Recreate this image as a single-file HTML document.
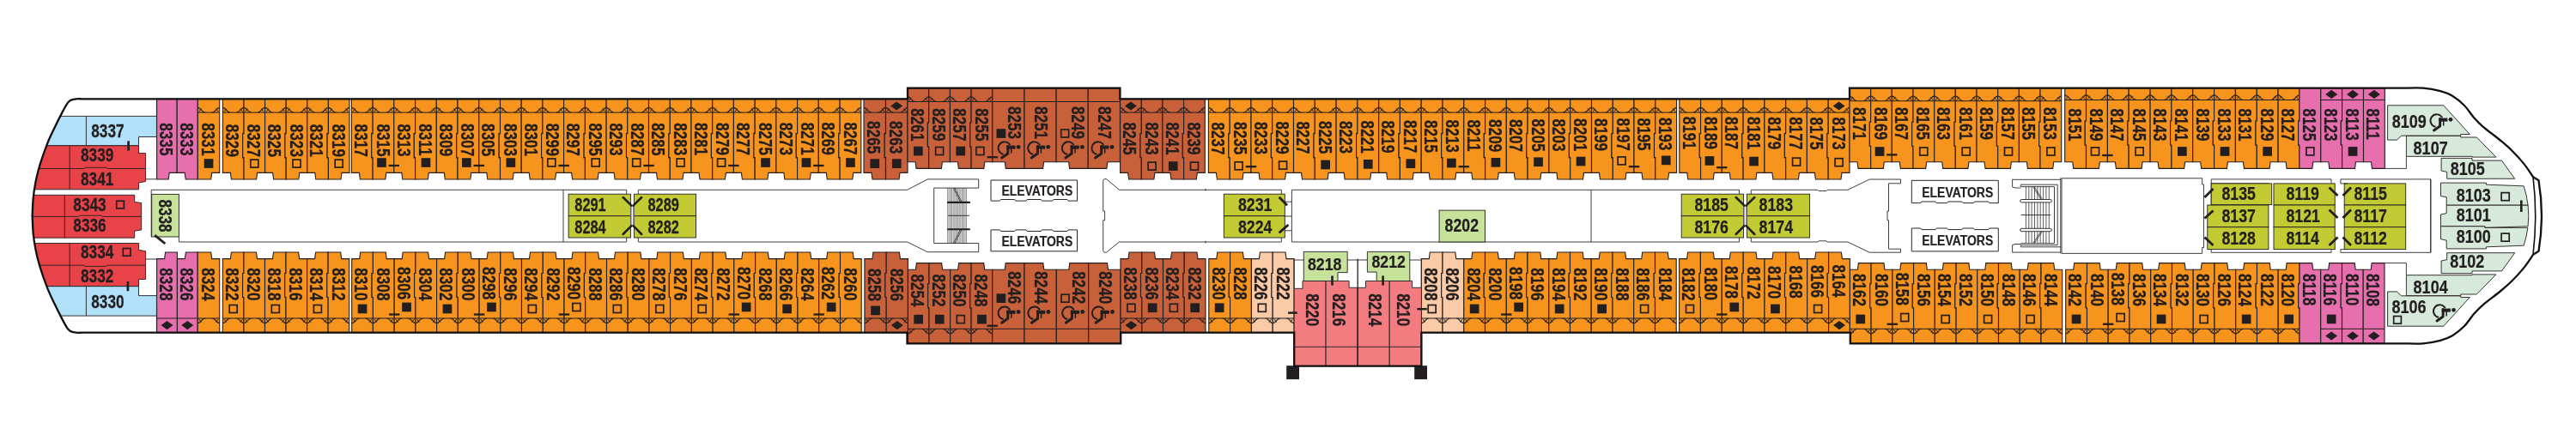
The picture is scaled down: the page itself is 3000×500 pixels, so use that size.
<!DOCTYPE html>
<html><head><meta charset="utf-8"><title>Deck 8</title>
<style>
html,body{margin:0;padding:0;background:#fff;}
svg{display:block;will-change:transform;}
text{font-family:"Liberation Sans",sans-serif;font-weight:bold;fill:#231f20;stroke:#231f20;stroke-width:0.25px;}
</style></head><body>
<svg width="3000" height="500" viewBox="0 0 3000 500">
<rect width="3000" height="500" fill="#fff"/>
<path d="M37.6 251.5 C37.8 248.2 38 238.6 38.6 232 C39.2 225.4 40.2 218.7 41.5 212 C42.8 205.3 44.2 199.5 46.5 192 C48.8 184.5 52.4 174.3 55.2 167.1 C58.1 159.9 60.8 154.6 63.6 148.7 C66.4 142.8 69.5 136.7 72 131.9 C74.5 127.1 76.9 122.6 78.7 120.1 C80.5 117.5 81.1 117.4 82.8 116.6 C84.5 115.8 86.5 115.5 88.7 115.3 C90.9 115.1 93.5 115.3 96 115.3 C98.5 115.3 102.7 115.3 104 115.3 L1057 115.3 L1057 102.7 L1304.4 102.7 L1304.4 115.3 L2154 115.3 L2154 102.7 L2800 102.7 C2803.7 102.7 2815 102.1 2822 102.7 C2829 103.3 2836.3 104.7 2842 106.2 C2847.7 107.7 2851.3 109 2856 111.8 C2860.7 114.6 2865.8 118.8 2870 123 C2874.2 127.2 2877.3 132.8 2881 137 C2884.7 141.2 2887.1 143.7 2892.2 148.1 C2897.3 152.5 2906.2 158.8 2911.8 163.5 C2917.4 168.2 2921.2 171.3 2925.8 176 C2930.5 180.7 2935.7 186.4 2939.7 191.4 C2943.7 196.4 2948.3 203.7 2950 206.2 L2956.5 210.2 C2961 237 2961 266 2956.5 292.8 L2950 296.8 C2948.3 299.3 2943.7 306.6 2939.7 311.6 C2935.7 316.6 2930.5 322.4 2925.8 327 C2921.2 331.6 2917.4 334.9 2911.8 339.5 C2906.2 344.1 2897.3 350.5 2892.2 354.9 C2887.1 359.3 2884.7 361.8 2881 366 C2877.3 370.2 2874.2 375.8 2870 380 C2865.8 384.2 2860.7 388.4 2856 391.2 C2851.3 394 2847.7 395.3 2842 396.8 C2836.3 398.3 2829 399.7 2822 400.3 C2815 400.9 2803.7 400.3 2800 400.3 L2154.9 400.3 L2154.9 387.7 L1655.4 387.7 L1655.4 426.6 L1507.2 426.6 L1507.2 387.7 L1305.2 387.7 L1305.2 400.3 L1056.5 400.3 L1056.5 387.7 L104 387.7 C102.7 387.7 98.5 387.7 96 387.7 C93.5 387.7 90.9 387.9 88.7 387.7 C86.5 387.5 84.5 387.2 82.8 386.4 C81.1 385.6 80.5 385.4 78.7 382.9 C76.9 380.3 74.5 375.9 72 371.1 C69.5 366.3 66.4 360.2 63.6 354.3 C60.8 348.4 58.1 343.1 55.2 335.9 C52.4 328.7 48.8 318.5 46.5 311 C44.2 303.5 42.8 297.7 41.5 291 C40.2 284.3 39.2 277.6 38.6 271 C38 264.4 37.8 254.8 37.6 251.5 Z" fill="#fff" stroke="none"/>
<path d="M182.6 115.3 L206.2 115.3 L206.2 201.4 L197.2 201.4 L196.2 209 L182.6 209Z" fill="#e86fae" stroke="#231f20" stroke-width="1.1" stroke-linejoin="miter" />
<path d="M206.2 115.3 L230.3 115.3 L230.3 209 L216.2 209 L215.2 201.4 L206.2 201.4Z" fill="#e86fae" stroke="#231f20" stroke-width="1.1" stroke-linejoin="miter" />
<path d="M230.3 115.3 L255.7 115.3 L255.7 201.4 L246.7 201.4 L245.7 209 L230.3 209Z" fill="#f7941d" stroke="#231f20" stroke-width="1.1" stroke-linejoin="miter" />
<path d="M230.3 131.1 L255.7 131.1" fill="none" stroke="#231f20" stroke-width="1.0" />
<path d="M239.1 131.1 C235.7 131.1 234.5 125.2 230.3 125.2 M237.1 131.1 L230.9 125.6 M234.6 126.5 L231.7 130.4 M246.9 131.1 C250.3 131.1 251.5 125.2 255.7 125.2 M248.9 131.1 L255.1 125.6 M251.4 126.5 L254.3 130.4" fill="none" stroke="#231f20" stroke-width="0.9"/>
<path d="M169.6 208.8 L182.6 208.8" fill="none" stroke="#231f20" stroke-width="0.9" />
<path d="M259.4 115.3 L284 115.3 L284 155.6 L282.7 155.6 L282.7 183.6 L284 183.6 L284 209 L269.4 209 L268.4 201.4 L259.4 201.4Z" fill="#f7941d" stroke="#231f20" stroke-width="1.1" stroke-linejoin="miter" />
<path d="M259.4 131.1 L284 131.1" fill="none" stroke="#231f20" stroke-width="1.0" />
<path d="M284 115.3 L308.6 115.3 L308.6 201.4 L299.6 201.4 L298.6 209 L284 209 L284 183.6 L282.7 183.6 L282.7 155.6 L284 155.6Z" fill="#f7941d" stroke="#231f20" stroke-width="1.1" stroke-linejoin="miter" />
<path d="M284 131.1 L308.6 131.1" fill="none" stroke="#231f20" stroke-width="1.0" />
<path d="M308.6 115.3 L333.2 115.3 L333.2 155.6 L331.9 155.6 L331.9 183.6 L333.2 183.6 L333.2 209 L318.6 209 L317.6 201.4 L308.6 201.4Z" fill="#f7941d" stroke="#231f20" stroke-width="1.1" stroke-linejoin="miter" />
<path d="M308.6 131.1 L333.2 131.1" fill="none" stroke="#231f20" stroke-width="1.0" />
<path d="M333.2 115.3 L357.8 115.3 L357.8 201.4 L348.8 201.4 L347.8 209 L333.2 209 L333.2 183.6 L331.9 183.6 L331.9 155.6 L333.2 155.6Z" fill="#f7941d" stroke="#231f20" stroke-width="1.1" stroke-linejoin="miter" />
<path d="M333.2 131.1 L357.8 131.1" fill="none" stroke="#231f20" stroke-width="1.0" />
<path d="M357.8 115.3 L382.4 115.3 L382.4 155.6 L381.1 155.6 L381.1 183.6 L382.4 183.6 L382.4 209 L367.8 209 L366.8 201.4 L357.8 201.4Z" fill="#f7941d" stroke="#231f20" stroke-width="1.1" stroke-linejoin="miter" />
<path d="M357.8 131.1 L382.4 131.1" fill="none" stroke="#231f20" stroke-width="1.0" />
<path d="M382.4 115.3 L407 115.3 L407 201.4 L398 201.4 L397 209 L382.4 209 L382.4 183.6 L381.1 183.6 L381.1 155.6 L382.4 155.6Z" fill="#f7941d" stroke="#231f20" stroke-width="1.1" stroke-linejoin="miter" />
<path d="M382.4 131.1 L407 131.1" fill="none" stroke="#231f20" stroke-width="1.0" />
<path d="M268.2 131.1 C264.8 131.1 263.6 125.2 259.4 125.2 M266.2 131.1 L260 125.6 M263.7 126.5 L260.8 130.4 M275.2 131.1 C278.6 131.1 279.8 125.2 284 125.2 M277.2 131.1 L283.4 125.6 M279.7 126.5 L282.6 130.4 M292.8 131.1 C289.4 131.1 288.2 125.2 284 125.2 M290.8 131.1 L284.6 125.6 M288.3 126.5 L285.4 130.4 M299.8 131.1 C303.2 131.1 304.4 125.2 308.6 125.2 M301.8 131.1 L308 125.6 M304.3 126.5 L307.2 130.4 M317.4 131.1 C314 131.1 312.8 125.2 308.6 125.2 M315.4 131.1 L309.2 125.6 M312.9 126.5 L310 130.4 M324.4 131.1 C327.8 131.1 329 125.2 333.2 125.2 M326.4 131.1 L332.6 125.6 M328.9 126.5 L331.8 130.4 M342 131.1 C338.6 131.1 337.4 125.2 333.2 125.2 M340 131.1 L333.8 125.6 M337.5 126.5 L334.6 130.4 M349 131.1 C352.4 131.1 353.6 125.2 357.8 125.2 M351 131.1 L357.2 125.6 M353.5 126.5 L356.4 130.4 M366.6 131.1 C363.2 131.1 362 125.2 357.8 125.2 M364.6 131.1 L358.4 125.6 M362.1 126.5 L359.2 130.4 M373.6 131.1 C377 131.1 378.2 125.2 382.4 125.2 M375.6 131.1 L381.8 125.6 M378.1 126.5 L381 130.4 M391.2 131.1 C387.8 131.1 386.6 125.2 382.4 125.2 M389.2 131.1 L383 125.6 M386.7 126.5 L383.8 130.4 M398.2 131.1 C401.6 131.1 402.8 125.2 407 125.2 M400.2 131.1 L406.4 125.6 M402.7 126.5 L405.6 130.4" fill="none" stroke="#231f20" stroke-width="0.9"/>
<path d="M409.4 115.3 L434.1 115.3 L434.1 155.6 L432.8 155.6 L432.8 183.6 L434.1 183.6 L434.1 209 L419.4 209 L418.4 201.4 L409.4 201.4Z" fill="#f7941d" stroke="#231f20" stroke-width="1.1" stroke-linejoin="miter" />
<path d="M409.4 131.1 L434.1 131.1" fill="none" stroke="#231f20" stroke-width="1.0" />
<path d="M434.1 115.3 L458.8 115.3 L458.8 201.4 L449.8 201.4 L448.8 209 L434.1 209 L434.1 183.6 L432.8 183.6 L432.8 155.6 L434.1 155.6Z" fill="#f7941d" stroke="#231f20" stroke-width="1.1" stroke-linejoin="miter" />
<path d="M434.1 131.1 L458.8 131.1" fill="none" stroke="#231f20" stroke-width="1.0" />
<path d="M458.8 115.3 L483.6 115.3 L483.6 155.6 L482.3 155.6 L482.3 183.6 L483.6 183.6 L483.6 209 L468.8 209 L467.8 201.4 L458.8 201.4Z" fill="#f7941d" stroke="#231f20" stroke-width="1.1" stroke-linejoin="miter" />
<path d="M458.8 131.1 L483.6 131.1" fill="none" stroke="#231f20" stroke-width="1.0" />
<path d="M483.6 115.3 L508.3 115.3 L508.3 201.4 L499.3 201.4 L498.3 209 L483.6 209 L483.6 183.6 L482.3 183.6 L482.3 155.6 L483.6 155.6Z" fill="#f7941d" stroke="#231f20" stroke-width="1.1" stroke-linejoin="miter" />
<path d="M483.6 131.1 L508.3 131.1" fill="none" stroke="#231f20" stroke-width="1.0" />
<path d="M508.3 115.3 L533 115.3 L533 155.6 L531.7 155.6 L531.7 183.6 L533 183.6 L533 209 L518.3 209 L517.3 201.4 L508.3 201.4Z" fill="#f7941d" stroke="#231f20" stroke-width="1.1" stroke-linejoin="miter" />
<path d="M508.3 131.1 L533 131.1" fill="none" stroke="#231f20" stroke-width="1.0" />
<path d="M533 115.3 L557.8 115.3 L557.8 201.4 L548.8 201.4 L547.8 209 L533 209 L533 183.6 L531.7 183.6 L531.7 155.6 L533 155.6Z" fill="#f7941d" stroke="#231f20" stroke-width="1.1" stroke-linejoin="miter" />
<path d="M533 131.1 L557.8 131.1" fill="none" stroke="#231f20" stroke-width="1.0" />
<path d="M557.8 115.3 L582.5 115.3 L582.5 155.6 L581.2 155.6 L581.2 183.6 L582.5 183.6 L582.5 209 L567.8 209 L566.8 201.4 L557.8 201.4Z" fill="#f7941d" stroke="#231f20" stroke-width="1.1" stroke-linejoin="miter" />
<path d="M557.8 131.1 L582.5 131.1" fill="none" stroke="#231f20" stroke-width="1.0" />
<path d="M582.5 115.3 L607.2 115.3 L607.2 201.4 L598.2 201.4 L597.2 209 L582.5 209 L582.5 183.6 L581.2 183.6 L581.2 155.6 L582.5 155.6Z" fill="#f7941d" stroke="#231f20" stroke-width="1.1" stroke-linejoin="miter" />
<path d="M582.5 131.1 L607.2 131.1" fill="none" stroke="#231f20" stroke-width="1.0" />
<path d="M607.2 115.3 L631.9 115.3 L631.9 155.6 L630.6 155.6 L630.6 183.6 L631.9 183.6 L631.9 209 L617.2 209 L616.2 201.4 L607.2 201.4Z" fill="#f7941d" stroke="#231f20" stroke-width="1.1" stroke-linejoin="miter" />
<path d="M607.2 131.1 L631.9 131.1" fill="none" stroke="#231f20" stroke-width="1.0" />
<path d="M631.9 115.3 L656.6 115.3 L656.6 201.4 L647.6 201.4 L646.6 209 L631.9 209 L631.9 183.6 L630.6 183.6 L630.6 155.6 L631.9 155.6Z" fill="#f7941d" stroke="#231f20" stroke-width="1.1" stroke-linejoin="miter" />
<path d="M631.9 131.1 L656.6 131.1" fill="none" stroke="#231f20" stroke-width="1.0" />
<path d="M656.6 115.3 L681.4 115.3 L681.4 155.6 L680.1 155.6 L680.1 183.6 L681.4 183.6 L681.4 209 L666.6 209 L665.6 201.4 L656.6 201.4Z" fill="#f7941d" stroke="#231f20" stroke-width="1.1" stroke-linejoin="miter" />
<path d="M656.6 131.1 L681.4 131.1" fill="none" stroke="#231f20" stroke-width="1.0" />
<path d="M681.4 115.3 L706.1 115.3 L706.1 201.4 L697.1 201.4 L696.1 209 L681.4 209 L681.4 183.6 L680.1 183.6 L680.1 155.6 L681.4 155.6Z" fill="#f7941d" stroke="#231f20" stroke-width="1.1" stroke-linejoin="miter" />
<path d="M681.4 131.1 L706.1 131.1" fill="none" stroke="#231f20" stroke-width="1.0" />
<path d="M706.1 115.3 L730.8 115.3 L730.8 155.6 L729.5 155.6 L729.5 183.6 L730.8 183.6 L730.8 209 L716.1 209 L715.1 201.4 L706.1 201.4Z" fill="#f7941d" stroke="#231f20" stroke-width="1.1" stroke-linejoin="miter" />
<path d="M706.1 131.1 L730.8 131.1" fill="none" stroke="#231f20" stroke-width="1.0" />
<path d="M730.8 115.3 L755.5 115.3 L755.5 201.4 L746.5 201.4 L745.5 209 L730.8 209 L730.8 183.6 L729.5 183.6 L729.5 155.6 L730.8 155.6Z" fill="#f7941d" stroke="#231f20" stroke-width="1.1" stroke-linejoin="miter" />
<path d="M730.8 131.1 L755.5 131.1" fill="none" stroke="#231f20" stroke-width="1.0" />
<path d="M755.5 115.3 L780.3 115.3 L780.3 155.6 L779 155.6 L779 183.6 L780.3 183.6 L780.3 209 L765.5 209 L764.5 201.4 L755.5 201.4Z" fill="#f7941d" stroke="#231f20" stroke-width="1.1" stroke-linejoin="miter" />
<path d="M755.5 131.1 L780.3 131.1" fill="none" stroke="#231f20" stroke-width="1.0" />
<path d="M780.3 115.3 L805 115.3 L805 201.4 L796 201.4 L795 209 L780.3 209 L780.3 183.6 L779 183.6 L779 155.6 L780.3 155.6Z" fill="#f7941d" stroke="#231f20" stroke-width="1.1" stroke-linejoin="miter" />
<path d="M780.3 131.1 L805 131.1" fill="none" stroke="#231f20" stroke-width="1.0" />
<path d="M805 115.3 L829.7 115.3 L829.7 155.6 L828.4 155.6 L828.4 183.6 L829.7 183.6 L829.7 209 L815 209 L814 201.4 L805 201.4Z" fill="#f7941d" stroke="#231f20" stroke-width="1.1" stroke-linejoin="miter" />
<path d="M805 131.1 L829.7 131.1" fill="none" stroke="#231f20" stroke-width="1.0" />
<path d="M829.7 115.3 L854.4 115.3 L854.4 201.4 L845.4 201.4 L844.4 209 L829.7 209 L829.7 183.6 L828.4 183.6 L828.4 155.6 L829.7 155.6Z" fill="#f7941d" stroke="#231f20" stroke-width="1.1" stroke-linejoin="miter" />
<path d="M829.7 131.1 L854.4 131.1" fill="none" stroke="#231f20" stroke-width="1.0" />
<path d="M854.4 115.3 L879.2 115.3 L879.2 155.6 L877.9 155.6 L877.9 183.6 L879.2 183.6 L879.2 209 L864.4 209 L863.4 201.4 L854.4 201.4Z" fill="#f7941d" stroke="#231f20" stroke-width="1.1" stroke-linejoin="miter" />
<path d="M854.4 131.1 L879.2 131.1" fill="none" stroke="#231f20" stroke-width="1.0" />
<path d="M879.2 115.3 L903.9 115.3 L903.9 201.4 L894.9 201.4 L893.9 209 L879.2 209 L879.2 183.6 L877.9 183.6 L877.9 155.6 L879.2 155.6Z" fill="#f7941d" stroke="#231f20" stroke-width="1.1" stroke-linejoin="miter" />
<path d="M879.2 131.1 L903.9 131.1" fill="none" stroke="#231f20" stroke-width="1.0" />
<path d="M903.9 115.3 L928.6 115.3 L928.6 155.6 L927.3 155.6 L927.3 183.6 L928.6 183.6 L928.6 209 L913.9 209 L912.9 201.4 L903.9 201.4Z" fill="#f7941d" stroke="#231f20" stroke-width="1.1" stroke-linejoin="miter" />
<path d="M903.9 131.1 L928.6 131.1" fill="none" stroke="#231f20" stroke-width="1.0" />
<path d="M928.6 115.3 L953.3 115.3 L953.3 201.4 L944.3 201.4 L943.3 209 L928.6 209 L928.6 183.6 L927.3 183.6 L927.3 155.6 L928.6 155.6Z" fill="#f7941d" stroke="#231f20" stroke-width="1.1" stroke-linejoin="miter" />
<path d="M928.6 131.1 L953.3 131.1" fill="none" stroke="#231f20" stroke-width="1.0" />
<path d="M953.3 115.3 L978.1 115.3 L978.1 155.6 L976.8 155.6 L976.8 183.6 L978.1 183.6 L978.1 209 L963.3 209 L962.3 201.4 L953.3 201.4Z" fill="#f7941d" stroke="#231f20" stroke-width="1.1" stroke-linejoin="miter" />
<path d="M953.3 131.1 L978.1 131.1" fill="none" stroke="#231f20" stroke-width="1.0" />
<path d="M978.1 115.3 L1002.8 115.3 L1002.8 201.4 L993.8 201.4 L992.8 209 L978.1 209 L978.1 183.6 L976.8 183.6 L976.8 155.6 L978.1 155.6Z" fill="#f7941d" stroke="#231f20" stroke-width="1.1" stroke-linejoin="miter" />
<path d="M978.1 131.1 L1002.8 131.1" fill="none" stroke="#231f20" stroke-width="1.0" />
<path d="M418.2 131.1 C414.8 131.1 413.6 125.2 409.4 125.2 M416.2 131.1 L410 125.6 M413.7 126.5 L410.8 130.4 M425.3 131.1 C428.7 131.1 429.9 125.2 434.1 125.2 M427.3 131.1 L433.5 125.6 M429.8 126.5 L432.7 130.4 M442.9 131.1 C439.5 131.1 438.3 125.2 434.1 125.2 M440.9 131.1 L434.7 125.6 M438.4 126.5 L435.5 130.4 M450 131.1 C453.4 131.1 454.6 125.2 458.8 125.2 M452 131.1 L458.2 125.6 M454.5 126.5 L457.4 130.4 M467.6 131.1 C464.2 131.1 463 125.2 458.8 125.2 M465.6 131.1 L459.4 125.6 M463.1 126.5 L460.2 130.4 M474.8 131.1 C478.2 131.1 479.4 125.2 483.6 125.2 M476.8 131.1 L483 125.6 M479.3 126.5 L482.2 130.4 M492.4 131.1 C489 131.1 487.8 125.2 483.6 125.2 M490.4 131.1 L484.2 125.6 M487.9 126.5 L485 130.4 M499.5 131.1 C502.9 131.1 504.1 125.2 508.3 125.2 M501.5 131.1 L507.7 125.6 M504 126.5 L506.9 130.4 M517.1 131.1 C513.7 131.1 512.5 125.2 508.3 125.2 M515.1 131.1 L508.9 125.6 M512.6 126.5 L509.7 130.4 M524.2 131.1 C527.6 131.1 528.8 125.2 533 125.2 M526.2 131.1 L532.4 125.6 M528.7 126.5 L531.6 130.4 M541.8 131.1 C538.4 131.1 537.2 125.2 533 125.2 M539.8 131.1 L533.6 125.6 M537.3 126.5 L534.4 130.4 M549 131.1 C552.4 131.1 553.5 125.2 557.8 125.2 M551 131.1 L557.1 125.6 M553.5 126.5 L556.4 130.4 M566.5 131.1 C563.1 131.1 562 125.2 557.8 125.2 M564.5 131.1 L558.4 125.6 M562 126.5 L559.1 130.4 M573.7 131.1 C577.1 131.1 578.3 125.2 582.5 125.2 M575.7 131.1 L581.9 125.6 M578.2 126.5 L581.1 130.4 M591.3 131.1 C587.9 131.1 586.7 125.2 582.5 125.2 M589.3 131.1 L583.1 125.6 M586.8 126.5 L583.9 130.4 M598.4 131.1 C601.8 131.1 603 125.2 607.2 125.2 M600.4 131.1 L606.6 125.6 M602.9 126.5 L605.8 130.4 M616 131.1 C612.6 131.1 611.4 125.2 607.2 125.2 M614 131.1 L607.8 125.6 M611.5 126.5 L608.6 130.4 M623.1 131.1 C626.5 131.1 627.7 125.2 631.9 125.2 M625.1 131.1 L631.3 125.6 M627.6 126.5 L630.5 130.4 M640.7 131.1 C637.3 131.1 636.1 125.2 631.9 125.2 M638.7 131.1 L632.5 125.6 M636.2 126.5 L633.3 130.4 M647.9 131.1 C651.2 131.1 652.4 125.2 656.6 125.2 M649.9 131.1 L656 125.6 M652.4 126.5 L655.2 130.4 M665.4 131.1 C662 131.1 660.9 125.2 656.6 125.2 M663.4 131.1 L657.2 125.6 M660.9 126.5 L658 130.4 M672.6 131.1 C676 131.1 677.2 125.2 681.4 125.2 M674.6 131.1 L680.8 125.6 M677.1 126.5 L680 130.4 M690.2 131.1 C686.8 131.1 685.6 125.2 681.4 125.2 M688.2 131.1 L682 125.6 M685.7 126.5 L682.8 130.4 M697.3 131.1 C700.7 131.1 701.9 125.2 706.1 125.2 M699.3 131.1 L705.5 125.6 M701.8 126.5 L704.7 130.4 M714.9 131.1 C711.5 131.1 710.3 125.2 706.1 125.2 M712.9 131.1 L706.7 125.6 M710.4 126.5 L707.5 130.4 M722 131.1 C725.4 131.1 726.6 125.2 730.8 125.2 M724 131.1 L730.2 125.6 M726.5 126.5 L729.4 130.4 M739.6 131.1 C736.2 131.1 735 125.2 730.8 125.2 M737.6 131.1 L731.4 125.6 M735.1 126.5 L732.2 130.4 M746.8 131.1 C750.1 131.1 751.3 125.2 755.5 125.2 M748.8 131.1 L754.9 125.6 M751.2 126.5 L754.1 130.4 M764.3 131.1 C760.9 131.1 759.8 125.2 755.5 125.2 M762.3 131.1 L756.1 125.6 M759.8 126.5 L756.9 130.4 M771.5 131.1 C774.9 131.1 776.1 125.2 780.3 125.2 M773.5 131.1 L779.7 125.6 M776 126.5 L778.9 130.4 M789.1 131.1 C785.7 131.1 784.5 125.2 780.3 125.2 M787.1 131.1 L780.9 125.6 M784.6 126.5 L781.7 130.4 M796.2 131.1 C799.6 131.1 800.8 125.2 805 125.2 M798.2 131.1 L804.4 125.6 M800.7 126.5 L803.6 130.4 M813.8 131.1 C810.4 131.1 809.2 125.2 805 125.2 M811.8 131.1 L805.6 125.6 M809.3 126.5 L806.4 130.4 M820.9 131.1 C824.3 131.1 825.5 125.2 829.7 125.2 M822.9 131.1 L829.1 125.6 M825.4 126.5 L828.3 130.4 M838.5 131.1 C835.1 131.1 833.9 125.2 829.7 125.2 M836.5 131.1 L830.3 125.6 M834 126.5 L831.1 130.4 M845.6 131.1 C849 131.1 850.2 125.2 854.4 125.2 M847.6 131.1 L853.8 125.6 M850.1 126.5 L853 130.4 M863.2 131.1 C859.8 131.1 858.6 125.2 854.4 125.2 M861.2 131.1 L855 125.6 M858.7 126.5 L855.8 130.4 M870.4 131.1 C873.8 131.1 875 125.2 879.2 125.2 M872.4 131.1 L878.6 125.6 M874.9 126.5 L877.8 130.4 M888 131.1 C884.6 131.1 883.4 125.2 879.2 125.2 M886 131.1 L879.8 125.6 M883.5 126.5 L880.6 130.4 M895.1 131.1 C898.5 131.1 899.7 125.2 903.9 125.2 M897.1 131.1 L903.3 125.6 M899.6 126.5 L902.5 130.4 M912.7 131.1 C909.3 131.1 908.1 125.2 903.9 125.2 M910.7 131.1 L904.5 125.6 M908.2 126.5 L905.3 130.4 M919.8 131.1 C923.2 131.1 924.4 125.2 928.6 125.2 M921.8 131.1 L928 125.6 M924.3 126.5 L927.2 130.4 M937.4 131.1 C934 131.1 932.8 125.2 928.6 125.2 M935.4 131.1 L929.2 125.6 M932.9 126.5 L930 130.4 M944.5 131.1 C947.9 131.1 949.1 125.2 953.3 125.2 M946.5 131.1 L952.7 125.6 M949 126.5 L951.9 130.4 M962.1 131.1 C958.7 131.1 957.5 125.2 953.3 125.2 M960.1 131.1 L953.9 125.6 M957.6 126.5 L954.7 130.4 M969.3 131.1 C972.7 131.1 973.9 125.2 978.1 125.2 M971.3 131.1 L977.5 125.6 M973.8 126.5 L976.7 130.4 M986.9 131.1 C983.5 131.1 982.3 125.2 978.1 125.2 M984.9 131.1 L978.7 125.6 M982.4 126.5 L979.5 130.4 M994 131.1 C997.4 131.1 998.6 125.2 1002.8 125.2 M996 131.1 L1002.2 125.6 M998.5 126.5 L1001.4 130.4" fill="none" stroke="#231f20" stroke-width="0.9"/>
<path d="M1006 115.3 L1031.5 115.3 L1031.5 155.6 L1030.2 155.6 L1030.2 183.6 L1031.5 183.6 L1031.5 209 L1016 209 L1015 201.4 L1006 201.4Z" fill="#c8603a" stroke="#231f20" stroke-width="1.1" stroke-linejoin="miter" />
<path d="M1006 131.1 L1031.5 131.1" fill="none" stroke="#231f20" stroke-width="1.0" />
<path d="M1031.5 115.3 L1057 115.3 L1057 201.4 L1048 201.4 L1047 209 L1031.5 209 L1031.5 183.6 L1030.2 183.6 L1030.2 155.6 L1031.5 155.6Z" fill="#c8603a" stroke="#231f20" stroke-width="1.1" stroke-linejoin="miter" />
<path d="M1031.5 131.1 L1057 131.1" fill="none" stroke="#231f20" stroke-width="1.0" />
<path d="M1014.8 131.1 C1011.4 131.1 1010.2 125.2 1006 125.2 M1012.8 131.1 L1006.6 125.6 M1010.3 126.5 L1007.4 130.4 M1022.7 131.1 C1026.1 131.1 1027.3 125.2 1031.5 125.2 M1024.7 131.1 L1030.9 125.6 M1027.2 126.5 L1030.1 130.4 M1040.3 131.1 C1036.9 131.1 1035.7 125.2 1031.5 125.2 M1038.3 131.1 L1032.1 125.6 M1035.8 126.5 L1032.9 130.4 M1048.2 131.1 C1051.6 131.1 1052.8 125.2 1057 125.2 M1050.2 131.1 L1056.4 125.6 M1052.7 126.5 L1055.6 130.4" fill="none" stroke="#231f20" stroke-width="0.9"/>
<path d="M1057 102.7 L1081.7 102.7 L1081.7 143 L1080.4 143 L1080.4 171 L1081.7 171 L1081.7 196.4 L1067 196.4 L1066 188.8 L1057 188.8Z" fill="#c8603a" stroke="#231f20" stroke-width="1.1" stroke-linejoin="miter" />
<path d="M1057 118.5 L1081.7 118.5" fill="none" stroke="#231f20" stroke-width="1.0" />
<path d="M1081.7 102.7 L1106.4 102.7 L1106.4 188.8 L1097.4 188.8 L1096.4 196.4 L1081.7 196.4 L1081.7 171 L1080.4 171 L1080.4 143 L1081.7 143Z" fill="#c8603a" stroke="#231f20" stroke-width="1.1" stroke-linejoin="miter" />
<path d="M1081.7 118.5 L1106.4 118.5" fill="none" stroke="#231f20" stroke-width="1.0" />
<path d="M1106.4 102.7 L1131.1 102.7 L1131.1 143 L1129.8 143 L1129.8 171 L1131.1 171 L1131.1 196.4 L1116.4 196.4 L1115.4 188.8 L1106.4 188.8Z" fill="#c8603a" stroke="#231f20" stroke-width="1.1" stroke-linejoin="miter" />
<path d="M1106.4 118.5 L1131.1 118.5" fill="none" stroke="#231f20" stroke-width="1.0" />
<path d="M1131.1 102.7 L1155.8 102.7 L1155.8 188.8 L1146.8 188.8 L1145.8 196.4 L1131.1 196.4 L1131.1 171 L1129.8 171 L1129.8 143 L1131.1 143Z" fill="#c8603a" stroke="#231f20" stroke-width="1.1" stroke-linejoin="miter" />
<path d="M1131.1 118.5 L1155.8 118.5" fill="none" stroke="#231f20" stroke-width="1.0" />
<path d="M1065.8 118.5 C1062.4 118.5 1061.2 112.6 1057 112.6 M1063.8 118.5 L1057.6 113 M1061.3 113.9 L1058.4 117.8 M1072.9 118.5 C1076.3 118.5 1077.5 112.6 1081.7 112.6 M1074.9 118.5 L1081.1 113 M1077.4 113.9 L1080.3 117.8 M1090.5 118.5 C1087.1 118.5 1085.9 112.6 1081.7 112.6 M1088.5 118.5 L1082.3 113 M1086 113.9 L1083.1 117.8 M1097.6 118.5 C1101 118.5 1102.2 112.6 1106.4 112.6 M1099.6 118.5 L1105.8 113 M1102.1 113.9 L1105 117.8 M1115.2 118.5 C1111.8 118.5 1110.6 112.6 1106.4 112.6 M1113.2 118.5 L1107 113 M1110.7 113.9 L1107.8 117.8 M1122.3 118.5 C1125.7 118.5 1126.9 112.6 1131.1 112.6 M1124.3 118.5 L1130.5 113 M1126.8 113.9 L1129.7 117.8 M1139.9 118.5 C1136.5 118.5 1135.3 112.6 1131.1 112.6 M1137.9 118.5 L1131.7 113 M1135.4 113.9 L1132.5 117.8 M1147 118.5 C1150.4 118.5 1151.6 112.6 1155.8 112.6 M1149 118.5 L1155.2 113 M1151.5 113.9 L1154.4 117.8" fill="none" stroke="#231f20" stroke-width="0.9"/>
<path d="M1155.8 102.7 L1193 102.7 L1193 196.4 L1171.3 196.4 L1170.3 188.8 L1155.8 188.8Z" fill="#c8603a" stroke="#231f20" stroke-width="1.1" stroke-linejoin="miter" />
<path d="M1155.8 118.5 L1193 118.5" fill="none" stroke="#231f20" stroke-width="1.0" />
<path d="M1193 102.7 L1230.1 102.7 L1230.1 188.8 L1215.6 188.8 L1214.6 196.4 L1193 196.4Z" fill="#c8603a" stroke="#231f20" stroke-width="1.1" stroke-linejoin="miter" />
<path d="M1193 118.5 L1230.1 118.5" fill="none" stroke="#231f20" stroke-width="1.0" />
<path d="M1230.1 102.7 L1267.2 102.7 L1267.2 196.4 L1245.6 196.4 L1244.6 188.8 L1230.1 188.8Z" fill="#c8603a" stroke="#231f20" stroke-width="1.1" stroke-linejoin="miter" />
<path d="M1230.1 118.5 L1267.2 118.5" fill="none" stroke="#231f20" stroke-width="1.0" />
<path d="M1267.2 102.7 L1304.4 102.7 L1304.4 188.8 L1289.9 188.8 L1288.9 196.4 L1267.2 196.4Z" fill="#c8603a" stroke="#231f20" stroke-width="1.1" stroke-linejoin="miter" />
<path d="M1267.2 118.5 L1304.4 118.5" fill="none" stroke="#231f20" stroke-width="1.0" />
<path d="M1304.6 115.3 L1329.3 115.3 L1329.3 155.6 L1328 155.6 L1328 183.6 L1329.3 183.6 L1329.3 209 L1314.6 209 L1313.6 201.4 L1304.6 201.4Z" fill="#c8603a" stroke="#231f20" stroke-width="1.1" stroke-linejoin="miter" />
<path d="M1304.6 131.1 L1329.3 131.1" fill="none" stroke="#231f20" stroke-width="1.0" />
<path d="M1329.3 115.3 L1353.9 115.3 L1353.9 201.4 L1344.9 201.4 L1343.9 209 L1329.3 209 L1329.3 183.6 L1328 183.6 L1328 155.6 L1329.3 155.6Z" fill="#c8603a" stroke="#231f20" stroke-width="1.1" stroke-linejoin="miter" />
<path d="M1329.3 131.1 L1353.9 131.1" fill="none" stroke="#231f20" stroke-width="1.0" />
<path d="M1353.9 115.3 L1378.6 115.3 L1378.6 155.6 L1377.3 155.6 L1377.3 183.6 L1378.6 183.6 L1378.6 209 L1363.9 209 L1362.9 201.4 L1353.9 201.4Z" fill="#c8603a" stroke="#231f20" stroke-width="1.1" stroke-linejoin="miter" />
<path d="M1353.9 131.1 L1378.6 131.1" fill="none" stroke="#231f20" stroke-width="1.0" />
<path d="M1378.6 115.3 L1403.3 115.3 L1403.3 201.4 L1394.3 201.4 L1393.3 209 L1378.6 209 L1378.6 183.6 L1377.3 183.6 L1377.3 155.6 L1378.6 155.6Z" fill="#c8603a" stroke="#231f20" stroke-width="1.1" stroke-linejoin="miter" />
<path d="M1378.6 131.1 L1403.3 131.1" fill="none" stroke="#231f20" stroke-width="1.0" />
<path d="M1313.4 131.1 C1310 131.1 1308.8 125.2 1304.6 125.2 M1311.4 131.1 L1305.2 125.6 M1308.9 126.5 L1306 130.4 M1320.5 131.1 C1323.9 131.1 1325.1 125.2 1329.3 125.2 M1322.5 131.1 L1328.7 125.6 M1325 126.5 L1327.9 130.4 M1338.1 131.1 C1334.7 131.1 1333.5 125.2 1329.3 125.2 M1336.1 131.1 L1329.9 125.6 M1333.6 126.5 L1330.7 130.4 M1345.1 131.1 C1348.5 131.1 1349.7 125.2 1353.9 125.2 M1347.1 131.1 L1353.3 125.6 M1349.6 126.5 L1352.5 130.4 M1362.7 131.1 C1359.3 131.1 1358.1 125.2 1353.9 125.2 M1360.7 131.1 L1354.5 125.6 M1358.2 126.5 L1355.3 130.4 M1369.8 131.1 C1373.2 131.1 1374.4 125.2 1378.6 125.2 M1371.8 131.1 L1378 125.6 M1374.3 126.5 L1377.2 130.4 M1387.4 131.1 C1384 131.1 1382.8 125.2 1378.6 125.2 M1385.4 131.1 L1379.2 125.6 M1382.9 126.5 L1380 130.4 M1394.5 131.1 C1397.9 131.1 1399.1 125.2 1403.3 125.2 M1396.5 131.1 L1402.7 125.6 M1399 126.5 L1401.9 130.4" fill="none" stroke="#231f20" stroke-width="0.9"/>
<path d="M1407.4 115.3 L1432.2 115.3 L1432.2 155.6 L1430.9 155.6 L1430.9 183.6 L1432.2 183.6 L1432.2 209 L1417.4 209 L1416.4 201.4 L1407.4 201.4Z" fill="#f7941d" stroke="#231f20" stroke-width="1.1" stroke-linejoin="miter" />
<path d="M1407.4 131.1 L1432.2 131.1" fill="none" stroke="#231f20" stroke-width="1.0" />
<path d="M1432.2 115.3 L1457 115.3 L1457 201.4 L1448 201.4 L1447 209 L1432.2 209 L1432.2 183.6 L1430.9 183.6 L1430.9 155.6 L1432.2 155.6Z" fill="#f7941d" stroke="#231f20" stroke-width="1.1" stroke-linejoin="miter" />
<path d="M1432.2 131.1 L1457 131.1" fill="none" stroke="#231f20" stroke-width="1.0" />
<path d="M1457 115.3 L1481.7 115.3 L1481.7 155.6 L1480.4 155.6 L1480.4 183.6 L1481.7 183.6 L1481.7 209 L1467 209 L1466 201.4 L1457 201.4Z" fill="#f7941d" stroke="#231f20" stroke-width="1.1" stroke-linejoin="miter" />
<path d="M1457 131.1 L1481.7 131.1" fill="none" stroke="#231f20" stroke-width="1.0" />
<path d="M1481.7 115.3 L1506.5 115.3 L1506.5 201.4 L1497.5 201.4 L1496.5 209 L1481.7 209 L1481.7 183.6 L1480.4 183.6 L1480.4 155.6 L1481.7 155.6Z" fill="#f7941d" stroke="#231f20" stroke-width="1.1" stroke-linejoin="miter" />
<path d="M1481.7 131.1 L1506.5 131.1" fill="none" stroke="#231f20" stroke-width="1.0" />
<path d="M1506.5 115.3 L1531.3 115.3 L1531.3 155.6 L1530 155.6 L1530 183.6 L1531.3 183.6 L1531.3 209 L1516.5 209 L1515.5 201.4 L1506.5 201.4Z" fill="#f7941d" stroke="#231f20" stroke-width="1.1" stroke-linejoin="miter" />
<path d="M1506.5 131.1 L1531.3 131.1" fill="none" stroke="#231f20" stroke-width="1.0" />
<path d="M1531.3 115.3 L1556.1 115.3 L1556.1 201.4 L1547.1 201.4 L1546.1 209 L1531.3 209 L1531.3 183.6 L1530 183.6 L1530 155.6 L1531.3 155.6Z" fill="#f7941d" stroke="#231f20" stroke-width="1.1" stroke-linejoin="miter" />
<path d="M1531.3 131.1 L1556.1 131.1" fill="none" stroke="#231f20" stroke-width="1.0" />
<path d="M1556.1 115.3 L1580.9 115.3 L1580.9 155.6 L1579.6 155.6 L1579.6 183.6 L1580.9 183.6 L1580.9 209 L1566.1 209 L1565.1 201.4 L1556.1 201.4Z" fill="#f7941d" stroke="#231f20" stroke-width="1.1" stroke-linejoin="miter" />
<path d="M1556.1 131.1 L1580.9 131.1" fill="none" stroke="#231f20" stroke-width="1.0" />
<path d="M1580.9 115.3 L1605.7 115.3 L1605.7 201.4 L1596.7 201.4 L1595.7 209 L1580.9 209 L1580.9 183.6 L1579.6 183.6 L1579.6 155.6 L1580.9 155.6Z" fill="#f7941d" stroke="#231f20" stroke-width="1.1" stroke-linejoin="miter" />
<path d="M1580.9 131.1 L1605.7 131.1" fill="none" stroke="#231f20" stroke-width="1.0" />
<path d="M1605.7 115.3 L1630.4 115.3 L1630.4 155.6 L1629.1 155.6 L1629.1 183.6 L1630.4 183.6 L1630.4 209 L1615.7 209 L1614.7 201.4 L1605.7 201.4Z" fill="#f7941d" stroke="#231f20" stroke-width="1.1" stroke-linejoin="miter" />
<path d="M1605.7 131.1 L1630.4 131.1" fill="none" stroke="#231f20" stroke-width="1.0" />
<path d="M1630.4 115.3 L1655.2 115.3 L1655.2 201.4 L1646.2 201.4 L1645.2 209 L1630.4 209 L1630.4 183.6 L1629.1 183.6 L1629.1 155.6 L1630.4 155.6Z" fill="#f7941d" stroke="#231f20" stroke-width="1.1" stroke-linejoin="miter" />
<path d="M1630.4 131.1 L1655.2 131.1" fill="none" stroke="#231f20" stroke-width="1.0" />
<path d="M1655.2 115.3 L1680 115.3 L1680 155.6 L1678.7 155.6 L1678.7 183.6 L1680 183.6 L1680 209 L1665.2 209 L1664.2 201.4 L1655.2 201.4Z" fill="#f7941d" stroke="#231f20" stroke-width="1.1" stroke-linejoin="miter" />
<path d="M1655.2 131.1 L1680 131.1" fill="none" stroke="#231f20" stroke-width="1.0" />
<path d="M1680 115.3 L1704.8 115.3 L1704.8 201.4 L1695.8 201.4 L1694.8 209 L1680 209 L1680 183.6 L1678.7 183.6 L1678.7 155.6 L1680 155.6Z" fill="#f7941d" stroke="#231f20" stroke-width="1.1" stroke-linejoin="miter" />
<path d="M1680 131.1 L1704.8 131.1" fill="none" stroke="#231f20" stroke-width="1.0" />
<path d="M1704.8 115.3 L1729.6 115.3 L1729.6 155.6 L1728.3 155.6 L1728.3 183.6 L1729.6 183.6 L1729.6 209 L1714.8 209 L1713.8 201.4 L1704.8 201.4Z" fill="#f7941d" stroke="#231f20" stroke-width="1.1" stroke-linejoin="miter" />
<path d="M1704.8 131.1 L1729.6 131.1" fill="none" stroke="#231f20" stroke-width="1.0" />
<path d="M1729.6 115.3 L1754.3 115.3 L1754.3 201.4 L1745.3 201.4 L1744.3 209 L1729.6 209 L1729.6 183.6 L1728.3 183.6 L1728.3 155.6 L1729.6 155.6Z" fill="#f7941d" stroke="#231f20" stroke-width="1.1" stroke-linejoin="miter" />
<path d="M1729.6 131.1 L1754.3 131.1" fill="none" stroke="#231f20" stroke-width="1.0" />
<path d="M1754.3 115.3 L1779.1 115.3 L1779.1 155.6 L1777.8 155.6 L1777.8 183.6 L1779.1 183.6 L1779.1 209 L1764.3 209 L1763.3 201.4 L1754.3 201.4Z" fill="#f7941d" stroke="#231f20" stroke-width="1.1" stroke-linejoin="miter" />
<path d="M1754.3 131.1 L1779.1 131.1" fill="none" stroke="#231f20" stroke-width="1.0" />
<path d="M1779.1 115.3 L1803.9 115.3 L1803.9 201.4 L1794.9 201.4 L1793.9 209 L1779.1 209 L1779.1 183.6 L1777.8 183.6 L1777.8 155.6 L1779.1 155.6Z" fill="#f7941d" stroke="#231f20" stroke-width="1.1" stroke-linejoin="miter" />
<path d="M1779.1 131.1 L1803.9 131.1" fill="none" stroke="#231f20" stroke-width="1.0" />
<path d="M1803.9 115.3 L1828.7 115.3 L1828.7 155.6 L1827.4 155.6 L1827.4 183.6 L1828.7 183.6 L1828.7 209 L1813.9 209 L1812.9 201.4 L1803.9 201.4Z" fill="#f7941d" stroke="#231f20" stroke-width="1.1" stroke-linejoin="miter" />
<path d="M1803.9 131.1 L1828.7 131.1" fill="none" stroke="#231f20" stroke-width="1.0" />
<path d="M1828.7 115.3 L1853.5 115.3 L1853.5 201.4 L1844.5 201.4 L1843.5 209 L1828.7 209 L1828.7 183.6 L1827.4 183.6 L1827.4 155.6 L1828.7 155.6Z" fill="#f7941d" stroke="#231f20" stroke-width="1.1" stroke-linejoin="miter" />
<path d="M1828.7 131.1 L1853.5 131.1" fill="none" stroke="#231f20" stroke-width="1.0" />
<path d="M1853.5 115.3 L1878.3 115.3 L1878.3 155.6 L1877 155.6 L1877 183.6 L1878.3 183.6 L1878.3 209 L1863.5 209 L1862.5 201.4 L1853.5 201.4Z" fill="#f7941d" stroke="#231f20" stroke-width="1.1" stroke-linejoin="miter" />
<path d="M1853.5 131.1 L1878.3 131.1" fill="none" stroke="#231f20" stroke-width="1.0" />
<path d="M1878.3 115.3 L1903 115.3 L1903 201.4 L1894 201.4 L1893 209 L1878.3 209 L1878.3 183.6 L1877 183.6 L1877 155.6 L1878.3 155.6Z" fill="#f7941d" stroke="#231f20" stroke-width="1.1" stroke-linejoin="miter" />
<path d="M1878.3 131.1 L1903 131.1" fill="none" stroke="#231f20" stroke-width="1.0" />
<path d="M1903 115.3 L1927.8 115.3 L1927.8 155.6 L1926.5 155.6 L1926.5 183.6 L1927.8 183.6 L1927.8 209 L1913 209 L1912 201.4 L1903 201.4Z" fill="#f7941d" stroke="#231f20" stroke-width="1.1" stroke-linejoin="miter" />
<path d="M1903 131.1 L1927.8 131.1" fill="none" stroke="#231f20" stroke-width="1.0" />
<path d="M1927.8 115.3 L1952.6 115.3 L1952.6 201.4 L1943.6 201.4 L1942.6 209 L1927.8 209 L1927.8 183.6 L1926.5 183.6 L1926.5 155.6 L1927.8 155.6Z" fill="#f7941d" stroke="#231f20" stroke-width="1.1" stroke-linejoin="miter" />
<path d="M1927.8 131.1 L1952.6 131.1" fill="none" stroke="#231f20" stroke-width="1.0" />
<path d="M1416.2 131.1 C1412.8 131.1 1411.6 125.2 1407.4 125.2 M1414.2 131.1 L1408 125.6 M1411.7 126.5 L1408.8 130.4 M1423.4 131.1 C1426.8 131.1 1428 125.2 1432.2 125.2 M1425.4 131.1 L1431.6 125.6 M1427.9 126.5 L1430.8 130.4 M1441 131.1 C1437.6 131.1 1436.4 125.2 1432.2 125.2 M1439 131.1 L1432.8 125.6 M1436.5 126.5 L1433.6 130.4 M1448.2 131.1 C1451.6 131.1 1452.8 125.2 1457 125.2 M1450.2 131.1 L1456.4 125.6 M1452.7 126.5 L1455.6 130.4 M1465.8 131.1 C1462.4 131.1 1461.2 125.2 1457 125.2 M1463.8 131.1 L1457.6 125.6 M1461.3 126.5 L1458.4 130.4 M1472.9 131.1 C1476.3 131.1 1477.5 125.2 1481.7 125.2 M1474.9 131.1 L1481.1 125.6 M1477.4 126.5 L1480.3 130.4 M1490.5 131.1 C1487.1 131.1 1485.9 125.2 1481.7 125.2 M1488.5 131.1 L1482.3 125.6 M1486 126.5 L1483.1 130.4 M1497.7 131.1 C1501.1 131.1 1502.3 125.2 1506.5 125.2 M1499.7 131.1 L1505.9 125.6 M1502.2 126.5 L1505.1 130.4 M1515.3 131.1 C1511.9 131.1 1510.7 125.2 1506.5 125.2 M1513.3 131.1 L1507.1 125.6 M1510.8 126.5 L1507.9 130.4 M1522.5 131.1 C1525.9 131.1 1527.1 125.2 1531.3 125.2 M1524.5 131.1 L1530.7 125.6 M1527 126.5 L1529.9 130.4 M1540.1 131.1 C1536.7 131.1 1535.5 125.2 1531.3 125.2 M1538.1 131.1 L1531.9 125.6 M1535.6 126.5 L1532.7 130.4 M1547.3 131.1 C1550.7 131.1 1551.9 125.2 1556.1 125.2 M1549.3 131.1 L1555.5 125.6 M1551.8 126.5 L1554.7 130.4 M1564.9 131.1 C1561.5 131.1 1560.3 125.2 1556.1 125.2 M1562.9 131.1 L1556.7 125.6 M1560.4 126.5 L1557.5 130.4 M1572.1 131.1 C1575.5 131.1 1576.7 125.2 1580.9 125.2 M1574.1 131.1 L1580.3 125.6 M1576.6 126.5 L1579.5 130.4 M1589.7 131.1 C1586.3 131.1 1585.1 125.2 1580.9 125.2 M1587.7 131.1 L1581.5 125.6 M1585.2 126.5 L1582.3 130.4 M1596.9 131.1 C1600.3 131.1 1601.5 125.2 1605.7 125.2 M1598.9 131.1 L1605.1 125.6 M1601.4 126.5 L1604.3 130.4 M1614.5 131.1 C1611.1 131.1 1609.9 125.2 1605.7 125.2 M1612.5 131.1 L1606.3 125.6 M1610 126.5 L1607.1 130.4 M1621.6 131.1 C1625 131.1 1626.2 125.2 1630.4 125.2 M1623.6 131.1 L1629.8 125.6 M1626.1 126.5 L1629 130.4 M1639.2 131.1 C1635.8 131.1 1634.6 125.2 1630.4 125.2 M1637.2 131.1 L1631 125.6 M1634.7 126.5 L1631.8 130.4 M1646.4 131.1 C1649.8 131.1 1651 125.2 1655.2 125.2 M1648.4 131.1 L1654.6 125.6 M1650.9 126.5 L1653.8 130.4 M1664 131.1 C1660.6 131.1 1659.4 125.2 1655.2 125.2 M1662 131.1 L1655.8 125.6 M1659.5 126.5 L1656.6 130.4 M1671.2 131.1 C1674.6 131.1 1675.8 125.2 1680 125.2 M1673.2 131.1 L1679.4 125.6 M1675.7 126.5 L1678.6 130.4 M1688.8 131.1 C1685.4 131.1 1684.2 125.2 1680 125.2 M1686.8 131.1 L1680.6 125.6 M1684.3 126.5 L1681.4 130.4 M1696 131.1 C1699.4 131.1 1700.6 125.2 1704.8 125.2 M1698 131.1 L1704.2 125.6 M1700.5 126.5 L1703.4 130.4 M1713.6 131.1 C1710.2 131.1 1709 125.2 1704.8 125.2 M1711.6 131.1 L1705.4 125.6 M1709.1 126.5 L1706.2 130.4 M1720.8 131.1 C1724.2 131.1 1725.4 125.2 1729.6 125.2 M1722.8 131.1 L1729 125.6 M1725.3 126.5 L1728.2 130.4 M1738.4 131.1 C1735 131.1 1733.8 125.2 1729.6 125.2 M1736.4 131.1 L1730.2 125.6 M1733.9 126.5 L1731 130.4 M1745.5 131.1 C1748.9 131.1 1750.1 125.2 1754.3 125.2 M1747.5 131.1 L1753.7 125.6 M1750 126.5 L1752.9 130.4 M1763.1 131.1 C1759.7 131.1 1758.5 125.2 1754.3 125.2 M1761.1 131.1 L1754.9 125.6 M1758.6 126.5 L1755.7 130.4 M1770.3 131.1 C1773.7 131.1 1774.9 125.2 1779.1 125.2 M1772.3 131.1 L1778.5 125.6 M1774.8 126.5 L1777.7 130.4 M1787.9 131.1 C1784.5 131.1 1783.3 125.2 1779.1 125.2 M1785.9 131.1 L1779.7 125.6 M1783.4 126.5 L1780.5 130.4 M1795.1 131.1 C1798.5 131.1 1799.7 125.2 1803.9 125.2 M1797.1 131.1 L1803.3 125.6 M1799.6 126.5 L1802.5 130.4 M1812.7 131.1 C1809.3 131.1 1808.1 125.2 1803.9 125.2 M1810.7 131.1 L1804.5 125.6 M1808.2 126.5 L1805.3 130.4 M1819.9 131.1 C1823.3 131.1 1824.5 125.2 1828.7 125.2 M1821.9 131.1 L1828.1 125.6 M1824.4 126.5 L1827.3 130.4 M1837.5 131.1 C1834.1 131.1 1832.9 125.2 1828.7 125.2 M1835.5 131.1 L1829.3 125.6 M1833 126.5 L1830.1 130.4 M1844.7 131.1 C1848.1 131.1 1849.3 125.2 1853.5 125.2 M1846.7 131.1 L1852.9 125.6 M1849.2 126.5 L1852.1 130.4 M1862.3 131.1 C1858.9 131.1 1857.7 125.2 1853.5 125.2 M1860.3 131.1 L1854.1 125.6 M1857.8 126.5 L1854.9 130.4 M1869.5 131.1 C1872.9 131.1 1874.1 125.2 1878.3 125.2 M1871.5 131.1 L1877.7 125.6 M1874 126.5 L1876.9 130.4 M1887.1 131.1 C1883.7 131.1 1882.5 125.2 1878.3 125.2 M1885.1 131.1 L1878.9 125.6 M1882.6 126.5 L1879.7 130.4 M1894.2 131.1 C1897.6 131.1 1898.8 125.2 1903 125.2 M1896.2 131.1 L1902.4 125.6 M1898.7 126.5 L1901.6 130.4 M1911.8 131.1 C1908.4 131.1 1907.2 125.2 1903 125.2 M1909.8 131.1 L1903.6 125.6 M1907.3 126.5 L1904.4 130.4 M1919 131.1 C1922.4 131.1 1923.6 125.2 1927.8 125.2 M1921 131.1 L1927.2 125.6 M1923.5 126.5 L1926.4 130.4 M1936.6 131.1 C1933.2 131.1 1932 125.2 1927.8 125.2 M1934.6 131.1 L1928.4 125.6 M1932.1 126.5 L1929.2 130.4 M1943.8 131.1 C1947.2 131.1 1948.4 125.2 1952.6 125.2 M1945.8 131.1 L1952 125.6 M1948.3 126.5 L1951.2 130.4" fill="none" stroke="#231f20" stroke-width="0.9"/>
<path d="M1955.8 115.3 L1980.6 115.3 L1980.6 155.6 L1979.3 155.6 L1979.3 183.6 L1980.6 183.6 L1980.6 209 L1965.8 209 L1964.8 201.4 L1955.8 201.4Z" fill="#f7941d" stroke="#231f20" stroke-width="1.1" stroke-linejoin="miter" />
<path d="M1955.8 131.1 L1980.6 131.1" fill="none" stroke="#231f20" stroke-width="1.0" />
<path d="M1980.6 115.3 L2005.3 115.3 L2005.3 201.4 L1996.3 201.4 L1995.3 209 L1980.6 209 L1980.6 183.6 L1979.3 183.6 L1979.3 155.6 L1980.6 155.6Z" fill="#f7941d" stroke="#231f20" stroke-width="1.1" stroke-linejoin="miter" />
<path d="M1980.6 131.1 L2005.3 131.1" fill="none" stroke="#231f20" stroke-width="1.0" />
<path d="M2005.3 115.3 L2030.1 115.3 L2030.1 155.6 L2028.8 155.6 L2028.8 183.6 L2030.1 183.6 L2030.1 209 L2015.3 209 L2014.3 201.4 L2005.3 201.4Z" fill="#f7941d" stroke="#231f20" stroke-width="1.1" stroke-linejoin="miter" />
<path d="M2005.3 131.1 L2030.1 131.1" fill="none" stroke="#231f20" stroke-width="1.0" />
<path d="M2030.1 115.3 L2054.9 115.3 L2054.9 201.4 L2045.9 201.4 L2044.9 209 L2030.1 209 L2030.1 183.6 L2028.8 183.6 L2028.8 155.6 L2030.1 155.6Z" fill="#f7941d" stroke="#231f20" stroke-width="1.1" stroke-linejoin="miter" />
<path d="M2030.1 131.1 L2054.9 131.1" fill="none" stroke="#231f20" stroke-width="1.0" />
<path d="M2054.9 115.3 L2079.7 115.3 L2079.7 155.6 L2078.4 155.6 L2078.4 183.6 L2079.7 183.6 L2079.7 209 L2064.9 209 L2063.9 201.4 L2054.9 201.4Z" fill="#f7941d" stroke="#231f20" stroke-width="1.1" stroke-linejoin="miter" />
<path d="M2054.9 131.1 L2079.7 131.1" fill="none" stroke="#231f20" stroke-width="1.0" />
<path d="M2079.7 115.3 L2104.4 115.3 L2104.4 201.4 L2095.4 201.4 L2094.4 209 L2079.7 209 L2079.7 183.6 L2078.4 183.6 L2078.4 155.6 L2079.7 155.6Z" fill="#f7941d" stroke="#231f20" stroke-width="1.1" stroke-linejoin="miter" />
<path d="M2079.7 131.1 L2104.4 131.1" fill="none" stroke="#231f20" stroke-width="1.0" />
<path d="M2104.4 115.3 L2129.2 115.3 L2129.2 155.6 L2127.9 155.6 L2127.9 183.6 L2129.2 183.6 L2129.2 209 L2114.4 209 L2113.4 201.4 L2104.4 201.4Z" fill="#f7941d" stroke="#231f20" stroke-width="1.1" stroke-linejoin="miter" />
<path d="M2104.4 131.1 L2129.2 131.1" fill="none" stroke="#231f20" stroke-width="1.0" />
<path d="M2129.2 115.3 L2154 115.3 L2154 201.4 L2145 201.4 L2144 209 L2129.2 209 L2129.2 183.6 L2127.9 183.6 L2127.9 155.6 L2129.2 155.6Z" fill="#f7941d" stroke="#231f20" stroke-width="1.1" stroke-linejoin="miter" />
<path d="M2129.2 131.1 L2154 131.1" fill="none" stroke="#231f20" stroke-width="1.0" />
<path d="M1964.6 131.1 C1961.2 131.1 1960 125.2 1955.8 125.2 M1962.6 131.1 L1956.4 125.6 M1960.1 126.5 L1957.2 130.4 M1971.8 131.1 C1975.2 131.1 1976.4 125.2 1980.6 125.2 M1973.8 131.1 L1980 125.6 M1976.3 126.5 L1979.2 130.4 M1989.4 131.1 C1986 131.1 1984.8 125.2 1980.6 125.2 M1987.4 131.1 L1981.2 125.6 M1984.9 126.5 L1982 130.4 M1996.5 131.1 C1999.9 131.1 2001.1 125.2 2005.3 125.2 M1998.5 131.1 L2004.8 125.6 M2001 126.5 L2003.9 130.4 M2014.1 131.1 C2010.8 131.1 2009.5 125.2 2005.3 125.2 M2012.1 131.1 L2005.9 125.6 M2009.6 126.5 L2006.8 130.4 M2021.3 131.1 C2024.7 131.1 2025.9 125.2 2030.1 125.2 M2023.3 131.1 L2029.5 125.6 M2025.8 126.5 L2028.7 130.4 M2038.9 131.1 C2035.5 131.1 2034.3 125.2 2030.1 125.2 M2036.9 131.1 L2030.7 125.6 M2034.4 126.5 L2031.5 130.4 M2046.1 131.1 C2049.5 131.1 2050.7 125.2 2054.9 125.2 M2048.1 131.1 L2054.3 125.6 M2050.6 126.5 L2053.5 130.4 M2063.7 131.1 C2060.3 131.1 2059.1 125.2 2054.9 125.2 M2061.7 131.1 L2055.5 125.6 M2059.2 126.5 L2056.3 130.4 M2070.9 131.1 C2074.3 131.1 2075.5 125.2 2079.7 125.2 M2072.9 131.1 L2079.1 125.6 M2075.4 126.5 L2078.3 130.4 M2088.5 131.1 C2085.1 131.1 2083.9 125.2 2079.7 125.2 M2086.5 131.1 L2080.3 125.6 M2084 126.5 L2081.1 130.4 M2095.6 131.1 C2099 131.1 2100.2 125.2 2104.4 125.2 M2097.6 131.1 L2103.8 125.6 M2100.1 126.5 L2103 130.4 M2113.2 131.1 C2109.8 131.1 2108.6 125.2 2104.4 125.2 M2111.2 131.1 L2105 125.6 M2108.8 126.5 L2105.8 130.4 M2120.4 131.1 C2123.8 131.1 2125 125.2 2129.2 125.2 M2122.4 131.1 L2128.6 125.6 M2124.9 126.5 L2127.8 130.4 M2138 131.1 C2134.6 131.1 2133.4 125.2 2129.2 125.2 M2136 131.1 L2129.8 125.6 M2133.5 126.5 L2130.6 130.4 M2145.2 131.1 C2148.6 131.1 2149.8 125.2 2154 125.2 M2147.2 131.1 L2153.4 125.6 M2149.7 126.5 L2152.6 130.4" fill="none" stroke="#231f20" stroke-width="0.9"/>
<path d="M2154 102.7 L2178.7 102.7 L2178.7 142.2 L2177.4 142.2 L2177.4 170.2 L2178.7 170.2 L2178.7 196.4 L2164 196.4 L2163 188.8 L2154 188.8Z" fill="#f7941d" stroke="#231f20" stroke-width="1.1" stroke-linejoin="miter" />
<path d="M2154 117.7 L2178.7 117.7" fill="none" stroke="#231f20" stroke-width="1.0" />
<path d="M2178.7 102.7 L2203.3 102.7 L2203.3 188.8 L2194.3 188.8 L2193.3 196.4 L2178.7 196.4 L2178.7 170.2 L2177.4 170.2 L2177.4 142.2 L2178.7 142.2Z" fill="#f7941d" stroke="#231f20" stroke-width="1.1" stroke-linejoin="miter" />
<path d="M2178.7 117.7 L2203.3 117.7" fill="none" stroke="#231f20" stroke-width="1.0" />
<path d="M2203.3 102.7 L2228 102.7 L2228 142.2 L2226.7 142.2 L2226.7 170.2 L2228 170.2 L2228 196.4 L2213.3 196.4 L2212.3 188.8 L2203.3 188.8Z" fill="#f7941d" stroke="#231f20" stroke-width="1.1" stroke-linejoin="miter" />
<path d="M2203.3 117.7 L2228 117.7" fill="none" stroke="#231f20" stroke-width="1.0" />
<path d="M2228 102.7 L2252.7 102.7 L2252.7 188.8 L2243.7 188.8 L2242.7 196.4 L2228 196.4 L2228 170.2 L2226.7 170.2 L2226.7 142.2 L2228 142.2Z" fill="#f7941d" stroke="#231f20" stroke-width="1.1" stroke-linejoin="miter" />
<path d="M2228 117.7 L2252.7 117.7" fill="none" stroke="#231f20" stroke-width="1.0" />
<path d="M2252.7 102.7 L2277.3 102.7 L2277.3 142.2 L2276 142.2 L2276 170.2 L2277.3 170.2 L2277.3 196.4 L2262.7 196.4 L2261.7 188.8 L2252.7 188.8Z" fill="#f7941d" stroke="#231f20" stroke-width="1.1" stroke-linejoin="miter" />
<path d="M2252.7 117.7 L2277.3 117.7" fill="none" stroke="#231f20" stroke-width="1.0" />
<path d="M2277.3 102.7 L2302 102.7 L2302 188.8 L2293 188.8 L2292 196.4 L2277.3 196.4 L2277.3 170.2 L2276 170.2 L2276 142.2 L2277.3 142.2Z" fill="#f7941d" stroke="#231f20" stroke-width="1.1" stroke-linejoin="miter" />
<path d="M2277.3 117.7 L2302 117.7" fill="none" stroke="#231f20" stroke-width="1.0" />
<path d="M2302 102.7 L2326.7 102.7 L2326.7 142.2 L2325.4 142.2 L2325.4 170.2 L2326.7 170.2 L2326.7 196.4 L2312 196.4 L2311 188.8 L2302 188.8Z" fill="#f7941d" stroke="#231f20" stroke-width="1.1" stroke-linejoin="miter" />
<path d="M2302 117.7 L2326.7 117.7" fill="none" stroke="#231f20" stroke-width="1.0" />
<path d="M2326.7 102.7 L2351.4 102.7 L2351.4 188.8 L2342.4 188.8 L2341.4 196.4 L2326.7 196.4 L2326.7 170.2 L2325.4 170.2 L2325.4 142.2 L2326.7 142.2Z" fill="#f7941d" stroke="#231f20" stroke-width="1.1" stroke-linejoin="miter" />
<path d="M2326.7 117.7 L2351.4 117.7" fill="none" stroke="#231f20" stroke-width="1.0" />
<path d="M2351.4 102.7 L2376 102.7 L2376 142.2 L2374.7 142.2 L2374.7 170.2 L2376 170.2 L2376 196.4 L2361.4 196.4 L2360.4 188.8 L2351.4 188.8Z" fill="#f7941d" stroke="#231f20" stroke-width="1.1" stroke-linejoin="miter" />
<path d="M2351.4 117.7 L2376 117.7" fill="none" stroke="#231f20" stroke-width="1.0" />
<path d="M2376 102.7 L2400.7 102.7 L2400.7 188.8 L2391.7 188.8 L2390.7 196.4 L2376 196.4 L2376 170.2 L2374.7 170.2 L2374.7 142.2 L2376 142.2Z" fill="#f7941d" stroke="#231f20" stroke-width="1.1" stroke-linejoin="miter" />
<path d="M2376 117.7 L2400.7 117.7" fill="none" stroke="#231f20" stroke-width="1.0" />
<path d="M2162.8 117.7 C2159.4 117.7 2158.2 111.8 2154 111.8 M2160.8 117.7 L2154.6 112.2 M2158.3 113.1 L2155.4 117 M2169.9 117.7 C2173.3 117.7 2174.5 111.8 2178.7 111.8 M2171.9 117.7 L2178.1 112.2 M2174.4 113.1 L2177.3 117 M2187.5 117.7 C2184.1 117.7 2182.9 111.8 2178.7 111.8 M2185.5 117.7 L2179.3 112.2 M2183 113.1 L2180.1 117 M2194.5 117.7 C2197.9 117.7 2199.1 111.8 2203.3 111.8 M2196.5 117.7 L2202.7 112.2 M2199 113.1 L2201.9 117 M2212.1 117.7 C2208.7 117.7 2207.5 111.8 2203.3 111.8 M2210.1 117.7 L2203.9 112.2 M2207.6 113.1 L2204.7 117 M2219.2 117.7 C2222.6 117.7 2223.8 111.8 2228 111.8 M2221.2 117.7 L2227.4 112.2 M2223.7 113.1 L2226.6 117 M2236.8 117.7 C2233.4 117.7 2232.2 111.8 2228 111.8 M2234.8 117.7 L2228.6 112.2 M2232.3 113.1 L2229.4 117 M2243.9 117.7 C2247.3 117.7 2248.5 111.8 2252.7 111.8 M2245.9 117.7 L2252.1 112.2 M2248.4 113.1 L2251.3 117 M2261.5 117.7 C2258.1 117.7 2256.9 111.8 2252.7 111.8 M2259.5 117.7 L2253.3 112.2 M2257 113.1 L2254.1 117 M2268.5 117.7 C2271.9 117.7 2273.2 111.8 2277.3 111.8 M2270.5 117.7 L2276.8 112.2 M2273 113.1 L2275.9 117 M2286.2 117.7 C2282.8 117.7 2281.5 111.8 2277.3 111.8 M2284.2 117.7 L2277.9 112.2 M2281.7 113.1 L2278.8 117 M2293.2 117.7 C2296.6 117.7 2297.8 111.8 2302 111.8 M2295.2 117.7 L2301.4 112.2 M2297.7 113.1 L2300.6 117 M2310.8 117.7 C2307.4 117.7 2306.2 111.8 2302 111.8 M2308.8 117.7 L2302.6 112.2 M2306.3 113.1 L2303.4 117 M2317.9 117.7 C2321.3 117.7 2322.5 111.8 2326.7 111.8 M2319.9 117.7 L2326.1 112.2 M2322.4 113.1 L2325.3 117 M2335.5 117.7 C2332.1 117.7 2330.9 111.8 2326.7 111.8 M2333.5 117.7 L2327.3 112.2 M2331 113.1 L2328.1 117 M2342.6 117.7 C2346 117.7 2347.2 111.8 2351.4 111.8 M2344.6 117.7 L2350.8 112.2 M2347.1 113.1 L2350 117 M2360.2 117.7 C2356.8 117.7 2355.6 111.8 2351.4 111.8 M2358.2 117.7 L2352 112.2 M2355.7 113.1 L2352.8 117 M2367.2 117.7 C2370.6 117.7 2371.8 111.8 2376 111.8 M2369.2 117.7 L2375.4 112.2 M2371.7 113.1 L2374.6 117 M2384.8 117.7 C2381.4 117.7 2380.2 111.8 2376 111.8 M2382.8 117.7 L2376.6 112.2 M2380.3 113.1 L2377.4 117 M2391.9 117.7 C2395.3 117.7 2396.5 111.8 2400.7 111.8 M2393.9 117.7 L2400.1 112.2 M2396.4 113.1 L2399.3 117" fill="none" stroke="#231f20" stroke-width="0.9"/>
<path d="M2404.7 102.7 L2429.5 102.7 L2429.5 141 L2428.2 141 L2428.2 169 L2429.5 169 L2429.5 196.4 L2414.7 196.4 L2413.7 188.8 L2404.7 188.8Z" fill="#f7941d" stroke="#231f20" stroke-width="1.1" stroke-linejoin="miter" />
<path d="M2404.7 116.5 L2429.5 116.5" fill="none" stroke="#231f20" stroke-width="1.0" />
<path d="M2429.5 102.7 L2454.4 102.7 L2454.4 188.8 L2445.4 188.8 L2444.4 196.4 L2429.5 196.4 L2429.5 169 L2428.2 169 L2428.2 141 L2429.5 141Z" fill="#f7941d" stroke="#231f20" stroke-width="1.1" stroke-linejoin="miter" />
<path d="M2429.5 116.5 L2454.4 116.5" fill="none" stroke="#231f20" stroke-width="1.0" />
<path d="M2454.4 102.7 L2479.2 102.7 L2479.2 141 L2477.9 141 L2477.9 169 L2479.2 169 L2479.2 196.4 L2464.4 196.4 L2463.4 188.8 L2454.4 188.8Z" fill="#f7941d" stroke="#231f20" stroke-width="1.1" stroke-linejoin="miter" />
<path d="M2454.4 116.5 L2479.2 116.5" fill="none" stroke="#231f20" stroke-width="1.0" />
<path d="M2479.2 102.7 L2504.1 102.7 L2504.1 188.8 L2495.1 188.8 L2494.1 196.4 L2479.2 196.4 L2479.2 169 L2477.9 169 L2477.9 141 L2479.2 141Z" fill="#f7941d" stroke="#231f20" stroke-width="1.1" stroke-linejoin="miter" />
<path d="M2479.2 116.5 L2504.1 116.5" fill="none" stroke="#231f20" stroke-width="1.0" />
<path d="M2504.1 102.7 L2528.9 102.7 L2528.9 141 L2527.6 141 L2527.6 169 L2528.9 169 L2528.9 196.4 L2514.1 196.4 L2513.1 188.8 L2504.1 188.8Z" fill="#f7941d" stroke="#231f20" stroke-width="1.1" stroke-linejoin="miter" />
<path d="M2504.1 116.5 L2528.9 116.5" fill="none" stroke="#231f20" stroke-width="1.0" />
<path d="M2528.9 102.7 L2553.7 102.7 L2553.7 188.8 L2544.7 188.8 L2543.7 196.4 L2528.9 196.4 L2528.9 169 L2527.6 169 L2527.6 141 L2528.9 141Z" fill="#f7941d" stroke="#231f20" stroke-width="1.1" stroke-linejoin="miter" />
<path d="M2528.9 116.5 L2553.7 116.5" fill="none" stroke="#231f20" stroke-width="1.0" />
<path d="M2553.7 102.7 L2578.6 102.7 L2578.6 141 L2577.3 141 L2577.3 169 L2578.6 169 L2578.6 196.4 L2563.7 196.4 L2562.7 188.8 L2553.7 188.8Z" fill="#f7941d" stroke="#231f20" stroke-width="1.1" stroke-linejoin="miter" />
<path d="M2553.7 116.5 L2578.6 116.5" fill="none" stroke="#231f20" stroke-width="1.0" />
<path d="M2578.6 102.7 L2603.4 102.7 L2603.4 188.8 L2594.4 188.8 L2593.4 196.4 L2578.6 196.4 L2578.6 169 L2577.3 169 L2577.3 141 L2578.6 141Z" fill="#f7941d" stroke="#231f20" stroke-width="1.1" stroke-linejoin="miter" />
<path d="M2578.6 116.5 L2603.4 116.5" fill="none" stroke="#231f20" stroke-width="1.0" />
<path d="M2603.4 102.7 L2628.3 102.7 L2628.3 141 L2627 141 L2627 169 L2628.3 169 L2628.3 196.4 L2613.4 196.4 L2612.4 188.8 L2603.4 188.8Z" fill="#f7941d" stroke="#231f20" stroke-width="1.1" stroke-linejoin="miter" />
<path d="M2603.4 116.5 L2628.3 116.5" fill="none" stroke="#231f20" stroke-width="1.0" />
<path d="M2628.3 102.7 L2653.1 102.7 L2653.1 188.8 L2644.1 188.8 L2643.1 196.4 L2628.3 196.4 L2628.3 169 L2627 169 L2627 141 L2628.3 141Z" fill="#f7941d" stroke="#231f20" stroke-width="1.1" stroke-linejoin="miter" />
<path d="M2628.3 116.5 L2653.1 116.5" fill="none" stroke="#231f20" stroke-width="1.0" />
<path d="M2653.1 102.7 L2677.9 102.7 L2677.9 141 L2676.6 141 L2676.6 169 L2677.9 169 L2677.9 196.4 L2663.1 196.4 L2662.1 188.8 L2653.1 188.8Z" fill="#f7941d" stroke="#231f20" stroke-width="1.1" stroke-linejoin="miter" />
<path d="M2653.1 116.5 L2677.9 116.5" fill="none" stroke="#231f20" stroke-width="1.0" />
<path d="M2677.9 102.7 L2702.8 102.7 L2702.8 188.8 L2693.8 188.8 L2692.8 196.4 L2677.9 196.4 L2677.9 169 L2676.6 169 L2676.6 141 L2677.9 141Z" fill="#e86fae" stroke="#231f20" stroke-width="1.1" stroke-linejoin="miter" />
<path d="M2702.8 102.7 L2727.6 102.7 L2727.6 141 L2726.3 141 L2726.3 169 L2727.6 169 L2727.6 196.4 L2712.8 196.4 L2711.8 188.8 L2702.8 188.8Z" fill="#e86fae" stroke="#231f20" stroke-width="1.1" stroke-linejoin="miter" />
<path d="M2702.8 116.5 L2727.6 116.5" fill="none" stroke="#231f20" stroke-width="1.0" />
<path d="M2727.6 102.7 L2752.5 102.7 L2752.5 188.8 L2743.5 188.8 L2742.5 196.4 L2727.6 196.4 L2727.6 169 L2726.3 169 L2726.3 141 L2727.6 141Z" fill="#e86fae" stroke="#231f20" stroke-width="1.1" stroke-linejoin="miter" />
<path d="M2727.6 116.5 L2752.5 116.5" fill="none" stroke="#231f20" stroke-width="1.0" />
<path d="M2752.5 102.7 L2777.3 102.7 L2777.3 196.4 L2762.5 196.4 L2761.5 188.8 L2752.5 188.8Z" fill="#e86fae" stroke="#231f20" stroke-width="1.1" stroke-linejoin="miter" />
<path d="M2752.5 116.5 L2777.3 116.5" fill="none" stroke="#231f20" stroke-width="1.0" />
<path d="M2413.5 116.5 C2410.1 116.5 2408.9 110.6 2404.7 110.6 M2411.5 116.5 L2405.3 111 M2409 111.9 L2406.1 115.8 M2420.7 116.5 C2424.1 116.5 2425.3 110.6 2429.5 110.6 M2422.7 116.5 L2428.9 111 M2425.2 111.9 L2428.1 115.8 M2438.3 116.5 C2434.9 116.5 2433.7 110.6 2429.5 110.6 M2436.3 116.5 L2430.1 111 M2433.8 111.9 L2430.9 115.8 M2445.6 116.5 C2449 116.5 2450.2 110.6 2454.4 110.6 M2447.6 116.5 L2453.8 111 M2450.1 111.9 L2453 115.8 M2463.2 116.5 C2459.8 116.5 2458.6 110.6 2454.4 110.6 M2461.2 116.5 L2455 111 M2458.7 111.9 L2455.8 115.8 M2470.4 116.5 C2473.8 116.5 2475 110.6 2479.2 110.6 M2472.4 116.5 L2478.6 111 M2474.9 111.9 L2477.8 115.8 M2488 116.5 C2484.6 116.5 2483.4 110.6 2479.2 110.6 M2486 116.5 L2479.8 111 M2483.5 111.9 L2480.6 115.8 M2495.3 116.5 C2498.7 116.5 2499.9 110.6 2504.1 110.6 M2497.3 116.5 L2503.5 111 M2499.8 111.9 L2502.7 115.8 M2512.9 116.5 C2509.5 116.5 2508.3 110.6 2504.1 110.6 M2510.9 116.5 L2504.7 111 M2508.4 111.9 L2505.5 115.8 M2520.1 116.5 C2523.5 116.5 2524.7 110.6 2528.9 110.6 M2522.1 116.5 L2528.3 111 M2524.6 111.9 L2527.5 115.8 M2537.7 116.5 C2534.3 116.5 2533.1 110.6 2528.9 110.6 M2535.7 116.5 L2529.5 111 M2533.2 111.9 L2530.3 115.8 M2544.9 116.5 C2548.3 116.5 2549.5 110.6 2553.7 110.6 M2546.9 116.5 L2553.1 111 M2549.4 111.9 L2552.3 115.8 M2562.5 116.5 C2559.1 116.5 2557.9 110.6 2553.7 110.6 M2560.5 116.5 L2554.3 111 M2558 111.9 L2555.1 115.8 M2569.8 116.5 C2573.2 116.5 2574.4 110.6 2578.6 110.6 M2571.8 116.5 L2578 111 M2574.3 111.9 L2577.2 115.8 M2587.4 116.5 C2584 116.5 2582.8 110.6 2578.6 110.6 M2585.4 116.5 L2579.2 111 M2582.9 111.9 L2580 115.8 M2594.6 116.5 C2598 116.5 2599.2 110.6 2603.4 110.6 M2596.6 116.5 L2602.8 111 M2599.1 111.9 L2602 115.8 M2612.2 116.5 C2608.8 116.5 2607.6 110.6 2603.4 110.6 M2610.2 116.5 L2604 111 M2607.7 111.9 L2604.8 115.8 M2619.5 116.5 C2622.9 116.5 2624.1 110.6 2628.3 110.6 M2621.5 116.5 L2627.7 111 M2624 111.9 L2626.9 115.8 M2637.1 116.5 C2633.7 116.5 2632.5 110.6 2628.3 110.6 M2635.1 116.5 L2628.9 111 M2632.6 111.9 L2629.7 115.8 M2644.3 116.5 C2647.7 116.5 2648.9 110.6 2653.1 110.6 M2646.3 116.5 L2652.5 111 M2648.8 111.9 L2651.7 115.8 M2661.9 116.5 C2658.5 116.5 2657.3 110.6 2653.1 110.6 M2659.9 116.5 L2653.7 111 M2657.4 111.9 L2654.5 115.8 M2669.1 116.5 C2672.5 116.5 2673.7 110.6 2677.9 110.6 M2671.1 116.5 L2677.3 111 M2673.6 111.9 L2676.5 115.8" fill="none" stroke="#231f20" stroke-width="0.9"/>
<path d="M182.6 387.7 L206.4 387.7 L206.4 294 L192.6 294 L191.6 301.6 L182.6 301.6Z" fill="#e86fae" stroke="#231f20" stroke-width="1.1" stroke-linejoin="miter" />
<path d="M182.6 371 L206.4 371" fill="none" stroke="#231f20" stroke-width="1.0" />
<path d="M206.4 387.7 L230.2 387.7 L230.2 294 L216.4 294 L215.4 301.6 L206.4 301.6Z" fill="#e86fae" stroke="#231f20" stroke-width="1.1" stroke-linejoin="miter" />
<path d="M206.4 371 L230.2 371" fill="none" stroke="#231f20" stroke-width="1.0" />
<path d="M230.2 387.7 L255.7 387.7 L255.7 301.6 L246.7 301.6 L245.7 294 L230.2 294Z" fill="#f7941d" stroke="#231f20" stroke-width="1.1" stroke-linejoin="miter" />
<path d="M230.2 371 L255.7 371" fill="none" stroke="#231f20" stroke-width="1.0" />
<path d="M239 371 C235.6 371 234.4 376.9 230.2 376.9 M237 371 L230.8 376.5 M234.5 375.6 L231.6 371.7 M246.9 371 C250.3 371 251.5 376.9 255.7 376.9 M248.9 371 L255.1 376.5 M251.4 375.6 L254.3 371.7" fill="none" stroke="#231f20" stroke-width="0.9"/>
<path d="M169.6 302 L182.6 302" fill="none" stroke="#231f20" stroke-width="0.9" />
<path d="M259.4 387.7 L283.9 387.7 L283.9 346.5 L282.6 346.5 L282.6 318.5 L283.9 318.5 L283.9 294 L269.4 294 L268.4 301.6 L259.4 301.6Z" fill="#f7941d" stroke="#231f20" stroke-width="1.1" stroke-linejoin="miter" />
<path d="M259.4 371 L283.9 371" fill="none" stroke="#231f20" stroke-width="1.0" />
<path d="M283.9 387.7 L308.5 387.7 L308.5 301.6 L299.5 301.6 L298.5 294 L283.9 294 L283.9 318.5 L282.6 318.5 L282.6 346.5 L283.9 346.5Z" fill="#f7941d" stroke="#231f20" stroke-width="1.1" stroke-linejoin="miter" />
<path d="M283.9 371 L308.5 371" fill="none" stroke="#231f20" stroke-width="1.0" />
<path d="M308.5 387.7 L333 387.7 L333 346.5 L331.7 346.5 L331.7 318.5 L333 318.5 L333 294 L318.5 294 L317.5 301.6 L308.5 301.6Z" fill="#f7941d" stroke="#231f20" stroke-width="1.1" stroke-linejoin="miter" />
<path d="M308.5 371 L333 371" fill="none" stroke="#231f20" stroke-width="1.0" />
<path d="M333 387.7 L357.6 387.7 L357.6 301.6 L348.6 301.6 L347.6 294 L333 294 L333 318.5 L331.7 318.5 L331.7 346.5 L333 346.5Z" fill="#f7941d" stroke="#231f20" stroke-width="1.1" stroke-linejoin="miter" />
<path d="M333 371 L357.6 371" fill="none" stroke="#231f20" stroke-width="1.0" />
<path d="M357.6 387.7 L382.1 387.7 L382.1 346.5 L380.8 346.5 L380.8 318.5 L382.1 318.5 L382.1 294 L367.6 294 L366.6 301.6 L357.6 301.6Z" fill="#f7941d" stroke="#231f20" stroke-width="1.1" stroke-linejoin="miter" />
<path d="M357.6 371 L382.1 371" fill="none" stroke="#231f20" stroke-width="1.0" />
<path d="M382.1 387.7 L406.7 387.7 L406.7 301.6 L397.7 301.6 L396.7 294 L382.1 294 L382.1 318.5 L380.8 318.5 L380.8 346.5 L382.1 346.5Z" fill="#f7941d" stroke="#231f20" stroke-width="1.1" stroke-linejoin="miter" />
<path d="M382.1 371 L406.7 371" fill="none" stroke="#231f20" stroke-width="1.0" />
<path d="M268.2 371 C264.8 371 263.6 376.9 259.4 376.9 M266.2 371 L260 376.5 M263.7 375.6 L260.8 371.7 M275.1 371 C278.6 371 279.8 376.9 283.9 376.9 M277.1 371 L283.3 376.5 M279.6 375.6 L282.6 371.7 M292.8 371 C289.3 371 288.1 376.9 283.9 376.9 M290.8 371 L284.6 376.5 M288.2 375.6 L285.3 371.7 M299.7 371 C303.1 371 304.3 376.9 308.5 376.9 M301.7 371 L307.9 376.5 M304.2 375.6 L307.1 371.7 M317.3 371 C313.9 371 312.7 376.9 308.5 376.9 M315.3 371 L309.1 376.5 M312.8 375.6 L309.9 371.7 M324.2 371 C327.6 371 328.8 376.9 333 376.9 M326.2 371 L332.4 376.5 M328.7 375.6 L331.6 371.7 M341.8 371 C338.4 371 337.2 376.9 333 376.9 M339.8 371 L333.6 376.5 M337.3 375.6 L334.4 371.7 M348.8 371 C352.2 371 353.4 376.9 357.6 376.9 M350.8 371 L357 376.5 M353.3 375.6 L356.2 371.7 M366.4 371 C363 371 361.8 376.9 357.6 376.9 M364.4 371 L358.2 376.5 M361.9 375.6 L359 371.7 M373.3 371 C376.8 371 377.9 376.9 382.1 376.9 M375.3 371 L381.5 376.5 M377.8 375.6 L380.8 371.7 M390.9 371 C387.5 371 386.3 376.9 382.1 376.9 M388.9 371 L382.8 376.5 M386.4 375.6 L383.5 371.7 M397.9 371 C401.3 371 402.5 376.9 406.7 376.9 M399.9 371 L406.1 376.5 M402.4 375.6 L405.3 371.7" fill="none" stroke="#231f20" stroke-width="0.9"/>
<path d="M409.7 387.7 L434.4 387.7 L434.4 346.5 L433.1 346.5 L433.1 318.5 L434.4 318.5 L434.4 294 L419.7 294 L418.7 301.6 L409.7 301.6Z" fill="#f7941d" stroke="#231f20" stroke-width="1.1" stroke-linejoin="miter" />
<path d="M409.7 371 L434.4 371" fill="none" stroke="#231f20" stroke-width="1.0" />
<path d="M434.4 387.7 L459.2 387.7 L459.2 301.6 L450.2 301.6 L449.2 294 L434.4 294 L434.4 318.5 L433.1 318.5 L433.1 346.5 L434.4 346.5Z" fill="#f7941d" stroke="#231f20" stroke-width="1.1" stroke-linejoin="miter" />
<path d="M434.4 371 L459.2 371" fill="none" stroke="#231f20" stroke-width="1.0" />
<path d="M459.2 387.7 L483.9 387.7 L483.9 346.5 L482.6 346.5 L482.6 318.5 L483.9 318.5 L483.9 294 L469.2 294 L468.2 301.6 L459.2 301.6Z" fill="#f7941d" stroke="#231f20" stroke-width="1.1" stroke-linejoin="miter" />
<path d="M459.2 371 L483.9 371" fill="none" stroke="#231f20" stroke-width="1.0" />
<path d="M483.9 387.7 L508.6 387.7 L508.6 301.6 L499.6 301.6 L498.6 294 L483.9 294 L483.9 318.5 L482.6 318.5 L482.6 346.5 L483.9 346.5Z" fill="#f7941d" stroke="#231f20" stroke-width="1.1" stroke-linejoin="miter" />
<path d="M483.9 371 L508.6 371" fill="none" stroke="#231f20" stroke-width="1.0" />
<path d="M508.6 387.7 L533.3 387.7 L533.3 346.5 L532 346.5 L532 318.5 L533.3 318.5 L533.3 294 L518.6 294 L517.6 301.6 L508.6 301.6Z" fill="#f7941d" stroke="#231f20" stroke-width="1.1" stroke-linejoin="miter" />
<path d="M508.6 371 L533.3 371" fill="none" stroke="#231f20" stroke-width="1.0" />
<path d="M533.3 387.7 L558.1 387.7 L558.1 301.6 L549.1 301.6 L548.1 294 L533.3 294 L533.3 318.5 L532 318.5 L532 346.5 L533.3 346.5Z" fill="#f7941d" stroke="#231f20" stroke-width="1.1" stroke-linejoin="miter" />
<path d="M533.3 371 L558.1 371" fill="none" stroke="#231f20" stroke-width="1.0" />
<path d="M558.1 387.7 L582.8 387.7 L582.8 346.5 L581.5 346.5 L581.5 318.5 L582.8 318.5 L582.8 294 L568.1 294 L567.1 301.6 L558.1 301.6Z" fill="#f7941d" stroke="#231f20" stroke-width="1.1" stroke-linejoin="miter" />
<path d="M558.1 371 L582.8 371" fill="none" stroke="#231f20" stroke-width="1.0" />
<path d="M582.8 387.7 L607.5 387.7 L607.5 301.6 L598.5 301.6 L597.5 294 L582.8 294 L582.8 318.5 L581.5 318.5 L581.5 346.5 L582.8 346.5Z" fill="#f7941d" stroke="#231f20" stroke-width="1.1" stroke-linejoin="miter" />
<path d="M582.8 371 L607.5 371" fill="none" stroke="#231f20" stroke-width="1.0" />
<path d="M607.5 387.7 L632.3 387.7 L632.3 346.5 L631 346.5 L631 318.5 L632.3 318.5 L632.3 294 L617.5 294 L616.5 301.6 L607.5 301.6Z" fill="#f7941d" stroke="#231f20" stroke-width="1.1" stroke-linejoin="miter" />
<path d="M607.5 371 L632.3 371" fill="none" stroke="#231f20" stroke-width="1.0" />
<path d="M632.3 387.7 L657 387.7 L657 301.6 L648 301.6 L647 294 L632.3 294 L632.3 318.5 L631 318.5 L631 346.5 L632.3 346.5Z" fill="#f7941d" stroke="#231f20" stroke-width="1.1" stroke-linejoin="miter" />
<path d="M632.3 371 L657 371" fill="none" stroke="#231f20" stroke-width="1.0" />
<path d="M657 387.7 L681.7 387.7 L681.7 346.5 L680.4 346.5 L680.4 318.5 L681.7 318.5 L681.7 294 L667 294 L666 301.6 L657 301.6Z" fill="#f7941d" stroke="#231f20" stroke-width="1.1" stroke-linejoin="miter" />
<path d="M657 371 L681.7 371" fill="none" stroke="#231f20" stroke-width="1.0" />
<path d="M681.7 387.7 L706.5 387.7 L706.5 301.6 L697.5 301.6 L696.5 294 L681.7 294 L681.7 318.5 L680.4 318.5 L680.4 346.5 L681.7 346.5Z" fill="#f7941d" stroke="#231f20" stroke-width="1.1" stroke-linejoin="miter" />
<path d="M681.7 371 L706.5 371" fill="none" stroke="#231f20" stroke-width="1.0" />
<path d="M706.5 387.7 L731.2 387.7 L731.2 346.5 L729.9 346.5 L729.9 318.5 L731.2 318.5 L731.2 294 L716.5 294 L715.5 301.6 L706.5 301.6Z" fill="#f7941d" stroke="#231f20" stroke-width="1.1" stroke-linejoin="miter" />
<path d="M706.5 371 L731.2 371" fill="none" stroke="#231f20" stroke-width="1.0" />
<path d="M731.2 387.7 L755.9 387.7 L755.9 301.6 L746.9 301.6 L745.9 294 L731.2 294 L731.2 318.5 L729.9 318.5 L729.9 346.5 L731.2 346.5Z" fill="#f7941d" stroke="#231f20" stroke-width="1.1" stroke-linejoin="miter" />
<path d="M731.2 371 L755.9 371" fill="none" stroke="#231f20" stroke-width="1.0" />
<path d="M755.9 387.7 L780.6 387.7 L780.6 346.5 L779.3 346.5 L779.3 318.5 L780.6 318.5 L780.6 294 L765.9 294 L764.9 301.6 L755.9 301.6Z" fill="#f7941d" stroke="#231f20" stroke-width="1.1" stroke-linejoin="miter" />
<path d="M755.9 371 L780.6 371" fill="none" stroke="#231f20" stroke-width="1.0" />
<path d="M780.6 387.7 L805.4 387.7 L805.4 301.6 L796.4 301.6 L795.4 294 L780.6 294 L780.6 318.5 L779.3 318.5 L779.3 346.5 L780.6 346.5Z" fill="#f7941d" stroke="#231f20" stroke-width="1.1" stroke-linejoin="miter" />
<path d="M780.6 371 L805.4 371" fill="none" stroke="#231f20" stroke-width="1.0" />
<path d="M805.4 387.7 L830.1 387.7 L830.1 346.5 L828.8 346.5 L828.8 318.5 L830.1 318.5 L830.1 294 L815.4 294 L814.4 301.6 L805.4 301.6Z" fill="#f7941d" stroke="#231f20" stroke-width="1.1" stroke-linejoin="miter" />
<path d="M805.4 371 L830.1 371" fill="none" stroke="#231f20" stroke-width="1.0" />
<path d="M830.1 387.7 L854.8 387.7 L854.8 301.6 L845.8 301.6 L844.8 294 L830.1 294 L830.1 318.5 L828.8 318.5 L828.8 346.5 L830.1 346.5Z" fill="#f7941d" stroke="#231f20" stroke-width="1.1" stroke-linejoin="miter" />
<path d="M830.1 371 L854.8 371" fill="none" stroke="#231f20" stroke-width="1.0" />
<path d="M854.8 387.7 L879.6 387.7 L879.6 346.5 L878.3 346.5 L878.3 318.5 L879.6 318.5 L879.6 294 L864.8 294 L863.8 301.6 L854.8 301.6Z" fill="#f7941d" stroke="#231f20" stroke-width="1.1" stroke-linejoin="miter" />
<path d="M854.8 371 L879.6 371" fill="none" stroke="#231f20" stroke-width="1.0" />
<path d="M879.6 387.7 L904.3 387.7 L904.3 301.6 L895.3 301.6 L894.3 294 L879.6 294 L879.6 318.5 L878.3 318.5 L878.3 346.5 L879.6 346.5Z" fill="#f7941d" stroke="#231f20" stroke-width="1.1" stroke-linejoin="miter" />
<path d="M879.6 371 L904.3 371" fill="none" stroke="#231f20" stroke-width="1.0" />
<path d="M904.3 387.7 L929 387.7 L929 346.5 L927.7 346.5 L927.7 318.5 L929 318.5 L929 294 L914.3 294 L913.3 301.6 L904.3 301.6Z" fill="#f7941d" stroke="#231f20" stroke-width="1.1" stroke-linejoin="miter" />
<path d="M904.3 371 L929 371" fill="none" stroke="#231f20" stroke-width="1.0" />
<path d="M929 387.7 L953.7 387.7 L953.7 301.6 L944.7 301.6 L943.7 294 L929 294 L929 318.5 L927.7 318.5 L927.7 346.5 L929 346.5Z" fill="#f7941d" stroke="#231f20" stroke-width="1.1" stroke-linejoin="miter" />
<path d="M929 371 L953.7 371" fill="none" stroke="#231f20" stroke-width="1.0" />
<path d="M953.7 387.7 L978.5 387.7 L978.5 346.5 L977.2 346.5 L977.2 318.5 L978.5 318.5 L978.5 294 L963.7 294 L962.7 301.6 L953.7 301.6Z" fill="#f7941d" stroke="#231f20" stroke-width="1.1" stroke-linejoin="miter" />
<path d="M953.7 371 L978.5 371" fill="none" stroke="#231f20" stroke-width="1.0" />
<path d="M978.5 387.7 L1003.2 387.7 L1003.2 301.6 L994.2 301.6 L993.2 294 L978.5 294 L978.5 318.5 L977.2 318.5 L977.2 346.5 L978.5 346.5Z" fill="#f7941d" stroke="#231f20" stroke-width="1.1" stroke-linejoin="miter" />
<path d="M978.5 371 L1003.2 371" fill="none" stroke="#231f20" stroke-width="1.0" />
<path d="M418.5 371 C415.1 371 413.9 376.9 409.7 376.9 M416.5 371 L410.3 376.5 M414 375.6 L411.1 371.7 M425.6 371 C429 371 430.2 376.9 434.4 376.9 M427.6 371 L433.8 376.5 M430.1 375.6 L433 371.7 M443.2 371 C439.8 371 438.6 376.9 434.4 376.9 M441.2 371 L435 376.5 M438.7 375.6 L435.8 371.7 M450.4 371 C453.8 371 455 376.9 459.2 376.9 M452.4 371 L458.6 376.5 M454.9 375.6 L457.8 371.7 M468 371 C464.6 371 463.4 376.9 459.2 376.9 M466 371 L459.8 376.5 M463.5 375.6 L460.6 371.7 M475.1 371 C478.5 371 479.7 376.9 483.9 376.9 M477.1 371 L483.3 376.5 M479.6 375.6 L482.5 371.7 M492.7 371 C489.3 371 488.1 376.9 483.9 376.9 M490.7 371 L484.5 376.5 M488.2 375.6 L485.3 371.7 M499.8 371 C503.2 371 504.4 376.9 508.6 376.9 M501.8 371 L508 376.5 M504.3 375.6 L507.2 371.7 M517.4 371 C514 371 512.8 376.9 508.6 376.9 M515.4 371 L509.2 376.5 M512.9 375.6 L510 371.7 M524.5 371 C527.9 371 529.1 376.9 533.3 376.9 M526.5 371 L532.7 376.5 M529 375.6 L531.9 371.7 M542.1 371 C538.7 371 537.5 376.9 533.3 376.9 M540.1 371 L533.9 376.5 M537.6 375.6 L534.7 371.7 M549.3 371 C552.7 371 553.9 376.9 558.1 376.9 M551.3 371 L557.5 376.5 M553.8 375.6 L556.7 371.7 M566.9 371 C563.5 371 562.3 376.9 558.1 376.9 M564.9 371 L558.7 376.5 M562.4 375.6 L559.5 371.7 M574 371 C577.4 371 578.6 376.9 582.8 376.9 M576 371 L582.2 376.5 M578.5 375.6 L581.4 371.7 M591.6 371 C588.2 371 587 376.9 582.8 376.9 M589.6 371 L583.4 376.5 M587.1 375.6 L584.2 371.7 M598.7 371 C602.1 371 603.3 376.9 607.5 376.9 M600.7 371 L606.9 376.5 M603.2 375.6 L606.1 371.7 M616.3 371 C612.9 371 611.7 376.9 607.5 376.9 M614.3 371 L608.1 376.5 M611.8 375.6 L608.9 371.7 M623.5 371 C626.9 371 628.1 376.9 632.3 376.9 M625.5 371 L631.7 376.5 M628 375.6 L630.9 371.7 M641.1 371 C637.7 371 636.5 376.9 632.3 376.9 M639.1 371 L632.9 376.5 M636.6 375.6 L633.7 371.7 M648.2 371 C651.6 371 652.8 376.9 657 376.9 M650.2 371 L656.4 376.5 M652.7 375.6 L655.6 371.7 M665.8 371 C662.4 371 661.2 376.9 657 376.9 M663.8 371 L657.6 376.5 M661.3 375.6 L658.4 371.7 M672.9 371 C676.3 371 677.5 376.9 681.7 376.9 M674.9 371 L681.1 376.5 M677.4 375.6 L680.3 371.7 M690.5 371 C687.1 371 685.9 376.9 681.7 376.9 M688.5 371 L682.3 376.5 M686 375.6 L683.1 371.7 M697.7 371 C701.1 371 702.2 376.9 706.5 376.9 M699.7 371 L705.9 376.5 M702.2 375.6 L705.1 371.7 M715.2 371 C711.9 371 710.7 376.9 706.5 376.9 M713.2 371 L707.1 376.5 M710.8 375.6 L707.9 371.7 M722.4 371 C725.8 371 727 376.9 731.2 376.9 M724.4 371 L730.6 376.5 M726.9 375.6 L729.8 371.7 M740 371 C736.6 371 735.4 376.9 731.2 376.9 M738 371 L731.8 376.5 M735.5 375.6 L732.6 371.7 M747.1 371 C750.5 371 751.7 376.9 755.9 376.9 M749.1 371 L755.3 376.5 M751.6 375.6 L754.5 371.7 M764.7 371 C761.3 371 760.1 376.9 755.9 376.9 M762.7 371 L756.5 376.5 M760.2 375.6 L757.3 371.7 M771.8 371 C775.2 371 776.4 376.9 780.6 376.9 M773.8 371 L780 376.5 M776.3 375.6 L779.2 371.7 M789.4 371 C786 371 784.8 376.9 780.6 376.9 M787.4 371 L781.2 376.5 M784.9 375.6 L782 371.7 M796.6 371 C800 371 801.2 376.9 805.4 376.9 M798.6 371 L804.8 376.5 M801.1 375.6 L804 371.7 M814.2 371 C810.8 371 809.6 376.9 805.4 376.9 M812.2 371 L806 376.5 M809.7 375.6 L806.8 371.7 M821.3 371 C824.7 371 825.9 376.9 830.1 376.9 M823.3 371 L829.5 376.5 M825.8 375.6 L828.7 371.7 M838.9 371 C835.5 371 834.3 376.9 830.1 376.9 M836.9 371 L830.7 376.5 M834.4 375.6 L831.5 371.7 M846 371 C849.4 371 850.6 376.9 854.8 376.9 M848 371 L854.2 376.5 M850.5 375.6 L853.4 371.7 M863.6 371 C860.2 371 859 376.9 854.8 376.9 M861.6 371 L855.4 376.5 M859.1 375.6 L856.2 371.7 M870.8 371 C874.2 371 875.4 376.9 879.6 376.9 M872.8 371 L879 376.5 M875.3 375.6 L878.2 371.7 M888.4 371 C885 371 883.8 376.9 879.6 376.9 M886.4 371 L880.2 376.5 M883.9 375.6 L881 371.7 M895.5 371 C898.9 371 900.1 376.9 904.3 376.9 M897.5 371 L903.7 376.5 M900 375.6 L902.9 371.7 M913.1 371 C909.7 371 908.5 376.9 904.3 376.9 M911.1 371 L904.9 376.5 M908.6 375.6 L905.7 371.7 M920.2 371 C923.6 371 924.8 376.9 929 376.9 M922.2 371 L928.4 376.5 M924.7 375.6 L927.6 371.7 M937.8 371 C934.4 371 933.2 376.9 929 376.9 M935.8 371 L929.6 376.5 M933.3 375.6 L930.4 371.7 M944.9 371 C948.3 371 949.5 376.9 953.7 376.9 M946.9 371 L953.1 376.5 M949.4 375.6 L952.3 371.7 M962.5 371 C959.1 371 957.9 376.9 953.7 376.9 M960.5 371 L954.3 376.5 M958 375.6 L955.1 371.7 M969.7 371 C973.1 371 974.3 376.9 978.5 376.9 M971.7 371 L977.9 376.5 M974.2 375.6 L977.1 371.7 M987.3 371 C983.9 371 982.7 376.9 978.5 376.9 M985.3 371 L979.1 376.5 M982.8 375.6 L979.9 371.7 M994.4 371 C997.8 371 999 376.9 1003.2 376.9 M996.4 371 L1002.6 376.5 M998.9 375.6 L1001.8 371.7" fill="none" stroke="#231f20" stroke-width="0.9"/>
<path d="M1006.9 387.7 L1032.2 387.7 L1032.2 346.5 L1030.9 346.5 L1030.9 318.5 L1032.2 318.5 L1032.2 294 L1016.9 294 L1015.9 301.6 L1006.9 301.6Z" fill="#c8603a" stroke="#231f20" stroke-width="1.1" stroke-linejoin="miter" />
<path d="M1006.9 371 L1032.2 371" fill="none" stroke="#231f20" stroke-width="1.0" />
<path d="M1032.2 387.7 L1057.4 387.7 L1057.4 301.6 L1048.4 301.6 L1047.4 294 L1032.2 294 L1032.2 318.5 L1030.9 318.5 L1030.9 346.5 L1032.2 346.5Z" fill="#c8603a" stroke="#231f20" stroke-width="1.1" stroke-linejoin="miter" />
<path d="M1032.2 371 L1057.4 371" fill="none" stroke="#231f20" stroke-width="1.0" />
<path d="M1015.7 371 C1012.3 371 1011.1 376.9 1006.9 376.9 M1013.7 371 L1007.5 376.5 M1011.2 375.6 L1008.3 371.7 M1023.4 371 C1026.8 371 1028 376.9 1032.2 376.9 M1025.4 371 L1031.6 376.5 M1027.9 375.6 L1030.8 371.7 M1041 371 C1037.6 371 1036.4 376.9 1032.2 376.9 M1039 371 L1032.8 376.5 M1036.5 375.6 L1033.6 371.7 M1048.6 371 C1052 371 1053.2 376.9 1057.4 376.9 M1050.6 371 L1056.8 376.5 M1053.1 375.6 L1056 371.7" fill="none" stroke="#231f20" stroke-width="0.9"/>
<path d="M1057.4 400.3 L1082 400.3 L1082 358.8 L1080.7 358.8 L1080.7 330.8 L1082 330.8 L1082 306.6 L1067.4 306.6 L1066.4 314.2 L1057.4 314.2Z" fill="#c8603a" stroke="#231f20" stroke-width="1.1" stroke-linejoin="miter" />
<path d="M1057.4 383.3 L1082 383.3" fill="none" stroke="#231f20" stroke-width="1.0" />
<path d="M1082 400.3 L1106.6 400.3 L1106.6 314.2 L1097.6 314.2 L1096.6 306.6 L1082 306.6 L1082 330.8 L1080.7 330.8 L1080.7 358.8 L1082 358.8Z" fill="#c8603a" stroke="#231f20" stroke-width="1.1" stroke-linejoin="miter" />
<path d="M1082 383.3 L1106.6 383.3" fill="none" stroke="#231f20" stroke-width="1.0" />
<path d="M1106.6 400.3 L1131.1 400.3 L1131.1 358.8 L1129.8 358.8 L1129.8 330.8 L1131.1 330.8 L1131.1 306.6 L1116.6 306.6 L1115.6 314.2 L1106.6 314.2Z" fill="#c8603a" stroke="#231f20" stroke-width="1.1" stroke-linejoin="miter" />
<path d="M1106.6 383.3 L1131.1 383.3" fill="none" stroke="#231f20" stroke-width="1.0" />
<path d="M1131.1 400.3 L1155.7 400.3 L1155.7 314.2 L1146.7 314.2 L1145.7 306.6 L1131.1 306.6 L1131.1 330.8 L1129.8 330.8 L1129.8 358.8 L1131.1 358.8Z" fill="#c8603a" stroke="#231f20" stroke-width="1.1" stroke-linejoin="miter" />
<path d="M1131.1 383.3 L1155.7 383.3" fill="none" stroke="#231f20" stroke-width="1.0" />
<path d="M1066.2 383.3 C1062.8 383.3 1061.6 389.2 1057.4 389.2 M1064.2 383.3 L1058 388.8 M1061.7 387.9 L1058.8 384 M1073.2 383.3 C1076.6 383.3 1077.8 389.2 1082 389.2 M1075.2 383.3 L1081.4 388.8 M1077.7 387.9 L1080.6 384 M1090.8 383.3 C1087.4 383.3 1086.2 389.2 1082 389.2 M1088.8 383.3 L1082.6 388.8 M1086.3 387.9 L1083.4 384 M1097.8 383.3 C1101.2 383.3 1102.4 389.2 1106.6 389.2 M1099.8 383.3 L1106 388.8 M1102.3 387.9 L1105.2 384 M1115.4 383.3 C1112 383.3 1110.8 389.2 1106.6 389.2 M1113.4 383.3 L1107.2 388.8 M1110.9 387.9 L1108 384 M1122.3 383.3 C1125.7 383.3 1126.9 389.2 1131.1 389.2 M1124.3 383.3 L1130.5 388.8 M1126.8 387.9 L1129.7 384 M1139.9 383.3 C1136.5 383.3 1135.3 389.2 1131.1 389.2 M1137.9 383.3 L1131.7 388.8 M1135.4 387.9 L1132.5 384 M1146.9 383.3 C1150.3 383.3 1151.5 389.2 1155.7 389.2 M1148.9 383.3 L1155.1 388.8 M1151.4 387.9 L1154.3 384" fill="none" stroke="#231f20" stroke-width="0.9"/>
<path d="M1155.7 400.3 L1193 400.3 L1193 306.6 L1171.2 306.6 L1170.2 314.2 L1155.7 314.2Z" fill="#c8603a" stroke="#231f20" stroke-width="1.1" stroke-linejoin="miter" />
<path d="M1155.7 383.3 L1193 383.3" fill="none" stroke="#231f20" stroke-width="1.0" />
<path d="M1193 400.3 L1230.3 400.3 L1230.3 314.2 L1215.8 314.2 L1214.8 306.6 L1193 306.6Z" fill="#c8603a" stroke="#231f20" stroke-width="1.1" stroke-linejoin="miter" />
<path d="M1193 383.3 L1230.3 383.3" fill="none" stroke="#231f20" stroke-width="1.0" />
<path d="M1230.3 400.3 L1267.7 400.3 L1267.7 306.6 L1245.8 306.6 L1244.8 314.2 L1230.3 314.2Z" fill="#c8603a" stroke="#231f20" stroke-width="1.1" stroke-linejoin="miter" />
<path d="M1230.3 383.3 L1267.7 383.3" fill="none" stroke="#231f20" stroke-width="1.0" />
<path d="M1267.7 400.3 L1305 400.3 L1305 314.2 L1290.5 314.2 L1289.5 306.6 L1267.7 306.6Z" fill="#c8603a" stroke="#231f20" stroke-width="1.1" stroke-linejoin="miter" />
<path d="M1267.7 383.3 L1305 383.3" fill="none" stroke="#231f20" stroke-width="1.0" />
<path d="M1305 387.7 L1329.8 387.7 L1329.8 346.5 L1328.5 346.5 L1328.5 318.5 L1329.8 318.5 L1329.8 294 L1315 294 L1314 301.6 L1305 301.6Z" fill="#c8603a" stroke="#231f20" stroke-width="1.1" stroke-linejoin="miter" />
<path d="M1305 371 L1329.8 371" fill="none" stroke="#231f20" stroke-width="1.0" />
<path d="M1329.8 387.7 L1354.5 387.7 L1354.5 301.6 L1345.5 301.6 L1344.5 294 L1329.8 294 L1329.8 318.5 L1328.5 318.5 L1328.5 346.5 L1329.8 346.5Z" fill="#c8603a" stroke="#231f20" stroke-width="1.1" stroke-linejoin="miter" />
<path d="M1329.8 371 L1354.5 371" fill="none" stroke="#231f20" stroke-width="1.0" />
<path d="M1354.5 387.7 L1379.2 387.7 L1379.2 346.5 L1378 346.5 L1378 318.5 L1379.2 318.5 L1379.2 294 L1364.5 294 L1363.5 301.6 L1354.5 301.6Z" fill="#c8603a" stroke="#231f20" stroke-width="1.1" stroke-linejoin="miter" />
<path d="M1354.5 371 L1379.2 371" fill="none" stroke="#231f20" stroke-width="1.0" />
<path d="M1379.2 387.7 L1404 387.7 L1404 301.6 L1395 301.6 L1394 294 L1379.2 294 L1379.2 318.5 L1378 318.5 L1378 346.5 L1379.2 346.5Z" fill="#c8603a" stroke="#231f20" stroke-width="1.1" stroke-linejoin="miter" />
<path d="M1379.2 371 L1404 371" fill="none" stroke="#231f20" stroke-width="1.0" />
<path d="M1313.8 371 C1310.4 371 1309.2 376.9 1305 376.9 M1311.8 371 L1305.6 376.5 M1309.3 375.6 L1306.4 371.7 M1321 371 C1324.3 371 1325.5 376.9 1329.8 376.9 M1323 371 L1329.2 376.5 M1325.5 375.6 L1328.3 371.7 M1338.5 371 C1335.2 371 1334 376.9 1329.8 376.9 M1336.5 371 L1330.3 376.5 M1334 375.6 L1331.2 371.7 M1345.7 371 C1349.1 371 1350.3 376.9 1354.5 376.9 M1347.7 371 L1353.9 376.5 M1350.2 375.6 L1353.1 371.7 M1363.3 371 C1359.9 371 1358.7 376.9 1354.5 376.9 M1361.3 371 L1355.1 376.5 M1358.8 375.6 L1355.9 371.7 M1370.5 371 C1373.8 371 1375 376.9 1379.2 376.9 M1372.5 371 L1378.7 376.5 M1375 375.6 L1377.8 371.7 M1388 371 C1384.7 371 1383.5 376.9 1379.2 376.9 M1386 371 L1379.8 376.5 M1383.5 375.6 L1380.7 371.7 M1395.2 371 C1398.6 371 1399.8 376.9 1404 376.9 M1397.2 371 L1403.4 376.5 M1399.7 375.6 L1402.6 371.7" fill="none" stroke="#231f20" stroke-width="0.9"/>
<path d="M1407.8 387.7 L1432.6 387.7 L1432.6 346.5 L1431.3 346.5 L1431.3 318.5 L1432.6 318.5 L1432.6 294 L1417.8 294 L1416.8 301.6 L1407.8 301.6Z" fill="#f7941d" stroke="#231f20" stroke-width="1.1" stroke-linejoin="miter" />
<path d="M1407.8 371 L1432.6 371" fill="none" stroke="#231f20" stroke-width="1.0" />
<path d="M1432.6 387.7 L1457.4 387.7 L1457.4 301.6 L1448.4 301.6 L1447.4 294 L1432.6 294 L1432.6 318.5 L1431.3 318.5 L1431.3 346.5 L1432.6 346.5Z" fill="#f7941d" stroke="#231f20" stroke-width="1.1" stroke-linejoin="miter" />
<path d="M1432.6 371 L1457.4 371" fill="none" stroke="#231f20" stroke-width="1.0" />
<path d="M1457.4 387.7 L1482.2 387.7 L1482.2 346.5 L1480.9 346.5 L1480.9 318.5 L1482.2 318.5 L1482.2 294 L1467.4 294 L1466.4 301.6 L1457.4 301.6Z" fill="#fbcaa6" stroke="#231f20" stroke-width="1.1" stroke-linejoin="miter" />
<path d="M1457.4 371 L1482.2 371" fill="none" stroke="#231f20" stroke-width="1.0" />
<path d="M1482.2 387.7 L1507 387.7 L1507 301.6 L1498 301.6 L1497 294 L1482.2 294 L1482.2 318.5 L1480.9 318.5 L1480.9 346.5 L1482.2 346.5Z" fill="#fbcaa6" stroke="#231f20" stroke-width="1.1" stroke-linejoin="miter" />
<path d="M1482.2 371 L1507 371" fill="none" stroke="#231f20" stroke-width="1.0" />
<path d="M1416.6 371 C1413.2 371 1412 376.9 1407.8 376.9 M1414.6 371 L1408.4 376.5 M1412.1 375.6 L1409.2 371.7 M1423.8 371 C1427.2 371 1428.4 376.9 1432.6 376.9 M1425.8 371 L1432 376.5 M1428.3 375.6 L1431.2 371.7 M1441.4 371 C1438 371 1436.8 376.9 1432.6 376.9 M1439.4 371 L1433.2 376.5 M1436.9 375.6 L1434 371.7 M1448.6 371 C1452 371 1453.2 376.9 1457.4 376.9 M1450.6 371 L1456.8 376.5 M1453.1 375.6 L1456 371.7 M1466.2 371 C1462.8 371 1461.6 376.9 1457.4 376.9 M1464.2 371 L1458 376.5 M1461.7 375.6 L1458.8 371.7 M1473.4 371 C1476.8 371 1478 376.9 1482.2 376.9 M1475.4 371 L1481.6 376.5 M1477.9 375.6 L1480.8 371.7 M1491 371 C1487.6 371 1486.4 376.9 1482.2 376.9 M1489 371 L1482.8 376.5 M1486.5 375.6 L1483.6 371.7 M1498.2 371 C1501.6 371 1502.8 376.9 1507 376.9 M1500.2 371 L1506.4 376.5 M1502.7 375.6 L1505.6 371.7" fill="none" stroke="#231f20" stroke-width="0.9"/>
<path d="M1655.3 387.7 L1680 387.7 L1680 346.5 L1678.7 346.5 L1678.7 318.5 L1680 318.5 L1680 294 L1665.3 294 L1664.3 301.6 L1655.3 301.6Z" fill="#fbcaa6" stroke="#231f20" stroke-width="1.1" stroke-linejoin="miter" />
<path d="M1655.3 371 L1680 371" fill="none" stroke="#231f20" stroke-width="1.0" />
<path d="M1680 387.7 L1704.8 387.7 L1704.8 301.6 L1695.8 301.6 L1694.8 294 L1680 294 L1680 318.5 L1678.7 318.5 L1678.7 346.5 L1680 346.5Z" fill="#fbcaa6" stroke="#231f20" stroke-width="1.1" stroke-linejoin="miter" />
<path d="M1680 371 L1704.8 371" fill="none" stroke="#231f20" stroke-width="1.0" />
<path d="M1704.8 387.7 L1729.5 387.7 L1729.5 346.5 L1728.2 346.5 L1728.2 318.5 L1729.5 318.5 L1729.5 294 L1714.8 294 L1713.8 301.6 L1704.8 301.6Z" fill="#f7941d" stroke="#231f20" stroke-width="1.1" stroke-linejoin="miter" />
<path d="M1704.8 371 L1729.5 371" fill="none" stroke="#231f20" stroke-width="1.0" />
<path d="M1729.5 387.7 L1754.3 387.7 L1754.3 301.6 L1745.3 301.6 L1744.3 294 L1729.5 294 L1729.5 318.5 L1728.2 318.5 L1728.2 346.5 L1729.5 346.5Z" fill="#f7941d" stroke="#231f20" stroke-width="1.1" stroke-linejoin="miter" />
<path d="M1729.5 371 L1754.3 371" fill="none" stroke="#231f20" stroke-width="1.0" />
<path d="M1754.3 387.7 L1779 387.7 L1779 346.5 L1777.7 346.5 L1777.7 318.5 L1779 318.5 L1779 294 L1764.3 294 L1763.3 301.6 L1754.3 301.6Z" fill="#f7941d" stroke="#231f20" stroke-width="1.1" stroke-linejoin="miter" />
<path d="M1754.3 371 L1779 371" fill="none" stroke="#231f20" stroke-width="1.0" />
<path d="M1779 387.7 L1803.8 387.7 L1803.8 301.6 L1794.8 301.6 L1793.8 294 L1779 294 L1779 318.5 L1777.7 318.5 L1777.7 346.5 L1779 346.5Z" fill="#f7941d" stroke="#231f20" stroke-width="1.1" stroke-linejoin="miter" />
<path d="M1779 371 L1803.8 371" fill="none" stroke="#231f20" stroke-width="1.0" />
<path d="M1803.8 387.7 L1828.5 387.7 L1828.5 346.5 L1827.2 346.5 L1827.2 318.5 L1828.5 318.5 L1828.5 294 L1813.8 294 L1812.8 301.6 L1803.8 301.6Z" fill="#f7941d" stroke="#231f20" stroke-width="1.1" stroke-linejoin="miter" />
<path d="M1803.8 371 L1828.5 371" fill="none" stroke="#231f20" stroke-width="1.0" />
<path d="M1828.5 387.7 L1853.2 387.7 L1853.2 301.6 L1844.2 301.6 L1843.2 294 L1828.5 294 L1828.5 318.5 L1827.2 318.5 L1827.2 346.5 L1828.5 346.5Z" fill="#f7941d" stroke="#231f20" stroke-width="1.1" stroke-linejoin="miter" />
<path d="M1828.5 371 L1853.2 371" fill="none" stroke="#231f20" stroke-width="1.0" />
<path d="M1853.2 387.7 L1878 387.7 L1878 346.5 L1876.7 346.5 L1876.7 318.5 L1878 318.5 L1878 294 L1863.2 294 L1862.2 301.6 L1853.2 301.6Z" fill="#f7941d" stroke="#231f20" stroke-width="1.1" stroke-linejoin="miter" />
<path d="M1853.2 371 L1878 371" fill="none" stroke="#231f20" stroke-width="1.0" />
<path d="M1878 387.7 L1902.7 387.7 L1902.7 301.6 L1893.7 301.6 L1892.7 294 L1878 294 L1878 318.5 L1876.7 318.5 L1876.7 346.5 L1878 346.5Z" fill="#f7941d" stroke="#231f20" stroke-width="1.1" stroke-linejoin="miter" />
<path d="M1878 371 L1902.7 371" fill="none" stroke="#231f20" stroke-width="1.0" />
<path d="M1902.7 387.7 L1927.5 387.7 L1927.5 346.5 L1926.2 346.5 L1926.2 318.5 L1927.5 318.5 L1927.5 294 L1912.7 294 L1911.7 301.6 L1902.7 301.6Z" fill="#f7941d" stroke="#231f20" stroke-width="1.1" stroke-linejoin="miter" />
<path d="M1902.7 371 L1927.5 371" fill="none" stroke="#231f20" stroke-width="1.0" />
<path d="M1927.5 387.7 L1952.2 387.7 L1952.2 301.6 L1943.2 301.6 L1942.2 294 L1927.5 294 L1927.5 318.5 L1926.2 318.5 L1926.2 346.5 L1927.5 346.5Z" fill="#f7941d" stroke="#231f20" stroke-width="1.1" stroke-linejoin="miter" />
<path d="M1927.5 371 L1952.2 371" fill="none" stroke="#231f20" stroke-width="1.0" />
<path d="M1664.1 371 C1660.7 371 1659.5 376.9 1655.3 376.9 M1662.1 371 L1655.9 376.5 M1659.6 375.6 L1656.7 371.7 M1671.2 371 C1674.6 371 1675.8 376.9 1680 376.9 M1673.2 371 L1679.4 376.5 M1675.7 375.6 L1678.6 371.7 M1688.8 371 C1685.4 371 1684.2 376.9 1680 376.9 M1686.8 371 L1680.6 376.5 M1684.3 375.6 L1681.4 371.7 M1696 371 C1699.4 371 1700.6 376.9 1704.8 376.9 M1698 371 L1704.2 376.5 M1700.5 375.6 L1703.4 371.7 M1713.6 371 C1710.2 371 1709 376.9 1704.8 376.9 M1711.6 371 L1705.4 376.5 M1709.1 375.6 L1706.2 371.7 M1720.7 371 C1724.1 371 1725.3 376.9 1729.5 376.9 M1722.7 371 L1728.9 376.5 M1725.2 375.6 L1728.1 371.7 M1738.3 371 C1734.9 371 1733.7 376.9 1729.5 376.9 M1736.3 371 L1730.1 376.5 M1733.8 375.6 L1730.9 371.7 M1745.5 371 C1748.9 371 1750.1 376.9 1754.3 376.9 M1747.5 371 L1753.7 376.5 M1750 375.6 L1752.9 371.7 M1763.1 371 C1759.7 371 1758.5 376.9 1754.3 376.9 M1761.1 371 L1754.9 376.5 M1758.6 375.6 L1755.7 371.7 M1770.2 371 C1773.6 371 1774.8 376.9 1779 376.9 M1772.2 371 L1778.4 376.5 M1774.7 375.6 L1777.6 371.7 M1787.8 371 C1784.4 371 1783.2 376.9 1779 376.9 M1785.8 371 L1779.6 376.5 M1783.3 375.6 L1780.4 371.7 M1795 371 C1798.3 371 1799.5 376.9 1803.8 376.9 M1797 371 L1803.2 376.5 M1799.5 375.6 L1802.3 371.7 M1812.5 371 C1809.2 371 1808 376.9 1803.8 376.9 M1810.5 371 L1804.3 376.5 M1808 375.6 L1805.2 371.7 M1819.7 371 C1823.1 371 1824.3 376.9 1828.5 376.9 M1821.7 371 L1827.9 376.5 M1824.2 375.6 L1827.1 371.7 M1837.3 371 C1833.9 371 1832.7 376.9 1828.5 376.9 M1835.3 371 L1829.1 376.5 M1832.8 375.6 L1829.9 371.7 M1844.4 371 C1847.8 371 1849 376.9 1853.2 376.9 M1846.4 371 L1852.6 376.5 M1848.9 375.6 L1851.8 371.7 M1862 371 C1858.6 371 1857.4 376.9 1853.2 376.9 M1860 371 L1853.8 376.5 M1857.5 375.6 L1854.6 371.7 M1869.2 371 C1872.6 371 1873.8 376.9 1878 376.9 M1871.2 371 L1877.4 376.5 M1873.7 375.6 L1876.6 371.7 M1886.8 371 C1883.4 371 1882.2 376.9 1878 376.9 M1884.8 371 L1878.6 376.5 M1882.3 375.6 L1879.4 371.7 M1893.9 371 C1897.3 371 1898.5 376.9 1902.7 376.9 M1895.9 371 L1902.1 376.5 M1898.4 375.6 L1901.3 371.7 M1911.5 371 C1908.1 371 1906.9 376.9 1902.7 376.9 M1909.5 371 L1903.3 376.5 M1907 375.6 L1904.1 371.7 M1918.7 371 C1922.1 371 1923.3 376.9 1927.5 376.9 M1920.7 371 L1926.9 376.5 M1923.2 375.6 L1926.1 371.7 M1936.3 371 C1932.9 371 1931.7 376.9 1927.5 376.9 M1934.3 371 L1928.1 376.5 M1931.8 375.6 L1928.9 371.7 M1943.4 371 C1946.8 371 1948 376.9 1952.2 376.9 M1945.4 371 L1951.6 376.5 M1947.9 375.6 L1950.8 371.7" fill="none" stroke="#231f20" stroke-width="0.9"/>
<path d="M1955.6 387.7 L1980.4 387.7 L1980.4 346.5 L1979.1 346.5 L1979.1 318.5 L1980.4 318.5 L1980.4 294 L1965.6 294 L1964.6 301.6 L1955.6 301.6Z" fill="#f7941d" stroke="#231f20" stroke-width="1.1" stroke-linejoin="miter" />
<path d="M1955.6 371 L1980.4 371" fill="none" stroke="#231f20" stroke-width="1.0" />
<path d="M1980.4 387.7 L2005.3 387.7 L2005.3 301.6 L1996.3 301.6 L1995.3 294 L1980.4 294 L1980.4 318.5 L1979.1 318.5 L1979.1 346.5 L1980.4 346.5Z" fill="#f7941d" stroke="#231f20" stroke-width="1.1" stroke-linejoin="miter" />
<path d="M1980.4 371 L2005.3 371" fill="none" stroke="#231f20" stroke-width="1.0" />
<path d="M2005.3 387.7 L2030.2 387.7 L2030.2 346.5 L2028.9 346.5 L2028.9 318.5 L2030.2 318.5 L2030.2 294 L2015.3 294 L2014.3 301.6 L2005.3 301.6Z" fill="#f7941d" stroke="#231f20" stroke-width="1.1" stroke-linejoin="miter" />
<path d="M2005.3 371 L2030.2 371" fill="none" stroke="#231f20" stroke-width="1.0" />
<path d="M2030.2 387.7 L2055 387.7 L2055 301.6 L2046 301.6 L2045 294 L2030.2 294 L2030.2 318.5 L2028.9 318.5 L2028.9 346.5 L2030.2 346.5Z" fill="#f7941d" stroke="#231f20" stroke-width="1.1" stroke-linejoin="miter" />
<path d="M2030.2 371 L2055 371" fill="none" stroke="#231f20" stroke-width="1.0" />
<path d="M2055 387.7 L2079.8 387.7 L2079.8 346.5 L2078.5 346.5 L2078.5 318.5 L2079.8 318.5 L2079.8 294 L2065 294 L2064 301.6 L2055 301.6Z" fill="#f7941d" stroke="#231f20" stroke-width="1.1" stroke-linejoin="miter" />
<path d="M2055 371 L2079.8 371" fill="none" stroke="#231f20" stroke-width="1.0" />
<path d="M2079.8 387.7 L2104.7 387.7 L2104.7 301.6 L2095.7 301.6 L2094.7 294 L2079.8 294 L2079.8 318.5 L2078.5 318.5 L2078.5 346.5 L2079.8 346.5Z" fill="#f7941d" stroke="#231f20" stroke-width="1.1" stroke-linejoin="miter" />
<path d="M2079.8 371 L2104.7 371" fill="none" stroke="#231f20" stroke-width="1.0" />
<path d="M2104.7 387.7 L2129.6 387.7 L2129.6 346.5 L2128.2 346.5 L2128.2 318.5 L2129.6 318.5 L2129.6 294 L2114.7 294 L2113.7 301.6 L2104.7 301.6Z" fill="#f7941d" stroke="#231f20" stroke-width="1.1" stroke-linejoin="miter" />
<path d="M2104.7 371 L2129.6 371" fill="none" stroke="#231f20" stroke-width="1.0" />
<path d="M2129.6 387.7 L2154.4 387.7 L2154.4 301.6 L2145.4 301.6 L2144.4 294 L2129.6 294 L2129.6 318.5 L2128.2 318.5 L2128.2 346.5 L2129.6 346.5Z" fill="#f7941d" stroke="#231f20" stroke-width="1.1" stroke-linejoin="miter" />
<path d="M2129.6 371 L2154.4 371" fill="none" stroke="#231f20" stroke-width="1.0" />
<path d="M1964.4 371 C1961 371 1959.8 376.9 1955.6 376.9 M1962.4 371 L1956.2 376.5 M1959.9 375.6 L1957 371.7 M1971.6 371 C1975 371 1976.2 376.9 1980.4 376.9 M1973.6 371 L1979.8 376.5 M1976.1 375.6 L1979 371.7 M1989.2 371 C1985.8 371 1984.6 376.9 1980.4 376.9 M1987.2 371 L1981 376.5 M1984.7 375.6 L1981.8 371.7 M1996.5 371 C1999.9 371 2001.1 376.9 2005.3 376.9 M1998.5 371 L2004.7 376.5 M2001 375.6 L2003.9 371.7 M2014.1 371 C2010.7 371 2009.5 376.9 2005.3 376.9 M2012.1 371 L2005.9 376.5 M2009.6 375.6 L2006.7 371.7 M2021.4 371 C2024.8 371 2026 376.9 2030.2 376.9 M2023.4 371 L2029.6 376.5 M2025.9 375.6 L2028.8 371.7 M2039 371 C2035.6 371 2034.4 376.9 2030.2 376.9 M2037 371 L2030.8 376.5 M2034.5 375.6 L2031.6 371.7 M2046.2 371 C2049.6 371 2050.8 376.9 2055 376.9 M2048.2 371 L2054.4 376.5 M2050.7 375.6 L2053.6 371.7 M2063.8 371 C2060.4 371 2059.2 376.9 2055 376.9 M2061.8 371 L2055.6 376.5 M2059.3 375.6 L2056.4 371.7 M2071 371 C2074.4 371 2075.7 376.9 2079.8 376.9 M2073 371 L2079.2 376.5 M2075.5 375.6 L2078.4 371.7 M2088.7 371 C2085.2 371 2084 376.9 2079.8 376.9 M2086.7 371 L2080.4 376.5 M2084.2 375.6 L2081.2 371.7 M2095.9 371 C2099.3 371 2100.5 376.9 2104.7 376.9 M2097.9 371 L2104.1 376.5 M2100.4 375.6 L2103.3 371.7 M2113.5 371 C2110.1 371 2108.9 376.9 2104.7 376.9 M2111.5 371 L2105.3 376.5 M2109 375.6 L2106.1 371.7 M2120.8 371 C2124.2 371 2125.4 376.9 2129.6 376.9 M2122.8 371 L2129 376.5 M2125.2 375.6 L2128.2 371.7 M2138.4 371 C2135 371 2133.8 376.9 2129.6 376.9 M2136.4 371 L2130.2 376.5 M2133.9 375.6 L2131 371.7 M2145.6 371 C2149 371 2150.2 376.9 2154.4 376.9 M2147.6 371 L2153.8 376.5 M2150.1 375.6 L2153 371.7" fill="none" stroke="#231f20" stroke-width="0.9"/>
<path d="M2154.4 400.3 L2179.1 400.3 L2179.1 358.8 L2177.8 358.8 L2177.8 330.8 L2179.1 330.8 L2179.1 306.6 L2164.4 306.6 L2163.4 314.2 L2154.4 314.2Z" fill="#f7941d" stroke="#231f20" stroke-width="1.1" stroke-linejoin="miter" />
<path d="M2154.4 383.3 L2179.1 383.3" fill="none" stroke="#231f20" stroke-width="1.0" />
<path d="M2179.1 400.3 L2203.9 400.3 L2203.9 314.2 L2194.9 314.2 L2193.9 306.6 L2179.1 306.6 L2179.1 330.8 L2177.8 330.8 L2177.8 358.8 L2179.1 358.8Z" fill="#f7941d" stroke="#231f20" stroke-width="1.1" stroke-linejoin="miter" />
<path d="M2179.1 383.3 L2203.9 383.3" fill="none" stroke="#231f20" stroke-width="1.0" />
<path d="M2203.9 400.3 L2228.6 400.3 L2228.6 358.8 L2227.3 358.8 L2227.3 330.8 L2228.6 330.8 L2228.6 306.6 L2213.9 306.6 L2212.9 314.2 L2203.9 314.2Z" fill="#f7941d" stroke="#231f20" stroke-width="1.1" stroke-linejoin="miter" />
<path d="M2203.9 383.3 L2228.6 383.3" fill="none" stroke="#231f20" stroke-width="1.0" />
<path d="M2228.6 400.3 L2253.3 400.3 L2253.3 314.2 L2244.3 314.2 L2243.3 306.6 L2228.6 306.6 L2228.6 330.8 L2227.3 330.8 L2227.3 358.8 L2228.6 358.8Z" fill="#f7941d" stroke="#231f20" stroke-width="1.1" stroke-linejoin="miter" />
<path d="M2228.6 383.3 L2253.3 383.3" fill="none" stroke="#231f20" stroke-width="1.0" />
<path d="M2253.3 400.3 L2278.1 400.3 L2278.1 358.8 L2276.8 358.8 L2276.8 330.8 L2278.1 330.8 L2278.1 306.6 L2263.3 306.6 L2262.3 314.2 L2253.3 314.2Z" fill="#f7941d" stroke="#231f20" stroke-width="1.1" stroke-linejoin="miter" />
<path d="M2253.3 383.3 L2278.1 383.3" fill="none" stroke="#231f20" stroke-width="1.0" />
<path d="M2278.1 400.3 L2302.8 400.3 L2302.8 314.2 L2293.8 314.2 L2292.8 306.6 L2278.1 306.6 L2278.1 330.8 L2276.8 330.8 L2276.8 358.8 L2278.1 358.8Z" fill="#f7941d" stroke="#231f20" stroke-width="1.1" stroke-linejoin="miter" />
<path d="M2278.1 383.3 L2302.8 383.3" fill="none" stroke="#231f20" stroke-width="1.0" />
<path d="M2302.8 400.3 L2327.5 400.3 L2327.5 358.8 L2326.2 358.8 L2326.2 330.8 L2327.5 330.8 L2327.5 306.6 L2312.8 306.6 L2311.8 314.2 L2302.8 314.2Z" fill="#f7941d" stroke="#231f20" stroke-width="1.1" stroke-linejoin="miter" />
<path d="M2302.8 383.3 L2327.5 383.3" fill="none" stroke="#231f20" stroke-width="1.0" />
<path d="M2327.5 400.3 L2352.2 400.3 L2352.2 314.2 L2343.2 314.2 L2342.2 306.6 L2327.5 306.6 L2327.5 330.8 L2326.2 330.8 L2326.2 358.8 L2327.5 358.8Z" fill="#f7941d" stroke="#231f20" stroke-width="1.1" stroke-linejoin="miter" />
<path d="M2327.5 383.3 L2352.2 383.3" fill="none" stroke="#231f20" stroke-width="1.0" />
<path d="M2352.2 400.3 L2377 400.3 L2377 358.8 L2375.7 358.8 L2375.7 330.8 L2377 330.8 L2377 306.6 L2362.2 306.6 L2361.2 314.2 L2352.2 314.2Z" fill="#f7941d" stroke="#231f20" stroke-width="1.1" stroke-linejoin="miter" />
<path d="M2352.2 383.3 L2377 383.3" fill="none" stroke="#231f20" stroke-width="1.0" />
<path d="M2377 400.3 L2401.7 400.3 L2401.7 314.2 L2392.7 314.2 L2391.7 306.6 L2377 306.6 L2377 330.8 L2375.7 330.8 L2375.7 358.8 L2377 358.8Z" fill="#f7941d" stroke="#231f20" stroke-width="1.1" stroke-linejoin="miter" />
<path d="M2377 383.3 L2401.7 383.3" fill="none" stroke="#231f20" stroke-width="1.0" />
<path d="M2163.2 383.3 C2159.8 383.3 2158.6 389.2 2154.4 389.2 M2161.2 383.3 L2155 388.8 M2158.7 387.9 L2155.8 384 M2170.3 383.3 C2173.7 383.3 2174.9 389.2 2179.1 389.2 M2172.3 383.3 L2178.5 388.8 M2174.8 387.9 L2177.7 384 M2187.9 383.3 C2184.5 383.3 2183.3 389.2 2179.1 389.2 M2185.9 383.3 L2179.7 388.8 M2183.4 387.9 L2180.5 384 M2195.1 383.3 C2198.5 383.3 2199.7 389.2 2203.9 389.2 M2197.1 383.3 L2203.3 388.8 M2199.6 387.9 L2202.5 384 M2212.7 383.3 C2209.3 383.3 2208.1 389.2 2203.9 389.2 M2210.7 383.3 L2204.5 388.8 M2208.2 387.9 L2205.3 384 M2219.8 383.3 C2223.2 383.3 2224.4 389.2 2228.6 389.2 M2221.8 383.3 L2228 388.8 M2224.3 387.9 L2227.2 384 M2237.4 383.3 C2234 383.3 2232.8 389.2 2228.6 389.2 M2235.4 383.3 L2229.2 388.8 M2232.9 387.9 L2230 384 M2244.5 383.3 C2247.9 383.3 2249.1 389.2 2253.3 389.2 M2246.5 383.3 L2252.7 388.8 M2249 387.9 L2251.9 384 M2262.1 383.3 C2258.7 383.3 2257.5 389.2 2253.3 389.2 M2260.1 383.3 L2253.9 388.8 M2257.6 387.9 L2254.7 384 M2269.2 383.3 C2272.7 383.3 2273.9 389.2 2278.1 389.2 M2271.2 383.3 L2277.5 388.8 M2273.8 387.9 L2276.7 384 M2286.9 383.3 C2283.5 383.3 2282.2 389.2 2278.1 389.2 M2284.9 383.3 L2278.7 388.8 M2282.4 387.9 L2279.5 384 M2294 383.3 C2297.4 383.3 2298.6 389.2 2302.8 389.2 M2296 383.3 L2302.2 388.8 M2298.5 387.9 L2301.4 384 M2311.6 383.3 C2308.2 383.3 2307 389.2 2302.8 389.2 M2309.6 383.3 L2303.4 388.8 M2307.1 387.9 L2304.2 384 M2318.7 383.3 C2322.1 383.3 2323.3 389.2 2327.5 389.2 M2320.7 383.3 L2326.9 388.8 M2323.2 387.9 L2326.1 384 M2336.3 383.3 C2332.9 383.3 2331.7 389.2 2327.5 389.2 M2334.3 383.3 L2328.1 388.8 M2331.8 387.9 L2328.9 384 M2343.4 383.3 C2346.8 383.3 2348 389.2 2352.2 389.2 M2345.4 383.3 L2351.6 388.8 M2347.9 387.9 L2350.8 384 M2361 383.3 C2357.6 383.3 2356.4 389.2 2352.2 389.2 M2359 383.3 L2352.8 388.8 M2356.5 387.9 L2353.6 384 M2368.2 383.3 C2371.6 383.3 2372.8 389.2 2377 389.2 M2370.2 383.3 L2376.4 388.8 M2372.7 387.9 L2375.6 384 M2385.8 383.3 C2382.4 383.3 2381.2 389.2 2377 389.2 M2383.8 383.3 L2377.6 388.8 M2381.3 387.9 L2378.4 384 M2392.9 383.3 C2396.3 383.3 2397.5 389.2 2401.7 389.2 M2394.9 383.3 L2401.1 388.8 M2397.4 387.9 L2400.3 384" fill="none" stroke="#231f20" stroke-width="0.9"/>
<path d="M2405.7 400.3 L2430.5 400.3 L2430.5 358.8 L2429.2 358.8 L2429.2 330.8 L2430.5 330.8 L2430.5 306.6 L2415.7 306.6 L2414.7 314.2 L2405.7 314.2Z" fill="#f7941d" stroke="#231f20" stroke-width="1.1" stroke-linejoin="miter" />
<path d="M2405.7 383.3 L2430.5 383.3" fill="none" stroke="#231f20" stroke-width="1.0" />
<path d="M2430.5 400.3 L2455.2 400.3 L2455.2 314.2 L2446.2 314.2 L2445.2 306.6 L2430.5 306.6 L2430.5 330.8 L2429.2 330.8 L2429.2 358.8 L2430.5 358.8Z" fill="#f7941d" stroke="#231f20" stroke-width="1.1" stroke-linejoin="miter" />
<path d="M2430.5 383.3 L2455.2 383.3" fill="none" stroke="#231f20" stroke-width="1.0" />
<path d="M2455.2 400.3 L2480 400.3 L2480 358.8 L2478.7 358.8 L2478.7 330.8 L2480 330.8 L2480 306.6 L2465.2 306.6 L2464.2 314.2 L2455.2 314.2Z" fill="#f7941d" stroke="#231f20" stroke-width="1.1" stroke-linejoin="miter" />
<path d="M2455.2 383.3 L2480 383.3" fill="none" stroke="#231f20" stroke-width="1.0" />
<path d="M2480 400.3 L2504.7 400.3 L2504.7 314.2 L2495.7 314.2 L2494.7 306.6 L2480 306.6 L2480 330.8 L2478.7 330.8 L2478.7 358.8 L2480 358.8Z" fill="#f7941d" stroke="#231f20" stroke-width="1.1" stroke-linejoin="miter" />
<path d="M2480 383.3 L2504.7 383.3" fill="none" stroke="#231f20" stroke-width="1.0" />
<path d="M2504.7 400.3 L2529.5 400.3 L2529.5 358.8 L2528.2 358.8 L2528.2 330.8 L2529.5 330.8 L2529.5 306.6 L2514.7 306.6 L2513.7 314.2 L2504.7 314.2Z" fill="#f7941d" stroke="#231f20" stroke-width="1.1" stroke-linejoin="miter" />
<path d="M2504.7 383.3 L2529.5 383.3" fill="none" stroke="#231f20" stroke-width="1.0" />
<path d="M2529.5 400.3 L2554.2 400.3 L2554.2 314.2 L2545.2 314.2 L2544.2 306.6 L2529.5 306.6 L2529.5 330.8 L2528.2 330.8 L2528.2 358.8 L2529.5 358.8Z" fill="#f7941d" stroke="#231f20" stroke-width="1.1" stroke-linejoin="miter" />
<path d="M2529.5 383.3 L2554.2 383.3" fill="none" stroke="#231f20" stroke-width="1.0" />
<path d="M2554.2 400.3 L2579 400.3 L2579 358.8 L2577.7 358.8 L2577.7 330.8 L2579 330.8 L2579 306.6 L2564.2 306.6 L2563.2 314.2 L2554.2 314.2Z" fill="#f7941d" stroke="#231f20" stroke-width="1.1" stroke-linejoin="miter" />
<path d="M2554.2 383.3 L2579 383.3" fill="none" stroke="#231f20" stroke-width="1.0" />
<path d="M2579 400.3 L2603.7 400.3 L2603.7 314.2 L2594.7 314.2 L2593.7 306.6 L2579 306.6 L2579 330.8 L2577.7 330.8 L2577.7 358.8 L2579 358.8Z" fill="#f7941d" stroke="#231f20" stroke-width="1.1" stroke-linejoin="miter" />
<path d="M2579 383.3 L2603.7 383.3" fill="none" stroke="#231f20" stroke-width="1.0" />
<path d="M2603.7 400.3 L2628.5 400.3 L2628.5 358.8 L2627.2 358.8 L2627.2 330.8 L2628.5 330.8 L2628.5 306.6 L2613.7 306.6 L2612.7 314.2 L2603.7 314.2Z" fill="#f7941d" stroke="#231f20" stroke-width="1.1" stroke-linejoin="miter" />
<path d="M2603.7 383.3 L2628.5 383.3" fill="none" stroke="#231f20" stroke-width="1.0" />
<path d="M2628.5 400.3 L2653.2 400.3 L2653.2 314.2 L2644.2 314.2 L2643.2 306.6 L2628.5 306.6 L2628.5 330.8 L2627.2 330.8 L2627.2 358.8 L2628.5 358.8Z" fill="#f7941d" stroke="#231f20" stroke-width="1.1" stroke-linejoin="miter" />
<path d="M2628.5 383.3 L2653.2 383.3" fill="none" stroke="#231f20" stroke-width="1.0" />
<path d="M2653.2 400.3 L2678 400.3 L2678 358.8 L2676.7 358.8 L2676.7 330.8 L2678 330.8 L2678 306.6 L2663.2 306.6 L2662.2 314.2 L2653.2 314.2Z" fill="#f7941d" stroke="#231f20" stroke-width="1.1" stroke-linejoin="miter" />
<path d="M2653.2 383.3 L2678 383.3" fill="none" stroke="#231f20" stroke-width="1.0" />
<path d="M2678 400.3 L2702.7 400.3 L2702.7 314.2 L2693.7 314.2 L2692.7 306.6 L2678 306.6 L2678 330.8 L2676.7 330.8 L2676.7 358.8 L2678 358.8Z" fill="#e86fae" stroke="#231f20" stroke-width="1.1" stroke-linejoin="miter" />
<path d="M2702.7 400.3 L2727.5 400.3 L2727.5 358.8 L2726.2 358.8 L2726.2 330.8 L2727.5 330.8 L2727.5 306.6 L2712.7 306.6 L2711.7 314.2 L2702.7 314.2Z" fill="#e86fae" stroke="#231f20" stroke-width="1.1" stroke-linejoin="miter" />
<path d="M2702.7 383.3 L2727.5 383.3" fill="none" stroke="#231f20" stroke-width="1.0" />
<path d="M2727.5 400.3 L2752.2 400.3 L2752.2 314.2 L2743.2 314.2 L2742.2 306.6 L2727.5 306.6 L2727.5 330.8 L2726.2 330.8 L2726.2 358.8 L2727.5 358.8Z" fill="#e86fae" stroke="#231f20" stroke-width="1.1" stroke-linejoin="miter" />
<path d="M2727.5 383.3 L2752.2 383.3" fill="none" stroke="#231f20" stroke-width="1.0" />
<path d="M2752.2 400.3 L2777 400.3 L2777 306.6 L2762.2 306.6 L2761.2 314.2 L2752.2 314.2Z" fill="#e86fae" stroke="#231f20" stroke-width="1.1" stroke-linejoin="miter" />
<path d="M2752.2 383.3 L2777 383.3" fill="none" stroke="#231f20" stroke-width="1.0" />
<path d="M2414.5 383.3 C2411.1 383.3 2409.9 389.2 2405.7 389.2 M2412.5 383.3 L2406.3 388.8 M2410 387.9 L2407.1 384 M2421.7 383.3 C2425.1 383.3 2426.3 389.2 2430.5 389.2 M2423.7 383.3 L2429.9 388.8 M2426.2 387.9 L2429.1 384 M2439.3 383.3 C2435.9 383.3 2434.7 389.2 2430.5 389.2 M2437.3 383.3 L2431.1 388.8 M2434.8 387.9 L2431.9 384 M2446.4 383.3 C2449.8 383.3 2451 389.2 2455.2 389.2 M2448.4 383.3 L2454.6 388.8 M2450.9 387.9 L2453.8 384 M2464 383.3 C2460.6 383.3 2459.4 389.2 2455.2 389.2 M2462 383.3 L2455.8 388.8 M2459.5 387.9 L2456.6 384 M2471.2 383.3 C2474.6 383.3 2475.8 389.2 2480 389.2 M2473.2 383.3 L2479.4 388.8 M2475.7 387.9 L2478.6 384 M2488.8 383.3 C2485.4 383.3 2484.2 389.2 2480 389.2 M2486.8 383.3 L2480.6 388.8 M2484.3 387.9 L2481.4 384 M2495.9 383.3 C2499.3 383.3 2500.5 389.2 2504.7 389.2 M2497.9 383.3 L2504.1 388.8 M2500.4 387.9 L2503.3 384 M2513.5 383.3 C2510.1 383.3 2508.9 389.2 2504.7 389.2 M2511.5 383.3 L2505.3 388.8 M2509 387.9 L2506.1 384 M2520.7 383.3 C2524.1 383.3 2525.3 389.2 2529.5 389.2 M2522.7 383.3 L2528.9 388.8 M2525.2 387.9 L2528.1 384 M2538.3 383.3 C2534.9 383.3 2533.7 389.2 2529.5 389.2 M2536.3 383.3 L2530.1 388.8 M2533.8 387.9 L2530.9 384 M2545.4 383.3 C2548.8 383.3 2550 389.2 2554.2 389.2 M2547.4 383.3 L2553.6 388.8 M2549.9 387.9 L2552.8 384 M2563 383.3 C2559.6 383.3 2558.4 389.2 2554.2 389.2 M2561 383.3 L2554.8 388.8 M2558.5 387.9 L2555.6 384 M2570.2 383.3 C2573.6 383.3 2574.8 389.2 2579 389.2 M2572.2 383.3 L2578.4 388.8 M2574.7 387.9 L2577.6 384 M2587.8 383.3 C2584.4 383.3 2583.2 389.2 2579 389.2 M2585.8 383.3 L2579.6 388.8 M2583.3 387.9 L2580.4 384 M2594.9 383.3 C2598.3 383.3 2599.5 389.2 2603.7 389.2 M2596.9 383.3 L2603.1 388.8 M2599.4 387.9 L2602.3 384 M2612.5 383.3 C2609.1 383.3 2607.9 389.2 2603.7 389.2 M2610.5 383.3 L2604.3 388.8 M2608 387.9 L2605.1 384 M2619.7 383.3 C2623.1 383.3 2624.3 389.2 2628.5 389.2 M2621.7 383.3 L2627.9 388.8 M2624.2 387.9 L2627.1 384 M2637.3 383.3 C2633.9 383.3 2632.7 389.2 2628.5 389.2 M2635.3 383.3 L2629.1 388.8 M2632.8 387.9 L2629.9 384 M2644.4 383.3 C2647.8 383.3 2649 389.2 2653.2 389.2 M2646.4 383.3 L2652.6 388.8 M2648.9 387.9 L2651.8 384 M2662 383.3 C2658.6 383.3 2657.4 389.2 2653.2 389.2 M2660 383.3 L2653.8 388.8 M2657.5 387.9 L2654.6 384 M2669.2 383.3 C2672.6 383.3 2673.8 389.2 2678 389.2 M2671.2 383.3 L2677.4 388.8 M2673.7 387.9 L2676.6 384" fill="none" stroke="#231f20" stroke-width="0.9"/>
<text transform="translate(186.4 143.3) rotate(90) scale(0.79 1)" font-size="21.7">8335</text>
<text transform="translate(209.6 143.3) rotate(90) scale(0.79 1)" font-size="21.7">8333</text>
<text transform="translate(235 143.3) rotate(90) scale(0.79 1)" font-size="21.7">8331</text>
<rect x="237.7" y="185.2" width="10.7" height="10.7" fill="#231f20"/>
<text transform="translate(263 144.8) rotate(90) scale(0.79 1)" font-size="21.7">8329</text>
<text transform="translate(288.3 144.8) rotate(90) scale(0.79 1)" font-size="21.7">8327</text>
<rect x="291.8" y="186.1" width="9" height="9" fill="none" stroke="#231f20" stroke-width="1.7"/>
<text transform="translate(312.2 144.8) rotate(90) scale(0.79 1)" font-size="21.7">8325</text>
<text transform="translate(337.5 144.8) rotate(90) scale(0.79 1)" font-size="21.7">8323</text>
<rect x="341" y="186.1" width="9" height="9" fill="none" stroke="#231f20" stroke-width="1.7"/>
<text transform="translate(361.4 144.8) rotate(90) scale(0.79 1)" font-size="21.7">8321</text>
<text transform="translate(386.7 144.8) rotate(90) scale(0.79 1)" font-size="21.7">8319</text>
<rect x="390.2" y="186.1" width="9" height="9" fill="none" stroke="#231f20" stroke-width="1.7"/>
<text transform="translate(413.1 144.6) rotate(90) scale(0.79 1)" font-size="21.7">8317</text>
<text transform="translate(438.5 144.5) rotate(90) scale(0.79 1)" font-size="21.7">8315</text>
<rect x="439.1" y="184.2" width="10.7" height="10.7" fill="#231f20"/>
<path d="M452.6 193 L465 193" fill="none" stroke="#231f20" stroke-width="2.3" />
<text transform="translate(462.5 144.4) rotate(90) scale(0.79 1)" font-size="21.7">8313</text>
<text transform="translate(488 144.3) rotate(90) scale(0.79 1)" font-size="21.7">8311</text>
<rect x="490.6" y="184.2" width="10.7" height="10.7" fill="#231f20"/>
<text transform="translate(512 144.2) rotate(90) scale(0.79 1)" font-size="21.7">8309</text>
<text transform="translate(537.4 144.1) rotate(90) scale(0.79 1)" font-size="21.7">8307</text>
<rect x="538" y="184.2" width="10.7" height="10.7" fill="#231f20"/>
<path d="M551.5 193 L564 193" fill="none" stroke="#231f20" stroke-width="2.3" />
<text transform="translate(561.4 144.1) rotate(90) scale(0.79 1)" font-size="21.7">8305</text>
<text transform="translate(586.9 144) rotate(90) scale(0.79 1)" font-size="21.7">8303</text>
<rect x="589.5" y="184.2" width="10.7" height="10.7" fill="#231f20"/>
<text transform="translate(610.9 143.9) rotate(90) scale(0.79 1)" font-size="21.7">8301</text>
<text transform="translate(636.3 143.8) rotate(90) scale(0.79 1)" font-size="21.7">8299</text>
<rect x="637.8" y="185" width="9" height="9" fill="none" stroke="#231f20" stroke-width="1.7"/>
<path d="M650.4 193 L662.9 193" fill="none" stroke="#231f20" stroke-width="2.3" />
<text transform="translate(660.3 143.7) rotate(90) scale(0.79 1)" font-size="21.7">8297</text>
<text transform="translate(685.8 143.6) rotate(90) scale(0.79 1)" font-size="21.7">8295</text>
<rect x="689.2" y="185" width="9" height="9" fill="none" stroke="#231f20" stroke-width="1.7"/>
<text transform="translate(709.8 143.5) rotate(90) scale(0.79 1)" font-size="21.7">8293</text>
<text transform="translate(735.2 143.4) rotate(90) scale(0.79 1)" font-size="21.7">8287</text>
<rect x="736.7" y="185" width="9" height="9" fill="none" stroke="#231f20" stroke-width="1.7"/>
<path d="M749.3 193 L761.8 193" fill="none" stroke="#231f20" stroke-width="2.3" />
<text transform="translate(759.2 143.3) rotate(90) scale(0.79 1)" font-size="21.7">8285</text>
<text transform="translate(784.7 143.2) rotate(90) scale(0.79 1)" font-size="21.7">8283</text>
<rect x="788.1" y="185" width="9" height="9" fill="none" stroke="#231f20" stroke-width="1.7"/>
<text transform="translate(808.7 143.1) rotate(90) scale(0.79 1)" font-size="21.7">8281</text>
<text transform="translate(834.1 143) rotate(90) scale(0.79 1)" font-size="21.7">8279</text>
<rect x="835.6" y="185" width="9" height="9" fill="none" stroke="#231f20" stroke-width="1.7"/>
<path d="M848.2 193 L860.6 193" fill="none" stroke="#231f20" stroke-width="2.3" />
<text transform="translate(858.1 143) rotate(90) scale(0.79 1)" font-size="21.7">8277</text>
<text transform="translate(883.6 142.9) rotate(90) scale(0.79 1)" font-size="21.7">8275</text>
<rect x="886.2" y="184.2" width="10.7" height="10.7" fill="#231f20"/>
<text transform="translate(907.6 142.8) rotate(90) scale(0.79 1)" font-size="21.7">8273</text>
<text transform="translate(933 142.7) rotate(90) scale(0.79 1)" font-size="21.7">8271</text>
<rect x="933.6" y="184.2" width="10.7" height="10.7" fill="#231f20"/>
<path d="M947.1 193 L959.5 193" fill="none" stroke="#231f20" stroke-width="2.3" />
<text transform="translate(957 142.6) rotate(90) scale(0.79 1)" font-size="21.7">8269</text>
<text transform="translate(982.5 142.5) rotate(90) scale(0.79 1)" font-size="21.7">8267</text>
<rect x="985.1" y="184.2" width="10.7" height="10.7" fill="#231f20"/>
<text transform="translate(1010.1 141.1) rotate(90) scale(0.79 1)" font-size="21.7">8265</text>
<rect x="1013.4" y="185.3" width="10.7" height="10.7" fill="#231f20"/>
<text transform="translate(1036.3 141.1) rotate(90) scale(0.79 1)" font-size="21.7">8263</text>
<rect x="1038.9" y="185.3" width="10.7" height="10.7" fill="#231f20"/>
<path d="M1037.2 123.5 L1044.2 118.4 L1051.2 123.5 L1044.2 128.6Z" fill="#231f20"/>
<text transform="translate(1060.7 126.3) rotate(90) scale(0.79 1)" font-size="21.7">8261</text>
<rect x="1064" y="170.7" width="10.7" height="10.7" fill="#231f20"/>
<text transform="translate(1086.1 126.3) rotate(90) scale(0.79 1)" font-size="21.7">8259</text>
<rect x="1089.6" y="171.5" width="9" height="9" fill="none" stroke="#231f20" stroke-width="1.7"/>
<text transform="translate(1110.1 126.3) rotate(90) scale(0.79 1)" font-size="21.7">8257</text>
<rect x="1113.4" y="170.7" width="10.7" height="10.7" fill="#231f20"/>
<text transform="translate(1135.5 126.3) rotate(90) scale(0.79 1)" font-size="21.7">8255</text>
<rect x="1136.9" y="171.5" width="9" height="9" fill="none" stroke="#231f20" stroke-width="1.7"/>
<path d="M1149.6 183.2 L1162 183.2" fill="none" stroke="#231f20" stroke-width="2.3" />
<text transform="translate(1174 124) rotate(90) scale(0.79 1)" font-size="21.7">8253</text>
<rect x="1160.5" y="150.2" width="10.7" height="10.7" fill="#231f20"/>
<g transform="translate(1174.1 175) rotate(0) scale(1.0)" fill="none" stroke="#231f20"><path d="M2.2 -5.9 A7.3 7.3 0 1 0 -5.5 4.8" stroke-width="1.9"/><path d="M8.4 -3.4 L-1.9 -3.4" stroke-width="4.0"/><path d="M-0.2 -4.4 L-0.4 4.0 L-7.5 9.0" stroke-width="3.0" stroke-linejoin="round" stroke-linecap="round"/><path d="M3.7 -2.2 L3.7 3.6" stroke-width="1.5"/><circle cx="12.0" cy="-3.7" r="2.4" fill="#231f20" stroke="none"/></g>
<text transform="translate(1204.8 124) rotate(90) scale(0.79 1)" font-size="21.7">8251</text>
<g transform="translate(1208.7 175) rotate(0) scale(1.0)" fill="none" stroke="#231f20"><path d="M2.2 -5.9 A7.3 7.3 0 1 0 -5.5 4.8" stroke-width="1.9"/><path d="M8.4 -3.4 L-1.9 -3.4" stroke-width="4.0"/><path d="M-0.2 -4.4 L-0.4 4.0 L-7.5 9.0" stroke-width="3.0" stroke-linejoin="round" stroke-linecap="round"/><path d="M3.7 -2.2 L3.7 3.6" stroke-width="1.5"/><circle cx="12.0" cy="-3.7" r="2.4" fill="#231f20" stroke="none"/></g>
<text transform="translate(1248.3 124) rotate(90) scale(0.79 1)" font-size="21.7">8249</text>
<rect x="1235.7" y="151" width="9" height="9" fill="none" stroke="#231f20" stroke-width="1.7"/>
<g transform="translate(1248.4 175) rotate(0) scale(1.0)" fill="none" stroke="#231f20"><path d="M2.2 -5.9 A7.3 7.3 0 1 0 -5.5 4.8" stroke-width="1.9"/><path d="M8.4 -3.4 L-1.9 -3.4" stroke-width="4.0"/><path d="M-0.2 -4.4 L-0.4 4.0 L-7.5 9.0" stroke-width="3.0" stroke-linejoin="round" stroke-linecap="round"/><path d="M3.7 -2.2 L3.7 3.6" stroke-width="1.5"/><circle cx="12.0" cy="-3.7" r="2.4" fill="#231f20" stroke="none"/></g>
<text transform="translate(1279.1 124) rotate(90) scale(0.79 1)" font-size="21.7">8247</text>
<g transform="translate(1283 175) rotate(0) scale(1.0)" fill="none" stroke="#231f20"><path d="M2.2 -5.9 A7.3 7.3 0 1 0 -5.5 4.8" stroke-width="1.9"/><path d="M8.4 -3.4 L-1.9 -3.4" stroke-width="4.0"/><path d="M-0.2 -4.4 L-0.4 4.0 L-7.5 9.0" stroke-width="3.0" stroke-linejoin="round" stroke-linecap="round"/><path d="M3.7 -2.2 L3.7 3.6" stroke-width="1.5"/><circle cx="12.0" cy="-3.7" r="2.4" fill="#231f20" stroke="none"/></g>
<text transform="translate(1308.3 142.4) rotate(90) scale(0.79 1)" font-size="21.7">8245</text>
<path d="M1309.9 123.5 L1316.9 118.4 L1323.9 123.5 L1316.9 128.6Z" fill="#231f20"/>
<text transform="translate(1333.6 142.4) rotate(90) scale(0.79 1)" font-size="21.7">8243</text>
<rect x="1337.1" y="189.1" width="9" height="9" fill="none" stroke="#231f20" stroke-width="1.7"/>
<text transform="translate(1357.6 142.4) rotate(90) scale(0.79 1)" font-size="21.7">8241</text>
<rect x="1360.9" y="188.2" width="10.7" height="10.7" fill="#231f20"/>
<text transform="translate(1383 142.4) rotate(90) scale(0.79 1)" font-size="21.7">8239</text>
<rect x="1386.5" y="189.1" width="9" height="9" fill="none" stroke="#231f20" stroke-width="1.7"/>
<text transform="translate(1411.1 142.4) rotate(90) scale(0.79 1)" font-size="21.7">8237</text>
<text transform="translate(1436.6 142.1) rotate(90) scale(0.79 1)" font-size="21.7">8235</text>
<rect x="1438.1" y="188.8" width="9" height="9" fill="none" stroke="#231f20" stroke-width="1.7"/>
<path d="M1450.8 194.2 L1463.2 194.2" fill="none" stroke="#231f20" stroke-width="2.3" />
<text transform="translate(1460.7 141.9) rotate(90) scale(0.79 1)" font-size="21.7">8233</text>
<text transform="translate(1486.2 141.6) rotate(90) scale(0.79 1)" font-size="21.7">8229</text>
<rect x="1489.6" y="188.1" width="9" height="9" fill="none" stroke="#231f20" stroke-width="1.7"/>
<text transform="translate(1510.2 141.4) rotate(90) scale(0.79 1)" font-size="21.7">8227</text>
<text transform="translate(1535.7 141.1) rotate(90) scale(0.79 1)" font-size="21.7">8225</text>
<rect x="1538.3" y="186.6" width="10.7" height="10.7" fill="#231f20"/>
<text transform="translate(1559.8 140.9) rotate(90) scale(0.79 1)" font-size="21.7">8223</text>
<text transform="translate(1585.3 140.6) rotate(90) scale(0.79 1)" font-size="21.7">8221</text>
<rect x="1587.9" y="186" width="10.7" height="10.7" fill="#231f20"/>
<text transform="translate(1609.4 140.4) rotate(90) scale(0.79 1)" font-size="21.7">8219</text>
<text transform="translate(1634.9 140.1) rotate(90) scale(0.79 1)" font-size="21.7">8217</text>
<rect x="1637.5" y="185.3" width="10.7" height="10.7" fill="#231f20"/>
<text transform="translate(1658.9 139.9) rotate(90) scale(0.79 1)" font-size="21.7">8215</text>
<text transform="translate(1684.4 139.6) rotate(90) scale(0.79 1)" font-size="21.7">8213</text>
<rect x="1685" y="184.7" width="10.7" height="10.7" fill="#231f20"/>
<path d="M1698.6 194.2 L1711 194.2" fill="none" stroke="#231f20" stroke-width="2.3" />
<text transform="translate(1708.5 139.4) rotate(90) scale(0.79 1)" font-size="21.7">8211</text>
<text transform="translate(1734 139.1) rotate(90) scale(0.79 1)" font-size="21.7">8209</text>
<rect x="1736.6" y="184" width="10.7" height="10.7" fill="#231f20"/>
<text transform="translate(1758.1 138.9) rotate(90) scale(0.79 1)" font-size="21.7">8207</text>
<text transform="translate(1783.5 138.6) rotate(90) scale(0.79 1)" font-size="21.7">8205</text>
<rect x="1786.2" y="183.4" width="10.7" height="10.7" fill="#231f20"/>
<text transform="translate(1807.6 138.4) rotate(90) scale(0.79 1)" font-size="21.7">8203</text>
<text transform="translate(1833.1 138.1) rotate(90) scale(0.79 1)" font-size="21.7">8201</text>
<rect x="1835.7" y="182.7" width="10.7" height="10.7" fill="#231f20"/>
<text transform="translate(1857.2 137.9) rotate(90) scale(0.79 1)" font-size="21.7">8199</text>
<text transform="translate(1882.7 137.6) rotate(90) scale(0.79 1)" font-size="21.7">8197</text>
<rect x="1884.1" y="182.9" width="9" height="9" fill="none" stroke="#231f20" stroke-width="1.7"/>
<path d="M1896.8 194.2 L1909.2 194.2" fill="none" stroke="#231f20" stroke-width="2.3" />
<text transform="translate(1906.8 137.4) rotate(90) scale(0.79 1)" font-size="21.7">8195</text>
<text transform="translate(1932.2 137.1) rotate(90) scale(0.79 1)" font-size="21.7">8193</text>
<rect x="1934.9" y="181.5" width="10.7" height="10.7" fill="#231f20"/>
<text transform="translate(1959.5 135.8) rotate(90) scale(0.79 1)" font-size="21.7">8191</text>
<text transform="translate(1985 135.9) rotate(90) scale(0.79 1)" font-size="21.7">8189</text>
<rect x="1985.6" y="182.1" width="10.7" height="10.7" fill="#231f20"/>
<path d="M1999.1 195.2 L2011.5 195.2" fill="none" stroke="#231f20" stroke-width="2.3" />
<text transform="translate(2009.1 136) rotate(90) scale(0.79 1)" font-size="21.7">8187</text>
<text transform="translate(2034.5 136.1) rotate(90) scale(0.79 1)" font-size="21.7">8181</text>
<rect x="2037.2" y="182.7" width="10.7" height="10.7" fill="#231f20"/>
<text transform="translate(2058.6 136.2) rotate(90) scale(0.79 1)" font-size="21.7">8179</text>
<text transform="translate(2084.1 136.3) rotate(90) scale(0.79 1)" font-size="21.7">8177</text>
<rect x="2087.6" y="184.1" width="9" height="9" fill="none" stroke="#231f20" stroke-width="1.7"/>
<text transform="translate(2108.2 136.4) rotate(90) scale(0.79 1)" font-size="21.7">8175</text>
<text transform="translate(2133.6 136.5) rotate(90) scale(0.79 1)" font-size="21.7">8173</text>
<rect x="2137.1" y="184.7" width="9" height="9" fill="none" stroke="#231f20" stroke-width="1.7"/>
<path d="M2134.6 123.5 L2141.6 118.4 L2148.6 123.5 L2141.6 128.6Z" fill="#231f20"/>
<text transform="translate(2157.7 125) rotate(90) scale(0.79 1)" font-size="21.7">8171</text>
<text transform="translate(2183 125) rotate(90) scale(0.79 1)" font-size="21.7">8169</text>
<rect x="2183.7" y="171.2" width="10.7" height="10.7" fill="#231f20"/>
<path d="M2197.1 180.4 L2209.5 180.4" fill="none" stroke="#231f20" stroke-width="2.3" />
<text transform="translate(2207 125) rotate(90) scale(0.79 1)" font-size="21.7">8167</text>
<text transform="translate(2232.4 125) rotate(90) scale(0.79 1)" font-size="21.7">8165</text>
<rect x="2235.8" y="172" width="9" height="9" fill="none" stroke="#231f20" stroke-width="1.7"/>
<text transform="translate(2256.3 125) rotate(90) scale(0.79 1)" font-size="21.7">8163</text>
<text transform="translate(2281.7 125) rotate(90) scale(0.79 1)" font-size="21.7">8161</text>
<rect x="2285.2" y="172" width="9" height="9" fill="none" stroke="#231f20" stroke-width="1.7"/>
<text transform="translate(2305.7 125) rotate(90) scale(0.79 1)" font-size="21.7">8159</text>
<text transform="translate(2331.1 125) rotate(90) scale(0.79 1)" font-size="21.7">8157</text>
<rect x="2334.5" y="172" width="9" height="9" fill="none" stroke="#231f20" stroke-width="1.7"/>
<text transform="translate(2355 125) rotate(90) scale(0.79 1)" font-size="21.7">8155</text>
<text transform="translate(2380.4 125) rotate(90) scale(0.79 1)" font-size="21.7">8153</text>
<rect x="2383.9" y="172" width="9" height="9" fill="none" stroke="#231f20" stroke-width="1.7"/>
<text transform="translate(2408.5 126.5) rotate(90) scale(0.79 1)" font-size="21.7">8151</text>
<text transform="translate(2434 126.5) rotate(90) scale(0.79 1)" font-size="21.7">8149</text>
<rect x="2435.5" y="171.9" width="9" height="9" fill="none" stroke="#231f20" stroke-width="1.7"/>
<path d="M2448.2 181 L2460.6 181" fill="none" stroke="#231f20" stroke-width="2.3" />
<text transform="translate(2458.1 126.5) rotate(90) scale(0.79 1)" font-size="21.7">8147</text>
<text transform="translate(2483.7 126.5) rotate(90) scale(0.79 1)" font-size="21.7">8145</text>
<rect x="2487.1" y="171.9" width="9" height="9" fill="none" stroke="#231f20" stroke-width="1.7"/>
<text transform="translate(2507.8 126.5) rotate(90) scale(0.79 1)" font-size="21.7">8143</text>
<text transform="translate(2533.4 126.5) rotate(90) scale(0.79 1)" font-size="21.7">8141</text>
<rect x="2536" y="171.1" width="10.7" height="10.7" fill="#231f20"/>
<text transform="translate(2557.5 126.5) rotate(90) scale(0.79 1)" font-size="21.7">8139</text>
<text transform="translate(2583 126.5) rotate(90) scale(0.79 1)" font-size="21.7">8133</text>
<rect x="2585.7" y="171.1" width="10.7" height="10.7" fill="#231f20"/>
<text transform="translate(2607.2 126.5) rotate(90) scale(0.79 1)" font-size="21.7">8131</text>
<text transform="translate(2632.7 126.5) rotate(90) scale(0.79 1)" font-size="21.7">8129</text>
<rect x="2635.3" y="171.1" width="10.7" height="10.7" fill="#231f20"/>
<text transform="translate(2656.9 126.5) rotate(90) scale(0.79 1)" font-size="21.7">8127</text>
<text transform="translate(2682.4 126.5) rotate(90) scale(0.79 1)" font-size="21.7">8125</text>
<rect x="2685.9" y="171.9" width="9" height="9" fill="none" stroke="#231f20" stroke-width="1.7"/>
<text transform="translate(2706.5 126.5) rotate(90) scale(0.79 1)" font-size="21.7">8123</text>
<path d="M2708.2 109.9 L2715.2 104.8 L2722.2 109.9 L2715.2 115Z" fill="#231f20"/>
<text transform="translate(2732.1 126.5) rotate(90) scale(0.79 1)" font-size="21.7">8113</text>
<rect x="2734.7" y="171.1" width="10.7" height="10.7" fill="#231f20"/>
<path d="M2733 109.9 L2740 104.8 L2747 109.9 L2740 115Z" fill="#231f20"/>
<text transform="translate(2756.2 126.5) rotate(90) scale(0.79 1)" font-size="21.7">8111</text>
<path d="M2757.9 109.9 L2764.9 104.8 L2771.9 109.9 L2764.9 115Z" fill="#231f20"/>
<text transform="translate(185.8 312.3) rotate(90) scale(0.79 1)" font-size="21.7">8328</text>
<path d="M187.5 379.1 L194.5 373.9 L201.5 379.1 L194.5 384.2Z" fill="#231f20"/>
<text transform="translate(209.6 312.3) rotate(90) scale(0.79 1)" font-size="21.7">8326</text>
<path d="M211.3 379.1 L218.3 373.9 L225.3 379.1 L218.3 384.2Z" fill="#231f20"/>
<text transform="translate(235 312.3) rotate(90) scale(0.79 1)" font-size="21.7">8324</text>
<text transform="translate(263 312.3) rotate(90) scale(0.79 1)" font-size="21.7">8322</text>
<rect x="267.2" y="355.5" width="9" height="9" fill="none" stroke="#231f20" stroke-width="1.7"/>
<text transform="translate(288.3 312.3) rotate(90) scale(0.79 1)" font-size="21.7">8320</text>
<text transform="translate(312.1 312.3) rotate(90) scale(0.79 1)" font-size="21.7">8318</text>
<rect x="316.3" y="355.5" width="9" height="9" fill="none" stroke="#231f20" stroke-width="1.7"/>
<text transform="translate(337.4 312.3) rotate(90) scale(0.79 1)" font-size="21.7">8316</text>
<text transform="translate(361.2 312.3) rotate(90) scale(0.79 1)" font-size="21.7">8314</text>
<rect x="365.4" y="355.5" width="9" height="9" fill="none" stroke="#231f20" stroke-width="1.7"/>
<text transform="translate(386.5 312.3) rotate(90) scale(0.79 1)" font-size="21.7">8312</text>
<text transform="translate(413.4 312.3) rotate(90) scale(0.79 1)" font-size="21.7">8310</text>
<rect x="416.7" y="354.6" width="10.7" height="10.7" fill="#231f20"/>
<text transform="translate(438.8 312.3) rotate(90) scale(0.79 1)" font-size="21.7">8308</text>
<path d="M453 366.5 L465.4 366.5" fill="none" stroke="#231f20" stroke-width="2.3" />
<text transform="translate(462.9 311.1) rotate(90) scale(0.79 1)" font-size="21.7">8306</text>
<rect x="468.2" y="352.6" width="10.7" height="10.7" fill="#231f20"/>
<text transform="translate(488.3 312.3) rotate(90) scale(0.79 1)" font-size="21.7">8304</text>
<text transform="translate(512.3 312.3) rotate(90) scale(0.79 1)" font-size="21.7">8302</text>
<rect x="515.6" y="354.6" width="10.7" height="10.7" fill="#231f20"/>
<text transform="translate(537.7 312.3) rotate(90) scale(0.79 1)" font-size="21.7">8300</text>
<path d="M551.9 366.5 L564.3 366.5" fill="none" stroke="#231f20" stroke-width="2.3" />
<text transform="translate(561.8 311.1) rotate(90) scale(0.79 1)" font-size="21.7">8298</text>
<rect x="567.1" y="352.6" width="10.7" height="10.7" fill="#231f20"/>
<text transform="translate(587.2 312.3) rotate(90) scale(0.79 1)" font-size="21.7">8296</text>
<text transform="translate(611.2 312.3) rotate(90) scale(0.79 1)" font-size="21.7">8294</text>
<rect x="615.4" y="355.5" width="9" height="9" fill="none" stroke="#231f20" stroke-width="1.7"/>
<text transform="translate(636.7 312.3) rotate(90) scale(0.79 1)" font-size="21.7">8292</text>
<path d="M650.8 366.5 L663.2 366.5" fill="none" stroke="#231f20" stroke-width="2.3" />
<text transform="translate(660.7 311.1) rotate(90) scale(0.79 1)" font-size="21.7">8290</text>
<rect x="666.9" y="353.5" width="9" height="9" fill="none" stroke="#231f20" stroke-width="1.7"/>
<text transform="translate(686.1 312.3) rotate(90) scale(0.79 1)" font-size="21.7">8288</text>
<text transform="translate(710.1 312.3) rotate(90) scale(0.79 1)" font-size="21.7">8286</text>
<rect x="714.3" y="355.5" width="9" height="9" fill="none" stroke="#231f20" stroke-width="1.7"/>
<text transform="translate(735.6 312.3) rotate(90) scale(0.79 1)" font-size="21.7">8280</text>
<text transform="translate(759.6 312.3) rotate(90) scale(0.79 1)" font-size="21.7">8278</text>
<rect x="763.8" y="355.5" width="9" height="9" fill="none" stroke="#231f20" stroke-width="1.7"/>
<text transform="translate(785 312.3) rotate(90) scale(0.79 1)" font-size="21.7">8276</text>
<text transform="translate(809.1 312.3) rotate(90) scale(0.79 1)" font-size="21.7">8274</text>
<rect x="813.2" y="355.5" width="9" height="9" fill="none" stroke="#231f20" stroke-width="1.7"/>
<text transform="translate(834.5 312.3) rotate(90) scale(0.79 1)" font-size="21.7">8272</text>
<path d="M848.6 366.5 L861 366.5" fill="none" stroke="#231f20" stroke-width="2.3" />
<text transform="translate(858.5 311.1) rotate(90) scale(0.79 1)" font-size="21.7">8270</text>
<rect x="863.8" y="352.6" width="10.7" height="10.7" fill="#231f20"/>
<text transform="translate(884 312.3) rotate(90) scale(0.79 1)" font-size="21.7">8268</text>
<text transform="translate(908 312.3) rotate(90) scale(0.79 1)" font-size="21.7">8266</text>
<rect x="911.3" y="354.6" width="10.7" height="10.7" fill="#231f20"/>
<text transform="translate(933.4 312.3) rotate(90) scale(0.79 1)" font-size="21.7">8264</text>
<path d="M947.5 366.5 L959.9 366.5" fill="none" stroke="#231f20" stroke-width="2.3" />
<text transform="translate(957.4 311.1) rotate(90) scale(0.79 1)" font-size="21.7">8262</text>
<rect x="962.8" y="352.6" width="10.7" height="10.7" fill="#231f20"/>
<text transform="translate(982.9 312.3) rotate(90) scale(0.79 1)" font-size="21.7">8260</text>
<text transform="translate(1010.9 313) rotate(90) scale(0.79 1)" font-size="21.7">8258</text>
<rect x="1014.2" y="356.5" width="10.7" height="10.7" fill="#231f20"/>
<text transform="translate(1036.8 313) rotate(90) scale(0.79 1)" font-size="21.7">8256</text>
<path d="M1037.8 379.1 L1044.8 373.9 L1051.8 379.1 L1044.8 384.2Z" fill="#231f20"/>
<text transform="translate(1061 319.5) rotate(90) scale(0.79 1)" font-size="21.7">8254</text>
<rect x="1064.3" y="366.8" width="10.7" height="10.7" fill="#231f20"/>
<text transform="translate(1086.3 319.5) rotate(90) scale(0.79 1)" font-size="21.7">8252</text>
<rect x="1088.9" y="366.8" width="10.7" height="10.7" fill="#231f20"/>
<text transform="translate(1110.2 319.5) rotate(90) scale(0.79 1)" font-size="21.7">8250</text>
<rect x="1114.3" y="367.6" width="9" height="9" fill="none" stroke="#231f20" stroke-width="1.7"/>
<text transform="translate(1135.4 319.5) rotate(90) scale(0.79 1)" font-size="21.7">8248</text>
<rect x="1138.1" y="366.8" width="10.7" height="10.7" fill="#231f20"/>
<path d="M1149.5 379.7 L1161.9 379.7" fill="none" stroke="#231f20" stroke-width="2.3" />
<text transform="translate(1174 316.2) rotate(90) scale(0.79 1)" font-size="21.7">8246</text>
<rect x="1160.5" y="342.3" width="10.7" height="10.7" fill="#231f20"/>
<g transform="translate(1174.1 367.2) rotate(0) scale(1.0)" fill="none" stroke="#231f20"><path d="M2.2 -5.9 A7.3 7.3 0 1 0 -5.5 4.8" stroke-width="1.9"/><path d="M8.4 -3.4 L-1.9 -3.4" stroke-width="4.0"/><path d="M-0.2 -4.4 L-0.4 4.0 L-7.5 9.0" stroke-width="3.0" stroke-linejoin="round" stroke-linecap="round"/><path d="M3.7 -2.2 L3.7 3.6" stroke-width="1.5"/><circle cx="12.0" cy="-3.7" r="2.4" fill="#231f20" stroke="none"/></g>
<text transform="translate(1204.9 316.2) rotate(90) scale(0.79 1)" font-size="21.7">8244</text>
<g transform="translate(1208.9 367.2) rotate(0) scale(1.0)" fill="none" stroke="#231f20"><path d="M2.2 -5.9 A7.3 7.3 0 1 0 -5.5 4.8" stroke-width="1.9"/><path d="M8.4 -3.4 L-1.9 -3.4" stroke-width="4.0"/><path d="M-0.2 -4.4 L-0.4 4.0 L-7.5 9.0" stroke-width="3.0" stroke-linejoin="round" stroke-linecap="round"/><path d="M3.7 -2.2 L3.7 3.6" stroke-width="1.5"/><circle cx="12.0" cy="-3.7" r="2.4" fill="#231f20" stroke="none"/></g>
<text transform="translate(1248.6 316.2) rotate(90) scale(0.79 1)" font-size="21.7">8242</text>
<rect x="1236" y="343.2" width="9" height="9" fill="none" stroke="#231f20" stroke-width="1.7"/>
<g transform="translate(1248.7 367.2) rotate(0) scale(1.0)" fill="none" stroke="#231f20"><path d="M2.2 -5.9 A7.3 7.3 0 1 0 -5.5 4.8" stroke-width="1.9"/><path d="M8.4 -3.4 L-1.9 -3.4" stroke-width="4.0"/><path d="M-0.2 -4.4 L-0.4 4.0 L-7.5 9.0" stroke-width="3.0" stroke-linejoin="round" stroke-linecap="round"/><path d="M3.7 -2.2 L3.7 3.6" stroke-width="1.5"/><circle cx="12.0" cy="-3.7" r="2.4" fill="#231f20" stroke="none"/></g>
<text transform="translate(1279.6 316.2) rotate(90) scale(0.79 1)" font-size="21.7">8240</text>
<g transform="translate(1283.5 367.2) rotate(0) scale(1.0)" fill="none" stroke="#231f20"><path d="M2.2 -5.9 A7.3 7.3 0 1 0 -5.5 4.8" stroke-width="1.9"/><path d="M8.4 -3.4 L-1.9 -3.4" stroke-width="4.0"/><path d="M-0.2 -4.4 L-0.4 4.0 L-7.5 9.0" stroke-width="3.0" stroke-linejoin="round" stroke-linecap="round"/><path d="M3.7 -2.2 L3.7 3.6" stroke-width="1.5"/><circle cx="12.0" cy="-3.7" r="2.4" fill="#231f20" stroke="none"/></g>
<text transform="translate(1308.7 311.4) rotate(90) scale(0.79 1)" font-size="21.7">8238</text>
<rect x="1312.9" y="354.3" width="9" height="9" fill="none" stroke="#231f20" stroke-width="1.7"/>
<path d="M1310.4 379.1 L1317.4 373.9 L1324.4 379.1 L1317.4 384.2Z" fill="#231f20"/>
<text transform="translate(1334.2 311.4) rotate(90) scale(0.79 1)" font-size="21.7">8236</text>
<rect x="1336.8" y="353.4" width="10.7" height="10.7" fill="#231f20"/>
<text transform="translate(1358.2 311.4) rotate(90) scale(0.79 1)" font-size="21.7">8234</text>
<rect x="1362.4" y="354.3" width="9" height="9" fill="none" stroke="#231f20" stroke-width="1.7"/>
<text transform="translate(1383.7 311.4) rotate(90) scale(0.79 1)" font-size="21.7">8232</text>
<rect x="1386.3" y="353.4" width="10.7" height="10.7" fill="#231f20"/>
<text transform="translate(1411.5 311.4) rotate(90) scale(0.79 1)" font-size="21.7">8230</text>
<rect x="1414.8" y="353.4" width="10.7" height="10.7" fill="#231f20"/>
<text transform="translate(1437 311.4) rotate(90) scale(0.79 1)" font-size="21.7">8228</text>
<text transform="translate(1461.1 311.4) rotate(90) scale(0.79 1)" font-size="21.7">8226</text>
<rect x="1465.3" y="354.3" width="9" height="9" fill="none" stroke="#231f20" stroke-width="1.7"/>
<text transform="translate(1486.6 311.4) rotate(90) scale(0.79 1)" font-size="21.7">8222</text>
<text transform="translate(1659 312.3) rotate(90) scale(0.79 1)" font-size="21.7">8208</text>
<rect x="1663.2" y="355.5" width="9" height="9" fill="none" stroke="#231f20" stroke-width="1.7"/>
<text transform="translate(1684.4 312.3) rotate(90) scale(0.79 1)" font-size="21.7">8206</text>
<text transform="translate(1708.5 312.3) rotate(90) scale(0.79 1)" font-size="21.7">8204</text>
<rect x="1711.8" y="354.6" width="10.7" height="10.7" fill="#231f20"/>
<text transform="translate(1733.9 312.3) rotate(90) scale(0.79 1)" font-size="21.7">8200</text>
<path d="M1748.1 366.5 L1760.5 366.5" fill="none" stroke="#231f20" stroke-width="2.3" />
<text transform="translate(1758 311.1) rotate(90) scale(0.79 1)" font-size="21.7">8198</text>
<rect x="1763.3" y="352.6" width="10.7" height="10.7" fill="#231f20"/>
<text transform="translate(1783.4 312.3) rotate(90) scale(0.79 1)" font-size="21.7">8196</text>
<text transform="translate(1807.5 312.3) rotate(90) scale(0.79 1)" font-size="21.7">8194</text>
<rect x="1810.8" y="354.6" width="10.7" height="10.7" fill="#231f20"/>
<text transform="translate(1832.9 312.3) rotate(90) scale(0.79 1)" font-size="21.7">8192</text>
<text transform="translate(1856.9 312.3) rotate(90) scale(0.79 1)" font-size="21.7">8190</text>
<rect x="1860.3" y="354.6" width="10.7" height="10.7" fill="#231f20"/>
<text transform="translate(1882.4 312.3) rotate(90) scale(0.79 1)" font-size="21.7">8188</text>
<text transform="translate(1906.4 312.3) rotate(90) scale(0.79 1)" font-size="21.7">8186</text>
<rect x="1910.6" y="355.5" width="9" height="9" fill="none" stroke="#231f20" stroke-width="1.7"/>
<text transform="translate(1931.9 312.3) rotate(90) scale(0.79 1)" font-size="21.7">8184</text>
<text transform="translate(1959.4 312.3) rotate(90) scale(0.79 1)" font-size="21.7">8182</text>
<rect x="1963.5" y="355.5" width="9" height="9" fill="none" stroke="#231f20" stroke-width="1.7"/>
<text transform="translate(1984.9 311.8) rotate(90) scale(0.79 1)" font-size="21.7">8180</text>
<path d="M1999.1 366.5 L2011.5 366.5" fill="none" stroke="#231f20" stroke-width="2.3" />
<text transform="translate(2009.1 310) rotate(90) scale(0.79 1)" font-size="21.7">8178</text>
<rect x="2014.4" y="352.6" width="10.7" height="10.7" fill="#231f20"/>
<text transform="translate(2034.6 310.7) rotate(90) scale(0.79 1)" font-size="21.7">8172</text>
<text transform="translate(2058.8 310.1) rotate(90) scale(0.79 1)" font-size="21.7">8170</text>
<rect x="2062.1" y="354.6" width="10.7" height="10.7" fill="#231f20"/>
<text transform="translate(2084.3 309.6) rotate(90) scale(0.79 1)" font-size="21.7">8168</text>
<text transform="translate(2108.5 309) rotate(90) scale(0.79 1)" font-size="21.7">8166</text>
<rect x="2112.6" y="355.5" width="9" height="9" fill="none" stroke="#231f20" stroke-width="1.7"/>
<text transform="translate(2134 308.5) rotate(90) scale(0.79 1)" font-size="21.7">8164</text>
<path d="M2135 379.1 L2142 373.9 L2149 379.1 L2142 384.2Z" fill="#231f20"/>
<text transform="translate(2158.1 319) rotate(90) scale(0.79 1)" font-size="21.7">8162</text>
<rect x="2161.4" y="366.6" width="10.7" height="10.7" fill="#231f20"/>
<text transform="translate(2183.5 319) rotate(90) scale(0.79 1)" font-size="21.7">8160</text>
<path d="M2197.7 377.8 L2210.1 377.8" fill="none" stroke="#231f20" stroke-width="2.3" />
<text transform="translate(2207.6 317.8) rotate(90) scale(0.79 1)" font-size="21.7">8158</text>
<rect x="2213.7" y="365.5" width="9" height="9" fill="none" stroke="#231f20" stroke-width="1.7"/>
<text transform="translate(2233 319) rotate(90) scale(0.79 1)" font-size="21.7">8156</text>
<text transform="translate(2257 319) rotate(90) scale(0.79 1)" font-size="21.7">8154</text>
<rect x="2261.2" y="367.5" width="9" height="9" fill="none" stroke="#231f20" stroke-width="1.7"/>
<text transform="translate(2282.4 319) rotate(90) scale(0.79 1)" font-size="21.7">8152</text>
<text transform="translate(2306.5 319) rotate(90) scale(0.79 1)" font-size="21.7">8150</text>
<rect x="2310.6" y="367.5" width="9" height="9" fill="none" stroke="#231f20" stroke-width="1.7"/>
<text transform="translate(2331.9 319) rotate(90) scale(0.79 1)" font-size="21.7">8148</text>
<text transform="translate(2355.9 319) rotate(90) scale(0.79 1)" font-size="21.7">8146</text>
<rect x="2360.1" y="367.5" width="9" height="9" fill="none" stroke="#231f20" stroke-width="1.7"/>
<text transform="translate(2381.4 319) rotate(90) scale(0.79 1)" font-size="21.7">8144</text>
<text transform="translate(2409.4 319) rotate(90) scale(0.79 1)" font-size="21.7">8142</text>
<rect x="2412.7" y="366.6" width="10.7" height="10.7" fill="#231f20"/>
<text transform="translate(2434.9 319) rotate(90) scale(0.79 1)" font-size="21.7">8140</text>
<path d="M2449 377.8 L2461.4 377.8" fill="none" stroke="#231f20" stroke-width="2.3" />
<text transform="translate(2458.9 317.8) rotate(90) scale(0.79 1)" font-size="21.7">8138</text>
<rect x="2465.1" y="365.5" width="9" height="9" fill="none" stroke="#231f20" stroke-width="1.7"/>
<text transform="translate(2484.4 319) rotate(90) scale(0.79 1)" font-size="21.7">8136</text>
<text transform="translate(2508.4 319) rotate(90) scale(0.79 1)" font-size="21.7">8134</text>
<rect x="2511.7" y="366.6" width="10.7" height="10.7" fill="#231f20"/>
<text transform="translate(2533.9 319) rotate(90) scale(0.79 1)" font-size="21.7">8132</text>
<text transform="translate(2557.9 319) rotate(90) scale(0.79 1)" font-size="21.7">8130</text>
<rect x="2562.1" y="367.5" width="9" height="9" fill="none" stroke="#231f20" stroke-width="1.7"/>
<text transform="translate(2583.4 319) rotate(90) scale(0.79 1)" font-size="21.7">8126</text>
<text transform="translate(2607.4 319) rotate(90) scale(0.79 1)" font-size="21.7">8124</text>
<rect x="2610.8" y="366.6" width="10.7" height="10.7" fill="#231f20"/>
<text transform="translate(2632.9 319) rotate(90) scale(0.79 1)" font-size="21.7">8122</text>
<text transform="translate(2656.9 319) rotate(90) scale(0.79 1)" font-size="21.7">8120</text>
<rect x="2660.3" y="366.6" width="10.7" height="10.7" fill="#231f20"/>
<text transform="translate(2682.4 319) rotate(90) scale(0.79 1)" font-size="21.7">8118</text>
<text transform="translate(2706.4 319) rotate(90) scale(0.79 1)" font-size="21.7">8116</text>
<rect x="2709.8" y="366.6" width="10.7" height="10.7" fill="#231f20"/>
<path d="M2708.1 391.5 L2715.1 386.4 L2722.1 391.5 L2715.1 396.6Z" fill="#231f20"/>
<text transform="translate(2731.9 319) rotate(90) scale(0.79 1)" font-size="21.7">8110</text>
<path d="M2732.9 391.5 L2739.9 386.4 L2746.9 391.5 L2739.9 396.6Z" fill="#231f20"/>
<text transform="translate(2756 319) rotate(90) scale(0.79 1)" font-size="21.7">8108</text>
<path d="M2757.6 391.5 L2764.6 386.4 L2771.6 391.5 L2764.6 396.6Z" fill="#231f20"/>
<clipPath id="hullclip"><path d="M37.6 251.5 C37.8 248.2 38 238.6 38.6 232 C39.2 225.4 40.2 218.7 41.5 212 C42.8 205.3 44.2 199.5 46.5 192 C48.8 184.5 52.4 174.3 55.2 167.1 C58.1 159.9 60.8 154.6 63.6 148.7 C66.4 142.8 69.5 136.7 72 131.9 C74.5 127.1 76.9 122.6 78.7 120.1 C80.5 117.5 81.1 117.4 82.8 116.6 C84.5 115.8 86.5 115.5 88.7 115.3 C90.9 115.1 93.5 115.3 96 115.3 C98.5 115.3 102.7 115.3 104 115.3 L1057 115.3 L1057 102.7 L1304.4 102.7 L1304.4 115.3 L2154 115.3 L2154 102.7 L2800 102.7 C2803.7 102.7 2815 102.1 2822 102.7 C2829 103.3 2836.3 104.7 2842 106.2 C2847.7 107.7 2851.3 109 2856 111.8 C2860.7 114.6 2865.8 118.8 2870 123 C2874.2 127.2 2877.3 132.8 2881 137 C2884.7 141.2 2887.1 143.7 2892.2 148.1 C2897.3 152.5 2906.2 158.8 2911.8 163.5 C2917.4 168.2 2921.2 171.3 2925.8 176 C2930.5 180.7 2935.7 186.4 2939.7 191.4 C2943.7 196.4 2948.3 203.7 2950 206.2 L2956.5 210.2 C2961 237 2961 266 2956.5 292.8 L2950 296.8 C2948.3 299.3 2943.7 306.6 2939.7 311.6 C2935.7 316.6 2930.5 322.4 2925.8 327 C2921.2 331.6 2917.4 334.9 2911.8 339.5 C2906.2 344.1 2897.3 350.5 2892.2 354.9 C2887.1 359.3 2884.7 361.8 2881 366 C2877.3 370.2 2874.2 375.8 2870 380 C2865.8 384.2 2860.7 388.4 2856 391.2 C2851.3 394 2847.7 395.3 2842 396.8 C2836.3 398.3 2829 399.7 2822 400.3 C2815 400.9 2803.7 400.3 2800 400.3 L2154.9 400.3 L2154.9 387.7 L1655.4 387.7 L1655.4 426.6 L1507.2 426.6 L1507.2 387.7 L1305.2 387.7 L1305.2 400.3 L1056.5 400.3 L1056.5 387.7 L104 387.7 C102.7 387.7 98.5 387.7 96 387.7 C93.5 387.7 90.9 387.9 88.7 387.7 C86.5 387.5 84.5 387.2 82.8 386.4 C81.1 385.6 80.5 385.4 78.7 382.9 C76.9 380.3 74.5 375.9 72 371.1 C69.5 366.3 66.4 360.2 63.6 354.3 C60.8 348.4 58.1 343.1 55.2 335.9 C52.4 328.7 48.8 318.5 46.5 311 C44.2 303.5 42.8 297.7 41.5 291 C40.2 284.3 39.2 277.6 38.6 271 C38 264.4 37.8 254.8 37.6 251.5 Z"/></clipPath>
<g clip-path="url(#hullclip)">
<path d="M20 135.4 L182.4 135.4 L182.4 159.5 L161.5 159.5 L161.5 169.8 L20 169.8Z" fill="#b0e1f9" stroke="#231f20" stroke-width="0.9" stroke-linejoin="miter" />
<path d="M100.4 135.4 L100.4 169.8" fill="none" stroke="#231f20" stroke-width="0.9" />
<path d="M20 169.8 L161.5 169.8 L161.5 178.6 L169.6 178.6 L169.6 211.5 L161.5 213 L161.5 220.8 L20 220.8Z" fill="#e9434a" stroke="#231f20" stroke-width="0.9" stroke-linejoin="miter" />
<path d="M20 196.5 L98 196.5 L99 195.3 L124 195.3 L125 196.5 L169.6 196.5" fill="none" stroke="#231f20" stroke-width="0.9" />
<path d="M81.1 169.8 L81.1 220.8" fill="none" stroke="#231f20" stroke-width="0.9" />
<path d="M20 227.3 L156.7 227.3 L156.7 235.4 L164.7 236.5 L164.7 268 L156.7 269.2 L156.7 277.2 L20 277.2Z" fill="#e9434a" stroke="#231f20" stroke-width="0.9" stroke-linejoin="miter" />
<path d="M20 252.4 L92 252.4 L93 251.2 L118 251.2 L119 252.4 L164.7 252.4" fill="none" stroke="#231f20" stroke-width="0.9" />
<path d="M75.3 227.3 L75.3 277.2" fill="none" stroke="#231f20" stroke-width="0.9" />
<path d="M20 283.5 L161.5 283.5 L161.5 291.3 L169.6 292.8 L169.6 325.5 L161.5 325.5 L161.5 333.7 L20 333.7Z" fill="#e9434a" stroke="#231f20" stroke-width="0.9" stroke-linejoin="miter" />
<path d="M20 309.2 L98 309.2 L99 310.4 L124 310.4 L125 309.2 L169.6 309.2" fill="none" stroke="#231f20" stroke-width="0.9" />
<path d="M81.1 283.5 L81.1 333.7" fill="none" stroke="#231f20" stroke-width="0.9" />
<path d="M20 333.7 L161.5 333.7 L161.5 344.6 L182.4 344.6 L182.4 368.1 L20 368.1Z" fill="#b0e1f9" stroke="#231f20" stroke-width="0.9" stroke-linejoin="miter" />
<path d="M100.4 333.7 L100.4 368.1" fill="none" stroke="#231f20" stroke-width="0.9" />
</g>
<text transform="translate(106.2 159.5) scale(0.795 1)" font-size="21.7" text-anchor="start">8337</text>
<text transform="translate(94 187.5) scale(0.795 1)" font-size="21.7" text-anchor="start">8339</text>
<text transform="translate(94 215.8) scale(0.795 1)" font-size="21.7" text-anchor="start">8341</text>
<text transform="translate(85.3 246) scale(0.795 1)" font-size="21.7" text-anchor="start">8343</text>
<rect x="135.7" y="234.2" width="8.7" height="8.7" fill="none" stroke="#231f20" stroke-width="1.7"/>
<text transform="translate(85.3 270.1) scale(0.795 1)" font-size="21.7" text-anchor="start">8336</text>
<text transform="translate(94 301.3) scale(0.795 1)" font-size="21.7" text-anchor="start">8334</text>
<rect x="143.3" y="289.5" width="8.7" height="8.7" fill="none" stroke="#231f20" stroke-width="1.7"/>
<text transform="translate(94 328.7) scale(0.795 1)" font-size="21.7" text-anchor="start">8332</text>
<text transform="translate(106.2 358.5) scale(0.795 1)" font-size="21.7" text-anchor="start">8330</text>
<path d="M149.6 164.3 L149.6 175.6" fill="none" stroke="#231f20" stroke-width="2.7" />
<path d="M148.9 327.9 L148.9 339.2" fill="none" stroke="#231f20" stroke-width="2.7" />
<path d="M182.4 115.6 L182.4 135.4" fill="none" stroke="#231f20" stroke-width="0.9" />
<path d="M182.4 368.1 L182.4 387.6" fill="none" stroke="#231f20" stroke-width="0.9" />
<rect x="176.7" y="226.4" width="31.7" height="49.6" fill="#c6e29b" stroke="#231f20" stroke-width="0.9"/>
<text transform="translate(184.8 232.5) rotate(90) scale(0.79 1)" font-size="21.7">8338</text>
<path d="M180.2 274.1 L192.3 284" fill="none" stroke="#231f20" stroke-width="2.8" />
<path d="M208.4 276 L208.4 282 L1056.6 282 L1080.2 293.7 L1139.7 293.7 L1139.7 283.5 L1087.7 283.5 L1087.7 219.1 L1139.7 219.1 L1139.7 208.9 L1080.2 208.9 L1056.6 221.3 L176.2 221.3 L176.2 276" fill="none" stroke="#2b2729" stroke-width="0.9" />
<path d="M656 221.3 L656 282" fill="none" stroke="#2b2729" stroke-width="0.9" />
<rect x="662.1" y="226.2" width="72.3" height="25.5" fill="#c3cb34" stroke="#231f20" stroke-width="0.9"/>
<rect x="662.1" y="251.7" width="72.3" height="25.3" fill="#c3cb34" stroke="#231f20" stroke-width="0.9"/>
<text transform="translate(669.3 246.2) scale(0.755 1)" font-size="21.7" text-anchor="start">8291</text>
<text transform="translate(669.3 271.6) scale(0.755 1)" font-size="21.7" text-anchor="start">8284</text>
<rect x="738.4" y="226.2" width="72.1" height="25.5" fill="#c3cb34" stroke="#231f20" stroke-width="0.9"/>
<rect x="738.4" y="251.7" width="72.1" height="25.3" fill="#c3cb34" stroke="#231f20" stroke-width="0.9"/>
<text transform="translate(754.5 246.2) scale(0.755 1)" font-size="21.7" text-anchor="start">8289</text>
<text transform="translate(754.5 271.6) scale(0.755 1)" font-size="21.7" text-anchor="start">8282</text>
<rect x="729.5" y="219.3" width="14" height="6" fill="#fff"/>
<rect x="729.5" y="278" width="14" height="6" fill="#fff"/>
<path d="M729.7 221.3 L729.7 226.2" fill="none" stroke="#2b2729" stroke-width="0.9" />
<path d="M743.3 221.3 L743.3 226.2" fill="none" stroke="#2b2729" stroke-width="0.9" />
<path d="M729.7 282 L729.7 277" fill="none" stroke="#2b2729" stroke-width="0.9" />
<path d="M743.3 282 L743.3 277" fill="none" stroke="#2b2729" stroke-width="0.9" />
<rect x="734.4" y="239.5" width="4" height="24" fill="#fff"/>
<path d="M734.9 239.5 L734.9 263.5" fill="none" stroke="#2b2729" stroke-width="0.9" />
<path d="M737.9 239.5 L737.9 263.5" fill="none" stroke="#2b2729" stroke-width="0.9" />
<path d="M725.6 230 L735.4 239.6" fill="none" stroke="#231f20" stroke-width="2.5" stroke-linecap="round"/>
<path d="M747.2 230 L737.4 239.6" fill="none" stroke="#231f20" stroke-width="2.5" stroke-linecap="round"/>
<path d="M725.6 273 L735.4 263.2" fill="none" stroke="#231f20" stroke-width="2.5" stroke-linecap="round"/>
<path d="M747.2 273 L737.4 263.2" fill="none" stroke="#231f20" stroke-width="2.5" stroke-linecap="round"/>
<path d="M1103.9 219.1 L1103.9 283.5" fill="none" stroke="#2b2729" stroke-width="0.75" />
<path d="M1106.3 219.1 L1106.3 283.5" fill="none" stroke="#2b2729" stroke-width="0.75" />
<path d="M1108.6 219.1 L1108.6 283.5" fill="none" stroke="#2b2729" stroke-width="0.75" />
<path d="M1111 219.1 L1111 283.5" fill="none" stroke="#2b2729" stroke-width="0.75" />
<path d="M1113.3 219.1 L1113.3 283.5" fill="none" stroke="#2b2729" stroke-width="0.75" />
<path d="M1115.7 219.1 L1115.7 283.5" fill="none" stroke="#2b2729" stroke-width="0.75" />
<path d="M1118 219.1 L1118 283.5" fill="none" stroke="#2b2729" stroke-width="0.75" />
<path d="M1120.4 219.1 L1120.4 283.5" fill="none" stroke="#2b2729" stroke-width="0.75" />
<path d="M1122.7 219.1 L1122.7 283.5" fill="none" stroke="#2b2729" stroke-width="0.75" />
<path d="M1125.1 219.1 L1125.1 283.5" fill="none" stroke="#2b2729" stroke-width="0.75" />
<path d="M1110.3 219.1 L1118.7 235.9" fill="none" stroke="#2b2729" stroke-width="0.75" />
<path d="M1118.7 267.2 L1110.3 283.5" fill="none" stroke="#2b2729" stroke-width="0.75" />
<path d="M1111.9 219.1 L1120.3 235.9" fill="none" stroke="#2b2729" stroke-width="0.75" />
<path d="M1120.3 267.2 L1111.9 283.5" fill="none" stroke="#2b2729" stroke-width="0.75" />
<path d="M1104 235.9 L1129 235.9" stroke="#231f20" stroke-width="2.1" stroke-linecap="round"/>
<path d="M1104 267.2 L1129 267.2" stroke="#231f20" stroke-width="2.1" stroke-linecap="round"/>
<path d="M1104 251.3 L1129 251.3" fill="none" stroke="#231f20" stroke-width="0.9" />
<path d="M1154 234.1 L1164.4 234.1 L1165.6 232.5 L1181.6 232.5 L1182.8 234.1 L1195 234.1 L1196.2 232.5 L1212.3 232.5 L1213.5 234.1 L1225.7 234.1 L1226.9 232.5 L1242.9 232.5 L1244.1 234.1 L1254.5 234.1 L1254.5 210 L1154 210Z" fill="#fff" stroke="#2b2729" stroke-width="1.0" stroke-linejoin="miter" />
<path d="M1154 267.9 L1164.4 267.9 L1165.6 269.5 L1181.6 269.5 L1182.8 267.9 L1195 267.9 L1196.2 269.5 L1212.3 269.5 L1213.5 267.9 L1225.7 267.9 L1226.9 269.5 L1242.9 269.5 L1244.1 267.9 L1254.5 267.9 L1254.5 292.8 L1154 292.8Z" fill="#fff" stroke="#2b2729" stroke-width="1.0" stroke-linejoin="miter" />
<text x="1166.4" y="228.2" font-size="16.8" textLength="82.8" lengthAdjust="spacingAndGlyphs" style="stroke-width:0.2px">ELEVATORS</text>
<text x="1166.4" y="286.5" font-size="16.8" textLength="82.8" lengthAdjust="spacingAndGlyphs" style="stroke-width:0.2px">ELEVATORS</text>
<path d="M1303.5 221.3 L1288.4 208.6 Q1284.7 207.8 1284.7 211.5 L1284.7 246 L1286.6 246 L1286.6 256.7 L1284.7 256.7 L1284.7 291.3 Q1284.7 295 1288.4 294.2 L1303.5 282" fill="none" stroke="#2b2729" stroke-width="0.9"/>
<path d="M1303.5 221.3 L1492.3 221.3 L1492.3 226.4" fill="none" stroke="#2b2729" stroke-width="0.9" />
<path d="M1303.5 282 L1492.3 282 L1492.3 277" fill="none" stroke="#2b2729" stroke-width="0.9" />
<path d="M1403.9 219.8 L1403.9 222.5" fill="none" stroke="#2b2729" stroke-width="0.9" />
<path d="M1403.9 280.8 L1403.9 283.5" fill="none" stroke="#2b2729" stroke-width="0.9" />
<rect x="1425.3" y="226.2" width="71" height="25.5" fill="#c3cb34" stroke="#231f20" stroke-width="0.9"/>
<rect x="1425.3" y="251.7" width="71" height="25.3" fill="#c3cb34" stroke="#231f20" stroke-width="0.9"/>
<text transform="translate(1442 246.2) scale(0.817 1)" font-size="21.7" text-anchor="start">8231</text>
<text transform="translate(1442 271.6) scale(0.817 1)" font-size="21.7" text-anchor="start">8224</text>
<path d="M1496.3 235.2 L1504.4 235.2" fill="none" stroke="#2b2729" stroke-width="0.9" />
<path d="M1496.3 252 L1504.4 252" fill="none" stroke="#2b2729" stroke-width="0.9" />
<path d="M1496.3 268.8 L1504.4 268.8" fill="none" stroke="#2b2729" stroke-width="0.9" />
<path d="M1489.6 229.8 L1499 239.2" fill="none" stroke="#231f20" stroke-width="2.8" />
<path d="M1489.6 271.4 L1500.4 262" fill="none" stroke="#231f20" stroke-width="2.8" />
<path d="M1958 221.3 L1504.4 221.3 L1504.4 282 L1958 282" fill="none" stroke="#2b2729" stroke-width="0.9" />
<path d="M1853 221.3 L1853 282" fill="none" stroke="#2b2729" stroke-width="0.9" />
<rect x="1676.1" y="245.1" width="53.4" height="36.9" fill="#c6e29b" stroke="#231f20" stroke-width="0.9"/>
<text transform="translate(1682.6 269.8) scale(0.817 1)" font-size="21.7" text-anchor="start">8202</text>
<rect x="1958.2" y="226.2" width="72.4" height="25.5" fill="#c3cb34" stroke="#231f20" stroke-width="0.9"/>
<rect x="1958.2" y="251.7" width="72.4" height="25.3" fill="#c3cb34" stroke="#231f20" stroke-width="0.9"/>
<text transform="translate(1973.5 246.2) scale(0.817 1)" font-size="21.7" text-anchor="start">8185</text>
<text transform="translate(1973.5 271.6) scale(0.817 1)" font-size="21.7" text-anchor="start">8176</text>
<rect x="2034.4" y="226.2" width="73.2" height="25.5" fill="#c3cb34" stroke="#231f20" stroke-width="0.9"/>
<rect x="2034.4" y="251.7" width="73.2" height="25.3" fill="#c3cb34" stroke="#231f20" stroke-width="0.9"/>
<text transform="translate(2048.6 246.2) scale(0.817 1)" font-size="21.7" text-anchor="start">8183</text>
<text transform="translate(2048.6 271.6) scale(0.817 1)" font-size="21.7" text-anchor="start">8174</text>
<path d="M1958 221.3 L2025.5 221.3 L2025.5 226.2" fill="none" stroke="#2b2729" stroke-width="0.9" />
<path d="M1958 282 L2025.5 282 L2025.5 277" fill="none" stroke="#2b2729" stroke-width="0.9" />
<rect x="2030.6" y="239.5" width="3.8" height="24" fill="#fff"/>
<path d="M2031 239.5 L2031 263.5" fill="none" stroke="#2b2729" stroke-width="0.9" />
<path d="M2034 239.5 L2034 263.5" fill="none" stroke="#2b2729" stroke-width="0.9" />
<path d="M2021.7 230 L2031.5 239.6" fill="none" stroke="#231f20" stroke-width="2.5" stroke-linecap="round"/>
<path d="M2043.3 230 L2033.5 239.6" fill="none" stroke="#231f20" stroke-width="2.5" stroke-linecap="round"/>
<path d="M2021.7 273 L2031.5 263.2" fill="none" stroke="#231f20" stroke-width="2.5" stroke-linecap="round"/>
<path d="M2043.3 273 L2033.5 263.2" fill="none" stroke="#231f20" stroke-width="2.5" stroke-linecap="round"/>
<path d="M2039.3 226.2 L2039.3 221.3 L2117 221.3 L2118 222.5 L2127 222.5 L2128 221.3 L2151.8 221.3 L2177.3 209 L2213.5 209 L2213.5 213.8 L2199.5 213.8 L2199.5 246 L2198 246 L2198 256.7 L2199.5 256.7 L2199.5 290.2 L2213.5 290.2 L2213.5 294.2 L2177.3 294.2 L2151.8 282 L2128 282 L2127 280.8 L2118 280.8 L2117 282 L2039.3 282 L2039.3 277" fill="none" stroke="#2b2729" stroke-width="0.9" />
<path d="M2226.3 236.6 L2236.7 236.6 L2237.9 235 L2254.1 235 L2255.3 236.6 L2267.5 236.6 L2268.7 235 L2284.9 235 L2286.1 236.6 L2298.3 236.6 L2299.5 235 L2315.7 235 L2316.9 236.6 L2327.3 236.6 L2327.3 210.3 L2226.3 210.3Z" fill="#fff" stroke="#2b2729" stroke-width="1.0" stroke-linejoin="miter" />
<path d="M2226.3 266 L2236.7 266 L2237.9 267.6 L2254.1 267.6 L2255.3 266 L2267.5 266 L2268.7 267.6 L2284.9 267.6 L2286.1 266 L2298.3 266 L2299.5 267.6 L2315.7 267.6 L2316.9 266 L2327.3 266 L2327.3 292.9 L2226.3 292.9Z" fill="#fff" stroke="#2b2729" stroke-width="1.0" stroke-linejoin="miter" />
<text x="2238.3" y="229.5" font-size="16.8" textLength="82.9" lengthAdjust="spacingAndGlyphs" style="stroke-width:0.2px">ELEVATORS</text>
<text x="2238.3" y="285.6" font-size="16.8" textLength="82.9" lengthAdjust="spacingAndGlyphs" style="stroke-width:0.2px">ELEVATORS</text>
<path d="M2399.8 209.3 L2343.6 209.3 L2343.6 218 L2347 219 L2353.3 219" fill="none" stroke="#2b2729" stroke-width="0.9" />
<path d="M2399.8 294.1 L2343.6 294.1 L2343.6 285.5 L2347 284.5 L2353.3 284.5" fill="none" stroke="#2b2729" stroke-width="0.9" />
<path d="M2353.3 215.2 L2396.2 215.2 L2396.2 285.6 L2353.3 285.6 L2353.3 287.8 L2399.8 287.8" fill="none" stroke="#2b2729" stroke-width="0.9" />
<path d="M2353.3 215.2 L2353.3 217.6 L2392.5 217.6 L2392.5 283.6 L2353.3 283.6" fill="none" stroke="#2b2729" stroke-width="0.9" />
<path d="M2399.8 207.3 L2399.8 295.4" fill="none" stroke="#2b2729" stroke-width="0.9" />
<path d="M2359.4 217.6 L2359.4 283.6" fill="none" stroke="#2b2729" stroke-width="0.75" />
<path d="M2362.8 217.6 L2362.8 283.6" fill="none" stroke="#2b2729" stroke-width="0.75" />
<path d="M2366.1 217.6 L2366.1 283.6" fill="none" stroke="#2b2729" stroke-width="0.75" />
<path d="M2369.5 217.6 L2369.5 283.6" fill="none" stroke="#2b2729" stroke-width="0.75" />
<path d="M2372.9 217.6 L2372.9 283.6" fill="none" stroke="#2b2729" stroke-width="0.75" />
<path d="M2376.2 217.6 L2376.2 283.6" fill="none" stroke="#2b2729" stroke-width="0.75" />
<path d="M2379.6 217.6 L2379.6 283.6" fill="none" stroke="#2b2729" stroke-width="0.75" />
<path d="M2382.9 217.6 L2382.9 283.6" fill="none" stroke="#2b2729" stroke-width="0.75" />
<path d="M2386.3 217.6 L2386.3 283.6" fill="none" stroke="#2b2729" stroke-width="0.75" />
<path d="M2367.5 217.6 L2378.2 234.2" fill="none" stroke="#2b2729" stroke-width="0.75" />
<path d="M2378.2 268 L2367.5 283.6" fill="none" stroke="#2b2729" stroke-width="0.75" />
<path d="M2369.1 217.6 L2379.8 234.2" fill="none" stroke="#2b2729" stroke-width="0.75" />
<path d="M2379.8 268 L2369.1 283.6" fill="none" stroke="#2b2729" stroke-width="0.75" />
<rect x="2352.6" y="232.5" width="36.7" height="3.4" rx="1.7" fill="#fff" stroke="#231f20" stroke-width="0.9"/>
<rect x="2352.6" y="266.3" width="36.7" height="3.4" rx="1.7" fill="#fff" stroke="#231f20" stroke-width="0.9"/>
<path d="M2353.6 250.6 L2388.3 250.6" fill="none" stroke="#231f20" stroke-width="0.9" />
<path d="M2401 207.8 L2564.7 207.8 L2564.7 215 L2566.5 215 L2566.5 288.5 L2564.7 288.5 L2564.7 295.4 L2401 295.4 L2401 207.8" fill="none" stroke="#2b2729" stroke-width="0.9" />
<rect x="2575.2" y="213.9" width="66.7" height="25.1" fill="#c3cb34" stroke="#231f20" stroke-width="0.9"/>
<text transform="translate(2587.5 233.4) scale(0.817 1)" font-size="21.7" text-anchor="start">8135</text>
<rect x="2570.8" y="239" width="71.1" height="25.7" fill="#c3cb34" stroke="#231f20" stroke-width="0.9"/>
<text transform="translate(2587.5 259.1) scale(0.817 1)" font-size="21.7" text-anchor="start">8137</text>
<rect x="2570.8" y="264.7" width="71.1" height="25.9" fill="#c3cb34" stroke="#231f20" stroke-width="0.9"/>
<text transform="translate(2587.5 285) scale(0.817 1)" font-size="21.7" text-anchor="start">8128</text>
<rect x="2575.2" y="213.9" width="70.5" height="24.7" fill="#c3cb34" stroke="#231f20" stroke-width="0.9"/>
<text transform="translate(2587.5 233.4) scale(0.817 1)" font-size="21.7" text-anchor="start">8135</text>
<rect x="2648" y="213.9" width="71.2" height="25.1" fill="#c3cb34" stroke="#231f20" stroke-width="0.9"/>
<text transform="translate(2662.5 233.4) scale(0.817 1)" font-size="21.7" text-anchor="start">8119</text>
<rect x="2648" y="239" width="71.2" height="25.7" fill="#c3cb34" stroke="#231f20" stroke-width="0.9"/>
<text transform="translate(2662.5 259.1) scale(0.817 1)" font-size="21.7" text-anchor="start">8121</text>
<rect x="2648" y="264.7" width="71.2" height="25.9" fill="#c3cb34" stroke="#231f20" stroke-width="0.9"/>
<text transform="translate(2662.5 285) scale(0.817 1)" font-size="21.7" text-anchor="start">8114</text>
<rect x="2730.2" y="213.9" width="71.5" height="25.1" fill="#c3cb34" stroke="#231f20" stroke-width="0.9"/>
<text transform="translate(2741.5 233.4) scale(0.817 1)" font-size="21.7" text-anchor="start">8115</text>
<rect x="2730.2" y="239" width="71.5" height="25.7" fill="#c3cb34" stroke="#231f20" stroke-width="0.9"/>
<text transform="translate(2741.5 259.1) scale(0.817 1)" font-size="21.7" text-anchor="start">8117</text>
<rect x="2730.2" y="264.7" width="71.5" height="25.9" fill="#c3cb34" stroke="#231f20" stroke-width="0.9"/>
<text transform="translate(2741.5 285) scale(0.817 1)" font-size="21.7" text-anchor="start">8112</text>
<path d="M2575.2 213.9 L2575.2 208.9 L2715 208.9 L2715 213.9" fill="none" stroke="#2b2729" stroke-width="0.9" />
<path d="M2575.2 290.6 L2575.2 294.3 L2715 294.3 L2715 290.6" fill="none" stroke="#2b2729" stroke-width="0.9" />
<path d="M2734 213.9 L2725.9 213.9 L2725.9 208.9 L2830.8 208.9 L2830.8 294.3 L2725.9 294.3 L2725.9 290.6 L2734 290.6" fill="none" stroke="#2b2729" stroke-width="0.9" />
<path d="M2567.5 230 L2577.5 220" fill="none" stroke="#231f20" stroke-width="2.8" />
<path d="M2567.5 254.5 L2577.5 245.5" fill="none" stroke="#231f20" stroke-width="2.8" />
<path d="M2567.5 276.5 L2577.5 286" fill="none" stroke="#231f20" stroke-width="2.8" />
<path d="M2712.5 218.5 L2722.5 228" fill="none" stroke="#231f20" stroke-width="2.8" />
<path d="M2712.5 244.5 L2722.5 254" fill="none" stroke="#231f20" stroke-width="2.8" />
<path d="M2712.5 286 L2722.5 276.5" fill="none" stroke="#231f20" stroke-width="2.8" />
<path d="M2738 218.5 L2728.5 228" fill="none" stroke="#231f20" stroke-width="2.8" />
<path d="M2738 244.5 L2728.5 254" fill="none" stroke="#231f20" stroke-width="2.8" />
<path d="M2728.5 276.5 L2738 286" fill="none" stroke="#231f20" stroke-width="2.8" />
<path d="M1507.2 303 L1518.3 303" fill="none" stroke="#2b2729" stroke-width="0.9" />
<path d="M1569.2 303 L1592.4 303" fill="none" stroke="#2b2729" stroke-width="0.9" />
<path d="M1641.8 303 L1655.4 303" fill="none" stroke="#2b2729" stroke-width="0.9" />
<path d="M1507.2 301.8 L1507.2 336.3" fill="none" stroke="#2b2729" stroke-width="0.9" />
<path d="M1655.4 301.8 L1655.4 335.3" fill="none" stroke="#2b2729" stroke-width="0.9" />
<path d="M1507.2 336.3 L1517 336.3 L1517 327.5 L1544.1 327.5 L1544.1 426.6 L1507.2 426.6Z" fill="#f27c80" stroke="#231f20" stroke-width="0.9" stroke-linejoin="miter" />
<path d="M1544.1 327.5 L1571.1 327.5 L1571.1 335.3 L1581.2 335.3 L1581.2 426.6 L1544.1 426.6Z" fill="#f27c80" stroke="#231f20" stroke-width="0.9" stroke-linejoin="miter" />
<path d="M1581.2 335.3 L1590.5 335.3 L1590.5 327.5 L1618.2 327.5 L1618.2 426.6 L1581.2 426.6Z" fill="#f27c80" stroke="#231f20" stroke-width="0.9" stroke-linejoin="miter" />
<path d="M1618.2 327.5 L1644.6 327.5 L1644.6 335.3 L1655.4 335.3 L1655.4 426.6 L1618.2 426.6Z" fill="#f27c80" stroke="#231f20" stroke-width="0.9" stroke-linejoin="miter" />
<path d="M1507.2 404.3 L1655.4 404.3" fill="none" stroke="#231f20" stroke-width="0.9" />
<path d="M1581.2 301.8 L1581.2 426.6" fill="none" stroke="#231f20" stroke-width="1.3" />
<path d="M1518.3 293.4 L1569.2 293.4 L1569.2 317.6 L1558 317.6 L1558 327.5 L1518.3 327.5Z" fill="#c6e29b" stroke="#231f20" stroke-width="0.9" stroke-linejoin="miter" />
<path d="M1592.4 293.4 L1641.8 293.4 L1641.8 327.5 L1603.2 327.5 L1603.2 317.1 L1592.4 317.1Z" fill="#c6e29b" stroke="#231f20" stroke-width="0.9" stroke-linejoin="miter" />
<text transform="translate(1523 314.8) scale(0.845 1)" font-size="21" text-anchor="start">8218</text>
<text transform="translate(1597.4 312.2) scale(0.845 1)" font-size="21" text-anchor="start">8212</text>
<path d="M1551.5 321.4 L1551.5 332.6" fill="none" stroke="#231f20" stroke-width="2.6" />
<path d="M1610.6 321.4 L1610.6 332.6" fill="none" stroke="#231f20" stroke-width="2.6" />
<text transform="translate(1520.5 342.2) rotate(90) scale(0.79 1)" font-size="21.7">8220</text>
<text transform="translate(1552.4 342.2) rotate(90) scale(0.79 1)" font-size="21.7">8216</text>
<text transform="translate(1594 342.2) rotate(90) scale(0.79 1)" font-size="21.7">8214</text>
<text transform="translate(1626.7 342.2) rotate(90) scale(0.79 1)" font-size="21.7">8210</text>
<path d="M1500.1 364.6 L1510.8 364.6" fill="none" stroke="#231f20" stroke-width="2.5" />
<path d="M1650.4 360.2 L1661.8 360.2" fill="none" stroke="#231f20" stroke-width="2.5" />
<rect x="1498.2" y="426.2" width="14.8" height="15.9" fill="#231f20"/>
<rect x="1647.2" y="426.2" width="14.8" height="15.9" fill="#231f20"/>
<path d="M2780.6 122.8 L2845.7 122.8 L2876.3 156.5 L2865.7 156.5 L2865.7 158.2 L2796.6 158.2 L2791.3 163.1 L2780.6 163.1Z" fill="#d6e9da" stroke="#231f20" stroke-width="0.9" stroke-linejoin="miter" />
<path d="M2780.6 380.2 L2845.7 380.2 L2876.3 346.5 L2865.7 346.5 L2865.7 344.8 L2796.6 344.8 L2791.3 339.9 L2780.6 339.9Z" fill="#d6e9da" stroke="#231f20" stroke-width="0.9" stroke-linejoin="miter" />
<path d="M2802.4 158.4 L2865.7 158.4 L2865.7 160 L2884.3 160 L2906.9 183.1 L2879 183.1 L2879 182.3 L2802.4 182.3Z" fill="#d6e9da" stroke="#231f20" stroke-width="0.9" stroke-linejoin="miter" />
<path d="M2802.4 344.6 L2865.7 344.6 L2865.7 343 L2884.3 343 L2906.9 319.9 L2879 319.9 L2879 320.7 L2802.4 320.7Z" fill="#d6e9da" stroke="#231f20" stroke-width="0.9" stroke-linejoin="miter" />
<path d="M2843.1 184.4 L2879 184.4 L2879 187.1 L2913.5 187.1 L2928.7 208.3 L2849.7 208.3 L2849.7 200.4 L2843.1 199Z" fill="#d6e9da" stroke="#231f20" stroke-width="0.9" stroke-linejoin="miter" />
<path d="M2843.1 318.6 L2879 318.6 L2879 315.9 L2913.5 315.9 L2928.7 294.7 L2849.7 294.7 L2849.7 302.6 L2843.1 304Z" fill="#d6e9da" stroke="#231f20" stroke-width="0.9" stroke-linejoin="miter" />
<path d="M2842.5 213.1 L2895.4 213.1 L2895.4 215.2 L2939.2 216.8 L2942.2 228 L2944.1 239.2 L2849.2 239.2 L2849.2 229.8 L2842.5 228.5Z" fill="#d6e9da" stroke="#231f20" stroke-width="0.9" stroke-linejoin="miter" />
<path d="M2849.2 239.2 L2944.1 239.2 L2944.8 251.5 L2944.1 263.8 L2893.8 265.4 L2893.8 263.8 L2842.5 263.8 L2842.5 250 L2849.2 248.6Z" fill="#d6e9da" stroke="#231f20" stroke-width="0.9" stroke-linejoin="miter" />
<path d="M2842.5 263.8 L2893.8 263.8 L2893.8 265.4 L2943.9 265.4 L2942 276 L2939.2 286.2 L2895.4 287.8 L2895.4 289.9 L2849.2 289.9 L2849.2 280.2 L2842.5 278.7Z" fill="#d6e9da" stroke="#231f20" stroke-width="0.9" stroke-linejoin="miter" />
<path d="M2777.4 196.4 L2802.4 196.4 L2802.4 182.3" fill="none" stroke="#2b2729" stroke-width="0.9" />
<path d="M2777.4 306.6 L2802.4 306.6 L2802.4 320.7" fill="none" stroke="#2b2729" stroke-width="0.9" />
<path d="M2830.8 208.9 L2830.8 294.3" fill="none" stroke="#2b2729" stroke-width="0.9" />
<text transform="translate(2785.8 149.3) scale(0.83 1)" font-size="21.7" text-anchor="start">8109</text>
<g transform="translate(2842 143) rotate(0) scale(1.0)" fill="none" stroke="#231f20"><path d="M2.2 -5.9 A7.3 7.3 0 1 0 -5.5 4.8" stroke-width="1.9"/><path d="M8.4 -3.4 L-1.9 -3.4" stroke-width="4.0"/><path d="M-0.2 -4.4 L-0.4 4.0 L-7.5 9.0" stroke-width="3.0" stroke-linejoin="round" stroke-linecap="round"/><path d="M3.7 -2.2 L3.7 3.6" stroke-width="1.5"/><circle cx="12.0" cy="-3.7" r="2.4" fill="#231f20" stroke="none"/></g>
<text transform="translate(2810.6 179.6) scale(0.83 1)" font-size="21.7" text-anchor="start">8107</text>
<text transform="translate(2853.8 204.3) scale(0.83 1)" font-size="21.7" text-anchor="start">8105</text>
<text transform="translate(2860.8 234.6) scale(0.83 1)" font-size="21.7" text-anchor="start">8103</text>
<rect x="2913.1" y="224.6" width="9.1" height="9.1" fill="none" stroke="#231f20" stroke-width="1.7"/>
<text transform="translate(2860.8 258.3) scale(0.83 1)" font-size="21.7" text-anchor="start">8101</text>
<text transform="translate(2860.8 283.2) scale(0.83 1)" font-size="21.7" text-anchor="start">8100</text>
<rect x="2913.1" y="272.1" width="9.1" height="9.1" fill="none" stroke="#231f20" stroke-width="1.7"/>
<text transform="translate(2853.2 311.5) scale(0.83 1)" font-size="21.7" text-anchor="start">8102</text>
<text transform="translate(2810.6 342.1) scale(0.83 1)" font-size="21.7" text-anchor="start">8104</text>
<text transform="translate(2785.4 364.8) scale(0.83 1)" font-size="21.7" text-anchor="start">8106</text>
<rect x="2787.7" y="368.5" width="8.7" height="8.7" fill="none" stroke="#231f20" stroke-width="1.7"/>
<g transform="translate(2845.5 365) rotate(0) scale(1.0)" fill="none" stroke="#231f20"><path d="M2.2 -5.9 A7.3 7.3 0 1 0 -5.5 4.8" stroke-width="1.9"/><path d="M8.4 -3.4 L-1.9 -3.4" stroke-width="4.0"/><path d="M-0.2 -4.4 L-0.4 4.0 L-7.5 9.0" stroke-width="3.0" stroke-linejoin="round" stroke-linecap="round"/><path d="M3.7 -2.2 L3.7 3.6" stroke-width="1.5"/><circle cx="12.0" cy="-3.7" r="2.4" fill="#231f20" stroke="none"/></g>
<path d="M2936.3 233.5 L2936.3 247" fill="none" stroke="#231f20" stroke-width="2.6" />
<path d="M2950 206.2 C2953.6 236 2953.6 267 2950 296.8" fill="none" stroke="#111" stroke-width="1.6"/>
<path d="M37.6 251.5 C37.8 248.2 38 238.6 38.6 232 C39.2 225.4 40.2 218.7 41.5 212 C42.8 205.3 44.2 199.5 46.5 192 C48.8 184.5 52.4 174.3 55.2 167.1 C58.1 159.9 60.8 154.6 63.6 148.7 C66.4 142.8 69.5 136.7 72 131.9 C74.5 127.1 76.9 122.6 78.7 120.1 C80.5 117.5 81.1 117.4 82.8 116.6 C84.5 115.8 86.5 115.5 88.7 115.3 C90.9 115.1 93.5 115.3 96 115.3 C98.5 115.3 102.7 115.3 104 115.3 L1057 115.3 L1057 102.7 L1304.4 102.7 L1304.4 115.3 L2154 115.3 L2154 102.7 L2800 102.7 C2803.7 102.7 2815 102.1 2822 102.7 C2829 103.3 2836.3 104.7 2842 106.2 C2847.7 107.7 2851.3 109 2856 111.8 C2860.7 114.6 2865.8 118.8 2870 123 C2874.2 127.2 2877.3 132.8 2881 137 C2884.7 141.2 2887.1 143.7 2892.2 148.1 C2897.3 152.5 2906.2 158.8 2911.8 163.5 C2917.4 168.2 2921.2 171.3 2925.8 176 C2930.5 180.7 2935.7 186.4 2939.7 191.4 C2943.7 196.4 2948.3 203.7 2950 206.2 L2956.5 210.2 C2961 237 2961 266 2956.5 292.8 L2950 296.8 C2948.3 299.3 2943.7 306.6 2939.7 311.6 C2935.7 316.6 2930.5 322.4 2925.8 327 C2921.2 331.6 2917.4 334.9 2911.8 339.5 C2906.2 344.1 2897.3 350.5 2892.2 354.9 C2887.1 359.3 2884.7 361.8 2881 366 C2877.3 370.2 2874.2 375.8 2870 380 C2865.8 384.2 2860.7 388.4 2856 391.2 C2851.3 394 2847.7 395.3 2842 396.8 C2836.3 398.3 2829 399.7 2822 400.3 C2815 400.9 2803.7 400.3 2800 400.3 L2154.9 400.3 L2154.9 387.7 L1655.4 387.7 L1655.4 426.6 L1507.2 426.6 L1507.2 387.7 L1305.2 387.7 L1305.2 400.3 L1056.5 400.3 L1056.5 387.7 L104 387.7 C102.7 387.7 98.5 387.7 96 387.7 C93.5 387.7 90.9 387.9 88.7 387.7 C86.5 387.5 84.5 387.2 82.8 386.4 C81.1 385.6 80.5 385.4 78.7 382.9 C76.9 380.3 74.5 375.9 72 371.1 C69.5 366.3 66.4 360.2 63.6 354.3 C60.8 348.4 58.1 343.1 55.2 335.9 C52.4 328.7 48.8 318.5 46.5 311 C44.2 303.5 42.8 297.7 41.5 291 C40.2 284.3 39.2 277.6 38.6 271 C38 264.4 37.8 254.8 37.6 251.5 Z" fill="none" stroke="#111" stroke-width="2.3" stroke-linejoin="miter"/>
</svg>
</body></html>
